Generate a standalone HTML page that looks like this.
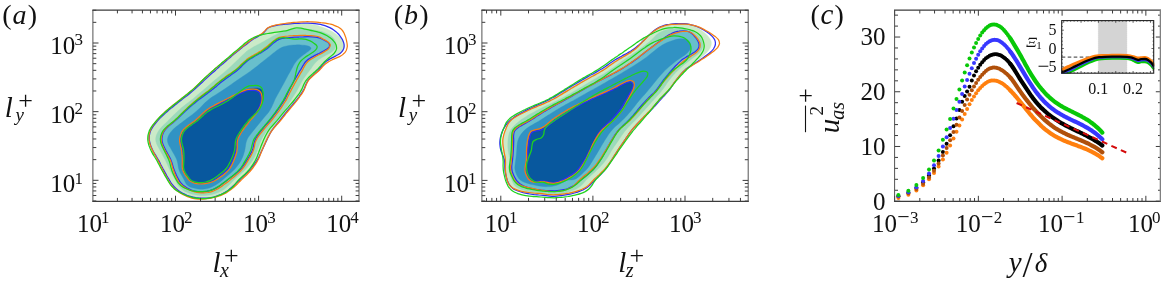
<!DOCTYPE html>
<html><head><meta charset="utf-8"><title>figure</title>
<style>html,body{margin:0;padding:0;background:#fff}svg{display:block}text{font-family:'Liberation Serif', 'DejaVu Serif', serif;fill:#111}.it{font-style:italic}</style></head><body>
<svg width="1161" height="285" viewBox="0 0 1161 285">
<rect width="1161" height="285" fill="#fff"/>
<g id="panel-a">
<path d="M169.2 180.0C168.6 178.9 167.7 177.4 167.0 176.1C166.3 174.7 165.6 173.4 164.9 172.1C164.2 170.7 163.5 169.4 162.8 168.1C162.2 166.7 161.5 165.4 160.8 164.0C160.2 162.7 159.5 161.3 158.8 160.0C158.0 158.7 157.2 157.4 156.4 156.1C155.7 154.9 154.8 153.6 154.1 152.3C153.4 151.0 152.7 149.7 152.0 148.3C151.4 146.9 150.8 145.5 150.4 144.1C149.9 142.7 149.6 141.2 149.4 139.7C149.3 138.3 149.3 136.7 149.5 135.3C149.7 133.8 150.0 132.3 150.6 130.9C151.1 129.5 151.8 128.2 152.6 126.9C153.4 125.7 154.3 124.5 155.3 123.3C156.2 122.1 157.2 121.0 158.2 119.9C159.2 118.8 160.3 117.7 161.4 116.7C162.5 115.6 163.6 114.6 164.7 113.6C165.8 112.6 167.0 111.7 168.1 110.7C169.3 109.7 170.4 108.8 171.6 107.8C172.8 106.9 174.0 105.9 175.1 105.0C176.3 104.1 177.5 103.2 178.7 102.3C179.9 101.3 181.1 100.4 182.3 99.5C183.4 98.5 184.6 97.6 185.8 96.7C187.0 95.7 188.1 94.8 189.3 93.8C190.5 92.9 191.6 91.9 192.8 91.0C193.9 90.0 195.0 89.0 196.1 87.9C197.2 86.9 198.3 85.8 199.3 84.8C200.4 83.7 201.5 82.7 202.6 81.6C203.6 80.6 204.7 79.5 205.8 78.5C206.9 77.4 208.0 76.4 209.1 75.4C210.2 74.4 211.3 73.3 212.4 72.3C213.5 71.3 214.6 70.3 215.8 69.3C216.9 68.3 218.0 67.4 219.2 66.4C220.3 65.4 221.5 64.4 222.6 63.5C223.8 62.5 224.9 61.5 226.1 60.6C227.3 59.6 228.4 58.7 229.6 57.7C230.7 56.8 231.9 55.8 233.1 54.8C234.2 53.9 235.4 53.0 236.6 52.0C237.8 51.1 238.9 50.1 240.1 49.2C241.3 48.3 242.5 47.4 243.7 46.4C244.9 45.5 246.0 44.6 247.2 43.7C248.4 42.8 249.6 41.8 250.8 41.0C252.1 40.1 253.3 39.2 254.5 38.4C255.8 37.6 257.2 37.0 258.5 36.3C259.9 35.6 261.3 35.1 262.5 34.2C263.7 33.4 264.5 32.2 265.6 31.2C266.6 30.2 267.6 29.1 268.8 28.3C270.0 27.5 271.5 27.0 272.9 26.6C274.3 26.1 275.8 25.8 277.3 25.5C278.8 25.1 280.2 24.9 281.7 24.7C283.2 24.4 284.7 24.3 286.2 24.1C287.7 24.0 289.2 23.9 290.7 23.9C292.2 23.8 293.7 23.9 295.2 23.9C296.7 23.9 298.2 24.0 299.7 24.0C301.2 24.0 302.7 24.0 304.2 24.0C305.7 24.0 307.3 24.0 308.7 24.1C310.2 24.2 311.7 24.4 313.2 24.6C314.7 24.9 316.2 25.2 317.6 25.6C319.1 26.0 320.5 26.5 321.9 27.0C323.3 27.5 324.7 28.0 326.1 28.6C327.5 29.2 328.9 29.8 330.2 30.5C331.5 31.2 332.9 31.9 334.1 32.8C335.3 33.6 336.5 34.6 337.7 35.5C338.9 36.4 340.2 37.2 341.2 38.2C342.1 39.3 343.0 40.5 343.5 41.8C344.0 43.1 344.4 44.7 344.3 46.1C344.3 47.5 343.8 49.0 343.0 50.2C342.3 51.3 341.0 52.3 339.8 53.2C338.6 54.1 337.3 54.8 336.0 55.6C334.7 56.4 333.4 57.1 332.1 57.9C330.9 58.7 329.6 59.6 328.5 60.5C327.3 61.4 326.2 62.5 325.1 63.5C324.0 64.5 322.9 65.6 321.9 66.6C320.8 67.7 319.7 68.8 318.6 69.8C317.6 70.8 316.4 71.8 315.3 72.9C314.2 73.9 313.0 74.8 312.0 75.9C310.9 76.9 309.8 78.0 308.9 79.1C307.9 80.3 307.2 81.6 306.5 82.9C305.8 84.2 305.4 85.7 304.8 87.1C304.1 88.4 303.5 89.8 302.8 91.1C302.0 92.4 301.2 93.6 300.3 94.9C299.5 96.1 298.6 97.3 297.6 98.5C296.7 99.7 295.8 100.9 294.8 102.0C293.9 103.2 292.9 104.3 291.9 105.5C290.9 106.6 289.9 107.7 289.0 108.9C288.0 110.0 287.0 111.2 286.1 112.4C285.2 113.5 284.2 114.7 283.3 115.9C282.4 117.1 281.4 118.3 280.5 119.4C279.5 120.6 278.5 121.7 277.5 122.8C276.5 124.0 275.5 125.1 274.6 126.2C273.6 127.4 272.6 128.5 271.8 129.8C270.9 131.0 270.1 132.3 269.3 133.6C268.6 134.9 267.9 136.2 267.2 137.5C266.5 138.9 265.9 140.2 265.3 141.6C264.6 143.0 264.0 144.3 263.4 145.7C262.8 147.1 262.2 148.5 261.6 149.8C261.0 151.2 260.4 152.6 259.8 154.0C259.2 155.4 258.6 156.8 257.9 158.1C257.3 159.4 256.5 160.7 255.7 162.0C255.0 163.3 254.1 164.6 253.2 165.8C252.4 167.0 251.5 168.2 250.5 169.3C249.5 170.5 248.5 171.6 247.5 172.7C246.4 173.8 245.4 174.8 244.3 175.9C243.2 176.9 242.1 178.0 241.0 179.0C240.0 180.1 238.9 181.1 237.8 182.2C236.8 183.2 235.7 184.3 234.6 185.3C233.5 186.3 232.3 187.3 231.2 188.3C230.0 189.2 228.8 190.1 227.6 191.0C226.3 191.8 225.0 192.6 223.7 193.3C222.4 194.0 221.0 194.6 219.6 195.1C218.2 195.6 216.7 196.1 215.3 196.5C213.9 196.9 212.4 197.2 210.9 197.4C209.4 197.7 207.9 197.8 206.4 197.9C204.9 198.0 203.4 198.0 201.9 198.0C200.4 197.9 198.9 197.8 197.4 197.6C195.9 197.4 194.4 197.2 193.0 196.8C191.5 196.5 190.1 196.0 188.7 195.5C187.3 195.0 185.9 194.4 184.5 193.8C183.2 193.1 181.8 192.4 180.5 191.7C179.3 190.9 178.0 190.0 176.8 189.1C175.7 188.2 174.5 187.2 173.5 186.1C172.5 185.0 171.5 183.6 170.8 182.6C170.0 181.5 169.8 181.1 169.2 180.0Z" fill="#cbeac8" stroke="#cbeac8" stroke-width="0.4"/>
<path d="M175.3 180.0C174.6 178.7 173.8 177.4 173.1 176.1C172.4 174.8 171.6 173.5 170.9 172.1C170.2 170.8 169.6 169.4 168.9 168.1C168.3 166.7 167.7 165.3 167.1 164.0C166.5 162.6 165.9 161.2 165.2 159.9C164.5 158.5 163.8 157.2 163.1 155.9C162.4 154.6 161.7 153.3 160.9 152.0C160.2 150.6 159.5 149.3 158.8 148.0C158.1 146.7 157.2 145.4 156.7 144.0C156.2 142.6 155.7 141.2 155.7 139.8C155.6 138.3 155.9 136.8 156.3 135.4C156.8 134.0 157.5 132.6 158.2 131.4C159.0 130.1 159.9 128.9 160.9 127.8C161.9 126.6 163.0 125.6 164.1 124.6C165.1 123.5 166.3 122.5 167.3 121.5C168.4 120.4 169.5 119.4 170.5 118.3C171.6 117.2 172.6 116.1 173.7 115.1C174.7 114.0 175.8 112.9 176.9 111.9C178.0 110.9 179.1 109.9 180.2 108.9C181.4 107.9 182.5 107.0 183.7 106.1C184.9 105.1 186.1 104.2 187.3 103.3C188.5 102.4 189.7 101.5 190.8 100.5C192.0 99.6 193.2 98.6 194.3 97.7C195.5 96.7 196.6 95.7 197.7 94.8C198.9 93.8 200.0 92.8 201.2 91.8C202.3 90.9 203.4 89.9 204.6 88.9C205.7 87.9 206.9 86.9 208.0 86.0C209.2 85.0 210.3 84.0 211.4 83.0C212.6 82.1 213.7 81.1 214.9 80.1C216.0 79.2 217.2 78.2 218.3 77.2C219.5 76.3 220.6 75.3 221.8 74.3C222.9 73.4 224.0 72.4 225.2 71.4C226.3 70.4 227.4 69.4 228.6 68.4C229.7 67.4 230.8 66.4 231.9 65.4C233.0 64.3 234.1 63.3 235.2 62.3C236.2 61.3 237.3 60.2 238.4 59.2C239.5 58.1 240.5 57.1 241.6 56.0C242.7 55.0 243.7 53.9 244.9 52.9C246.0 51.9 247.2 51.0 248.4 50.1C249.6 49.3 250.9 48.5 252.2 47.7C253.5 47.0 254.8 46.3 256.1 45.5C257.5 44.8 258.8 44.1 260.1 43.4C261.5 42.7 262.8 42.1 264.1 41.3C265.4 40.6 266.7 39.8 268.0 39.1C269.3 38.3 270.5 37.4 271.8 36.7C273.1 35.9 274.4 35.3 275.8 34.7C277.2 34.0 278.5 33.4 279.9 32.8C281.3 32.3 282.7 31.8 284.2 31.3C285.6 30.9 287.1 30.6 288.5 30.2C290.0 29.9 291.5 29.7 293.0 29.5C294.5 29.3 296.0 29.2 297.5 29.2C299.0 29.1 300.5 29.1 302.0 29.1C303.5 29.1 305.0 29.2 306.5 29.3C308.0 29.3 309.5 29.4 310.9 29.6C312.4 29.8 313.9 30.0 315.4 30.2C316.9 30.4 318.4 30.7 319.8 31.1C321.3 31.4 322.7 31.9 324.1 32.4C325.5 33.0 326.9 33.6 328.2 34.3C329.5 35.0 330.9 35.7 332.0 36.7C333.1 37.6 334.1 38.8 334.7 40.0C335.4 41.3 335.7 42.9 335.8 44.3C335.8 45.7 335.6 47.3 335.0 48.5C334.4 49.8 333.2 50.8 332.1 51.7C331.0 52.7 329.6 53.4 328.3 54.1C327.0 54.9 325.6 55.5 324.3 56.2C323.0 56.9 321.7 57.6 320.4 58.5C319.2 59.3 317.9 60.2 316.9 61.2C315.8 62.2 314.8 63.3 313.9 64.5C312.9 65.7 312.1 67.0 311.3 68.2C310.4 69.4 309.5 70.6 308.6 71.8C307.7 73.0 306.8 74.2 305.9 75.4C305.0 76.6 304.1 77.9 303.3 79.1C302.5 80.4 301.8 81.7 301.0 83.0C300.3 84.3 299.6 85.6 298.9 87.0C298.2 88.3 297.5 89.6 296.7 90.9C296.0 92.2 295.2 93.5 294.4 94.7C293.6 96.0 292.7 97.3 291.9 98.5C291.1 99.8 290.4 101.1 289.6 102.3C288.8 103.6 288.0 104.9 287.2 106.2C286.4 107.4 285.6 108.7 284.7 109.9C283.8 111.1 282.9 112.3 282.0 113.5C281.0 114.7 280.1 115.8 279.1 117.0C278.1 118.1 277.1 119.2 276.1 120.4C275.1 121.5 274.1 122.6 273.1 123.7C272.1 124.8 271.0 125.9 270.1 127.0C269.1 128.1 268.1 129.3 267.2 130.5C266.3 131.7 265.4 132.9 264.6 134.2C263.8 135.4 263.0 136.7 262.3 138.0C261.6 139.3 260.9 140.7 260.4 142.1C259.8 143.5 259.3 144.9 258.8 146.3C258.3 147.7 257.8 149.1 257.3 150.5C256.7 151.9 256.2 153.3 255.6 154.7C255.0 156.1 254.4 157.5 253.6 158.8C252.9 160.1 252.1 161.3 251.2 162.5C250.3 163.8 249.4 164.9 248.4 166.1C247.4 167.2 246.4 168.3 245.4 169.4C244.4 170.5 243.3 171.6 242.2 172.6C241.1 173.6 240.0 174.6 238.9 175.6C237.8 176.6 236.6 177.6 235.5 178.6C234.4 179.6 233.3 180.7 232.3 181.7C231.2 182.8 230.2 183.9 229.1 184.9C228.0 185.9 226.9 187.0 225.7 187.9C224.6 188.9 223.4 189.8 222.1 190.5C220.8 191.3 219.5 192.0 218.1 192.6C216.7 193.1 215.3 193.6 213.8 194.0C212.4 194.4 210.9 194.7 209.4 195.0C208.0 195.2 206.5 195.4 205.0 195.5C203.5 195.5 202.0 195.6 200.5 195.5C199.0 195.4 197.5 195.3 196.0 195.0C194.5 194.8 193.1 194.4 191.6 194.0C190.2 193.6 188.8 193.1 187.4 192.5C186.0 191.9 184.7 191.2 183.4 190.4C182.2 189.6 181.0 188.7 180.0 187.6C178.9 186.5 178.1 185.3 177.3 184.0C176.5 182.7 176.0 181.3 175.3 180.0Z" fill="#9dd9bb" stroke="#9dd9bb" stroke-width="0.4"/>
<path d="M178.6 180.0C177.9 178.9 177.2 177.3 176.5 175.9C175.9 174.6 175.3 173.2 174.8 171.8C174.2 170.4 173.7 169.0 173.3 167.6C172.8 166.1 172.5 164.7 172.0 163.2C171.6 161.8 171.1 160.4 170.5 159.0C169.8 157.7 169.1 156.4 168.3 155.1C167.6 153.8 166.8 152.5 166.1 151.2C165.4 149.8 164.7 148.5 164.1 147.1C163.5 145.8 162.8 144.4 162.4 143.0C162.1 141.6 161.8 140.0 161.9 138.6C162.0 137.1 162.3 135.6 162.8 134.2C163.3 132.9 164.1 131.5 164.9 130.3C165.8 129.1 166.9 128.1 168.0 127.0C169.0 126.0 170.3 125.1 171.4 124.2C172.6 123.2 173.8 122.3 174.9 121.3C176.1 120.3 177.2 119.3 178.2 118.3C179.3 117.2 180.4 116.2 181.4 115.1C182.5 114.0 183.5 112.9 184.6 111.9C185.7 110.8 186.7 109.8 187.8 108.8C188.9 107.8 190.1 106.8 191.2 105.8C192.3 104.8 193.5 103.8 194.6 102.8C195.8 101.9 196.9 100.9 198.1 100.0C199.2 99.0 200.4 98.1 201.6 97.2C202.8 96.3 204.0 95.4 205.2 94.4C206.4 93.5 207.6 92.6 208.8 91.7C210.0 90.8 211.1 89.9 212.3 88.9C213.5 88.0 214.6 87.0 215.8 86.0C216.9 85.0 218.0 84.1 219.2 83.1C220.3 82.1 221.5 81.2 222.7 80.3C223.9 79.4 225.1 78.5 226.3 77.6C227.5 76.7 228.8 75.9 230.0 75.0C231.2 74.2 232.5 73.3 233.7 72.4C234.9 71.6 236.1 70.7 237.3 69.7C238.4 68.7 239.5 67.7 240.6 66.7C241.7 65.7 242.7 64.6 243.8 63.6C245.0 62.5 246.1 61.5 247.3 60.6C248.5 59.7 249.7 58.9 251.0 58.1C252.2 57.3 253.6 56.6 254.9 55.8C256.2 55.1 257.5 54.4 258.8 53.6C260.1 52.9 261.4 52.1 262.7 51.3C263.9 50.5 265.2 49.7 266.4 48.8C267.6 47.9 268.7 46.9 269.9 45.9C271.0 45.0 272.1 43.9 273.3 43.0C274.4 42.0 275.6 41.0 276.8 40.3C278.1 39.5 279.5 38.9 280.9 38.5C282.3 38.0 283.8 37.8 285.3 37.6C286.8 37.4 288.3 37.2 289.8 37.1C291.3 36.9 292.8 36.8 294.2 36.7C295.7 36.6 297.2 36.5 298.7 36.5C300.2 36.4 301.7 36.4 303.2 36.4C304.7 36.3 306.3 36.3 307.8 36.4C309.3 36.4 310.8 36.5 312.2 36.6C313.7 36.8 315.2 36.9 316.7 37.3C318.1 37.7 319.5 38.2 320.8 38.9C322.2 39.5 323.5 40.3 324.7 41.0C326.0 41.8 327.7 42.4 328.4 43.4C329.1 44.4 329.3 45.8 328.9 46.8C328.5 47.9 327.0 48.9 325.9 49.8C324.7 50.7 323.3 51.4 322.0 52.1C320.7 52.8 319.4 53.5 318.0 54.2C316.7 54.9 315.4 55.5 314.1 56.3C312.7 57.0 311.4 57.7 310.2 58.6C309.0 59.4 307.7 60.3 306.7 61.4C305.6 62.4 304.8 63.6 303.9 64.9C303.1 66.1 302.4 67.5 301.7 68.8C300.9 70.1 300.1 71.3 299.4 72.6C298.6 73.9 297.8 75.2 297.0 76.5C296.3 77.8 295.5 79.1 294.8 80.4C294.0 81.7 293.3 83.0 292.6 84.3C291.8 85.6 291.1 86.9 290.4 88.3C289.7 89.6 289.0 90.9 288.4 92.3C287.7 93.6 287.1 95.0 286.4 96.3C285.7 97.7 285.0 99.0 284.3 100.3C283.5 101.6 282.7 102.9 281.9 104.1C281.1 105.4 280.3 106.7 279.4 107.9C278.6 109.1 277.7 110.4 276.9 111.6C276.0 112.8 275.1 114.0 274.2 115.2C273.3 116.4 272.4 117.6 271.4 118.8C270.5 120.0 269.6 121.1 268.6 122.3C267.6 123.4 266.6 124.5 265.6 125.7C264.7 126.8 263.7 128.0 262.7 129.1C261.8 130.3 260.9 131.5 259.9 132.6C259.0 133.8 258.1 135.0 257.3 136.3C256.5 137.5 255.7 138.8 255.1 140.2C254.5 141.5 254.2 143.0 253.8 144.5C253.4 145.9 253.2 147.4 252.8 148.8C252.3 150.2 251.7 151.6 251.1 153.0C250.4 154.3 249.6 155.6 248.9 156.9C248.1 158.2 247.3 159.5 246.5 160.8C245.7 162.0 245.0 163.3 244.1 164.6C243.3 165.8 242.4 167.0 241.5 168.2C240.5 169.3 239.5 170.4 238.4 171.5C237.3 172.5 236.2 173.5 235.0 174.4C233.9 175.4 232.7 176.3 231.5 177.2C230.3 178.2 229.1 179.1 228.0 180.0C226.8 181.0 225.6 181.9 224.4 182.8C223.2 183.7 222.1 184.7 220.8 185.5C219.6 186.4 218.4 187.3 217.1 188.1C215.8 188.8 214.5 189.5 213.1 190.0C211.7 190.5 210.2 191.0 208.8 191.3C207.3 191.6 205.8 191.8 204.3 191.9C202.8 192.0 201.3 192.0 199.8 191.9C198.3 191.8 196.8 191.6 195.4 191.3C193.9 191.0 192.5 190.6 191.1 190.0C189.7 189.5 188.3 188.9 187.0 188.2C185.7 187.4 184.4 186.6 183.2 185.7C182.1 184.8 180.9 183.4 180.2 182.5C179.4 181.5 179.2 181.1 178.6 180.0Z" fill="#68bfcc" stroke="#68bfcc" stroke-width="0.4"/>
<path d="M184.2 180.0C183.5 178.7 182.8 177.4 182.1 176.1C181.3 174.8 180.5 173.5 179.9 172.1C179.3 170.8 178.9 169.3 178.5 167.9C178.1 166.5 178.1 164.9 177.8 163.5C177.5 162.0 177.1 160.5 176.6 159.2C176.1 157.8 175.3 156.5 174.6 155.2C173.9 153.8 173.1 152.6 172.3 151.3C171.6 150.0 170.8 148.7 170.1 147.3C169.4 146.0 168.5 144.7 168.1 143.4C167.6 142.0 167.3 140.5 167.5 139.1C167.6 137.7 168.3 136.2 168.9 134.9C169.6 133.6 170.6 132.4 171.5 131.2C172.5 130.1 173.5 129.0 174.6 128.0C175.8 127.0 177.0 126.1 178.2 125.2C179.3 124.3 180.6 123.4 181.8 122.5C183.0 121.6 184.2 120.7 185.4 119.8C186.6 118.9 187.8 118.0 189.0 117.1C190.2 116.2 191.4 115.3 192.5 114.4C193.7 113.4 194.9 112.5 196.1 111.5C197.2 110.6 198.3 109.6 199.4 108.5C200.5 107.5 201.5 106.4 202.5 105.3C203.6 104.2 204.6 103.1 205.7 102.1C206.8 101.1 208.0 100.1 209.1 99.2C210.3 98.3 211.6 97.5 212.8 96.6C214.1 95.8 215.4 95.0 216.6 94.2C217.9 93.4 219.2 92.6 220.4 91.8C221.7 91.0 223.0 90.1 224.2 89.3C225.5 88.5 226.7 87.6 227.9 86.8C229.2 85.9 230.4 85.0 231.6 84.2C232.9 83.3 234.1 82.5 235.3 81.6C236.5 80.7 237.8 79.9 239.0 79.0C240.3 78.2 241.5 77.3 242.7 76.5C244.0 75.6 245.2 74.8 246.5 74.0C247.7 73.1 248.9 72.3 250.2 71.4C251.4 70.5 252.6 69.6 253.8 68.7C255.0 67.8 256.2 66.9 257.4 66.0C258.5 65.0 259.7 64.1 260.9 63.1C262.1 62.2 263.2 61.3 264.4 60.3C265.6 59.4 266.7 58.4 267.9 57.5C269.1 56.6 270.2 55.6 271.4 54.7C272.6 53.7 273.7 52.8 274.9 51.9C276.1 51.0 277.3 50.0 278.6 49.2C279.9 48.4 281.2 47.7 282.6 47.1C283.9 46.6 285.4 46.2 286.9 45.9C288.3 45.5 289.8 45.4 291.3 45.2C292.8 45.0 294.3 44.9 295.8 44.9C297.3 44.8 298.8 44.8 300.3 44.9C301.8 45.0 303.3 45.1 304.8 45.3C306.2 45.5 308.0 45.8 309.1 46.3C310.1 46.9 311.2 47.7 311.0 48.5C310.9 49.3 309.4 50.3 308.4 51.2C307.3 52.1 305.9 53.0 304.7 53.9C303.5 54.8 302.3 55.7 301.2 56.6C300.0 57.6 298.9 58.5 297.8 59.6C296.8 60.7 295.8 61.9 295.0 63.1C294.1 64.3 293.4 65.6 292.7 66.9C291.9 68.2 291.2 69.6 290.5 70.9C289.8 72.2 289.1 73.5 288.3 74.8C287.6 76.2 286.9 77.5 286.2 78.8C285.5 80.1 284.8 81.5 284.1 82.8C283.4 84.1 282.6 85.4 281.9 86.7C281.2 88.0 280.4 89.4 279.7 90.7C279.0 92.0 278.3 93.3 277.6 94.6C276.8 95.9 276.1 97.3 275.4 98.6C274.8 100.0 274.2 101.3 273.6 102.7C272.9 104.1 272.4 105.5 271.8 106.8C271.1 108.2 270.4 109.5 269.6 110.7C268.8 112.0 267.8 113.2 266.9 114.3C265.9 115.5 264.9 116.6 263.9 117.7C263.0 118.9 262.0 120.0 261.0 121.2C260.1 122.3 259.1 123.5 258.2 124.7C257.2 125.8 256.3 127.0 255.3 128.2C254.4 129.4 253.5 130.5 252.5 131.7C251.6 132.9 250.6 134.0 249.8 135.3C248.9 136.5 248.0 137.7 247.3 139.0C246.7 140.4 246.3 141.8 245.9 143.3C245.6 144.7 245.5 146.2 245.2 147.7C245.0 149.2 244.7 150.6 244.3 152.1C243.9 153.5 243.4 155.0 242.9 156.4C242.3 157.8 241.7 159.1 241.0 160.4C240.3 161.7 239.5 163.0 238.6 164.3C237.8 165.5 236.8 166.7 235.9 167.8C234.9 169.0 233.9 170.1 232.8 171.1C231.7 172.2 230.6 173.2 229.5 174.1C228.3 175.1 227.2 176.1 226.0 177.0C224.8 178.0 223.7 178.9 222.5 179.9C221.3 180.8 220.2 181.8 219.0 182.7C217.8 183.6 216.6 184.4 215.3 185.2C214.0 186.0 212.6 186.7 211.3 187.2C209.9 187.8 208.4 188.2 207.0 188.6C205.5 188.9 204.0 189.1 202.5 189.2C201.0 189.2 199.5 189.1 198.1 188.9C196.6 188.7 195.1 188.3 193.7 188.0C192.2 187.6 190.7 187.3 189.4 186.7C188.2 186.0 187.1 185.1 186.2 184.0C185.4 182.9 184.9 181.4 184.2 180.0Z" fill="#3193c4" stroke="#3193c4" stroke-width="0.4"/>
<path d="M189.6 179.8C188.5 178.9 187.6 177.6 186.8 176.4C185.9 175.2 185.0 174.0 184.3 172.6C183.7 171.3 183.1 169.9 182.9 168.5C182.6 167.0 182.7 165.5 182.8 164.0C182.8 162.5 182.9 161.0 182.9 159.5C183.0 158.0 182.9 156.5 182.8 155.0C182.8 153.5 182.7 152.0 182.5 150.5C182.3 149.1 181.9 147.6 181.6 146.1C181.3 144.7 180.8 143.2 180.7 141.7C180.6 140.3 180.7 138.7 180.9 137.3C181.2 135.8 181.6 134.4 182.3 133.0C182.9 131.7 183.8 130.5 184.8 129.4C185.8 128.3 187.0 127.4 188.1 126.4C189.3 125.5 190.6 124.7 191.8 123.8C193.0 122.9 194.3 122.1 195.4 121.2C196.6 120.2 197.8 119.3 198.9 118.2C200.0 117.2 201.0 116.1 202.1 115.1C203.2 114.1 204.2 113.0 205.4 112.0C206.5 111.1 207.8 110.2 209.0 109.4C210.3 108.6 211.6 107.9 212.9 107.2C214.2 106.4 215.6 105.8 216.9 105.1C218.3 104.4 219.6 103.8 221.0 103.1C222.3 102.4 223.6 101.7 225.0 101.0C226.3 100.3 227.6 99.6 228.9 98.9C230.3 98.2 231.6 97.4 232.9 96.7C234.2 95.9 235.5 95.2 236.8 94.4C238.1 93.7 239.4 92.9 240.7 92.2C242.0 91.5 243.3 90.7 244.7 90.2C246.1 89.6 247.5 89.2 249.0 88.9C250.4 88.6 251.9 88.5 253.4 88.4C254.9 88.3 256.5 88.0 257.8 88.2C259.2 88.4 260.6 88.8 261.4 89.5C262.3 90.2 262.7 91.1 263.0 92.3C263.3 93.5 263.3 95.2 263.3 96.6C263.2 98.1 263.0 99.6 262.6 101.0C262.2 102.4 261.5 103.8 260.8 105.2C260.2 106.5 259.4 107.8 258.6 109.0C257.8 110.3 256.9 111.5 256.0 112.7C255.1 113.9 254.1 115.0 253.1 116.2C252.2 117.4 251.2 118.5 250.3 119.7C249.3 120.9 248.4 122.0 247.5 123.2C246.6 124.4 245.6 125.6 244.8 126.8C243.9 128.0 243.0 129.3 242.2 130.5C241.4 131.8 240.5 133.0 239.8 134.3C239.0 135.6 238.3 136.9 237.8 138.3C237.2 139.7 236.9 141.2 236.7 142.6C236.5 144.1 236.6 145.6 236.5 147.1C236.3 148.6 236.2 150.1 235.8 151.5C235.5 153.0 235.0 154.4 234.4 155.8C233.9 157.2 233.3 158.6 232.7 160.0C232.1 161.4 231.5 162.7 230.8 164.1C230.1 165.4 229.4 166.7 228.5 167.9C227.7 169.1 226.6 170.2 225.6 171.3C224.5 172.3 223.3 173.3 222.1 174.2C221.0 175.1 219.8 176.0 218.5 176.9C217.3 177.7 216.1 178.6 214.8 179.4C213.5 180.2 212.2 180.9 210.8 181.4C209.5 182.0 208.0 182.4 206.5 182.8C205.1 183.1 203.6 183.4 202.1 183.5C200.7 183.6 199.1 183.5 197.7 183.2C196.2 183.0 194.7 182.6 193.4 182.1C192.0 181.5 190.7 180.8 189.6 179.8Z" fill="#08589e" stroke="#08589e" stroke-width="0.4"/>
<path d="M169.3 179.9C168.8 179.1 167.8 177.3 167.0 176.0C166.3 174.8 165.5 173.4 164.8 172.1C164.1 170.8 163.4 169.5 162.7 168.2C162.0 166.8 161.3 165.5 160.6 164.2C159.9 162.8 159.3 161.5 158.5 160.2C157.8 158.9 157.0 157.6 156.2 156.3C155.5 155.0 154.6 153.8 153.9 152.5C153.2 151.2 152.5 149.8 151.9 148.4C151.3 147.1 150.7 145.7 150.3 144.3C149.8 142.8 149.5 141.4 149.3 139.9C149.2 138.4 149.2 136.9 149.4 135.4C149.6 134.0 150.0 132.5 150.5 131.1C151.1 129.7 151.8 128.4 152.6 127.1C153.4 125.8 154.3 124.7 155.3 123.5C156.2 122.3 157.2 121.2 158.2 120.1C159.2 119.0 160.3 117.9 161.4 116.9C162.4 115.8 163.5 114.8 164.6 113.8C165.7 112.8 166.9 111.8 168.0 110.8C169.1 109.8 170.3 108.9 171.4 107.9C172.6 107.0 173.8 106.0 174.9 105.1C176.1 104.2 177.3 103.2 178.5 102.3C179.6 101.4 180.8 100.4 182.0 99.5C183.2 98.6 184.3 97.6 185.5 96.7C186.7 95.8 187.9 94.9 189.1 93.9C190.2 93.0 191.4 92.0 192.5 91.1C193.7 90.1 194.8 89.1 195.9 88.1C197.0 87.1 198.1 86.1 199.2 85.1C200.3 84.0 201.4 83.0 202.5 82.0C203.6 80.9 204.7 79.9 205.8 78.9C206.9 77.9 208.0 76.9 209.1 75.9C210.2 74.9 211.3 73.8 212.5 72.8C213.6 71.8 214.7 70.8 215.8 69.9C216.9 68.9 218.1 67.9 219.2 66.9C220.3 65.9 221.5 64.9 222.6 63.9C223.7 63.0 224.9 62.0 226.0 61.0C227.2 60.0 228.3 59.0 229.4 58.1C230.6 57.1 231.7 56.1 232.9 55.1C234.0 54.2 235.1 53.2 236.3 52.3C237.5 51.3 238.6 50.3 239.8 49.4C241.0 48.5 242.1 47.5 243.3 46.6C244.5 45.7 245.7 44.8 246.9 43.9C248.1 43.0 249.3 42.0 250.5 41.1C251.7 40.3 252.9 39.3 254.1 38.5C255.4 37.7 256.7 37.1 258.1 36.4C259.4 35.6 260.8 35.1 262.0 34.2C263.2 33.4 264.0 32.2 265.0 31.1C266.0 30.1 266.8 28.9 268.0 28.1C269.2 27.3 270.7 26.8 272.1 26.3C273.6 25.9 275.0 25.6 276.5 25.3C278.0 25.1 279.5 24.9 281.0 24.7C282.5 24.5 283.9 24.3 285.4 24.2C286.9 24.0 288.4 23.9 289.9 23.8C291.4 23.7 292.9 23.6 294.4 23.5C295.9 23.4 297.4 23.4 298.9 23.3C300.4 23.3 301.9 23.2 303.4 23.2C304.9 23.2 306.4 23.2 307.9 23.2C309.4 23.2 310.9 23.3 312.4 23.4C313.9 23.5 315.4 23.6 316.9 23.8C318.4 24.0 319.8 24.3 321.3 24.6C322.7 25.0 324.2 25.4 325.6 25.9C327.0 26.4 328.4 27.0 329.8 27.6C331.1 28.3 332.4 29.0 333.7 29.9C334.9 30.7 336.1 31.6 337.1 32.7C338.2 33.7 339.2 34.8 340.1 36.0C341.0 37.2 341.9 38.5 342.5 39.8C343.1 41.2 343.8 42.6 344.0 44.0C344.2 45.4 344.2 47.0 343.8 48.4C343.4 49.7 342.5 51.1 341.5 52.1C340.6 53.2 339.3 54.1 338.0 54.8C336.8 55.6 335.3 56.2 334.0 56.9C332.7 57.5 331.3 58.2 330.0 58.9C328.7 59.6 327.4 60.4 326.2 61.3C325.0 62.2 323.9 63.2 322.9 64.4C322.0 65.5 321.2 66.8 320.3 68.0C319.4 69.2 318.4 70.3 317.4 71.4C316.3 72.4 315.1 73.4 314.0 74.4C312.9 75.4 311.7 76.3 310.7 77.4C309.6 78.5 308.6 79.6 307.8 80.8C307.0 82.0 306.4 83.4 305.8 84.8C305.2 86.2 304.8 87.6 304.1 89.0C303.4 90.3 302.7 91.6 301.8 92.8C301.0 94.1 300.1 95.3 299.3 96.5C298.4 97.7 297.5 98.9 296.5 100.1C295.6 101.3 294.6 102.4 293.6 103.5C292.7 104.7 291.6 105.8 290.7 106.9C289.7 108.0 288.7 109.2 287.7 110.3C286.8 111.5 285.9 112.7 284.9 113.9C284.0 115.0 283.1 116.2 282.2 117.4C281.3 118.6 280.3 119.8 279.4 120.9C278.4 122.1 277.5 123.2 276.5 124.4C275.6 125.6 274.6 126.7 273.7 127.9C272.8 129.1 271.9 130.3 271.1 131.6C270.3 132.9 269.6 134.2 269.0 135.5C268.3 136.9 267.6 138.2 267.0 139.6C266.3 140.9 265.7 142.3 265.1 143.6C264.4 145.0 263.8 146.4 263.2 147.7C262.6 149.1 261.9 150.5 261.3 151.8C260.7 153.2 260.1 154.6 259.4 155.9C258.8 157.3 258.1 158.6 257.3 159.9C256.5 161.2 255.7 162.4 254.8 163.6C254.0 164.9 253.1 166.1 252.1 167.2C251.2 168.4 250.2 169.5 249.2 170.6C248.2 171.7 247.1 172.8 246.0 173.8C244.9 174.9 243.8 175.9 242.7 176.9C241.7 177.9 240.6 179.0 239.5 180.0C238.4 181.0 237.3 182.1 236.2 183.1C235.2 184.2 234.1 185.2 232.9 186.2C231.8 187.2 230.7 188.2 229.5 189.1C228.4 190.1 227.2 191.0 225.9 191.8C224.6 192.6 223.3 193.3 222.0 194.0C220.7 194.7 219.3 195.2 217.9 195.7C216.4 196.3 215.0 196.7 213.6 197.1C212.1 197.4 210.6 197.7 209.1 197.9C207.7 198.1 206.2 198.2 204.7 198.2C203.2 198.2 201.7 198.2 200.2 198.1C198.7 198.0 197.2 197.9 195.7 197.7C194.2 197.4 192.7 197.1 191.3 196.7C189.9 196.3 188.4 195.8 187.0 195.3C185.7 194.7 184.3 194.1 182.9 193.4C181.6 192.7 180.4 191.9 179.1 191.1C177.9 190.2 176.8 189.2 175.7 188.2C174.6 187.2 173.5 186.1 172.6 184.9C171.7 183.8 170.6 182.1 170.1 181.2C169.5 180.4 169.8 180.8 169.3 179.9Z" fill="none" stroke="#2f2ff2" stroke-width="1.25" stroke-linejoin="round"/>
<path d="M168.4 180.5C167.8 179.4 166.9 177.9 166.2 176.5C165.4 175.2 164.7 173.9 164.0 172.6C163.3 171.3 162.6 169.9 162.0 168.6C161.3 167.2 160.7 165.8 160.0 164.5C159.4 163.1 158.7 161.8 158.0 160.5C157.3 159.1 156.6 157.8 155.8 156.5C155.1 155.2 154.3 153.9 153.6 152.6C152.9 151.3 152.2 149.9 151.6 148.6C151.0 147.2 150.4 145.8 150.0 144.4C149.6 142.9 149.2 141.5 149.0 140.0C148.9 138.5 148.9 137.0 149.0 135.5C149.2 134.0 149.5 132.5 150.0 131.1C150.4 129.7 151.1 128.3 151.8 127.0C152.6 125.7 153.5 124.5 154.4 123.3C155.3 122.1 156.2 121.0 157.2 119.8C158.2 118.7 159.2 117.6 160.3 116.5C161.3 115.4 162.4 114.4 163.5 113.4C164.6 112.3 165.7 111.3 166.9 110.3C168.0 109.4 169.1 108.4 170.3 107.4C171.4 106.5 172.6 105.5 173.8 104.6C175.0 103.7 176.2 102.7 177.4 101.8C178.5 100.9 179.7 100.0 180.9 99.0C182.1 98.1 183.3 97.2 184.4 96.2C185.6 95.3 186.8 94.4 188.0 93.4C189.1 92.5 190.3 91.5 191.5 90.6C192.6 89.6 193.7 88.6 194.8 87.6C196.0 86.6 197.0 85.5 198.1 84.5C199.2 83.4 200.2 82.4 201.3 81.3C202.4 80.3 203.5 79.2 204.6 78.2C205.7 77.2 206.8 76.2 207.9 75.2C209.0 74.1 210.1 73.1 211.2 72.1C212.4 71.1 213.5 70.1 214.6 69.2C215.8 68.2 216.9 67.2 218.1 66.2C219.2 65.3 220.4 64.3 221.6 63.4C222.7 62.4 223.9 61.5 225.1 60.5C226.2 59.6 227.4 58.6 228.6 57.7C229.7 56.7 230.9 55.8 232.1 54.9C233.2 53.9 234.4 53.0 235.6 52.0C236.8 51.1 237.9 50.2 239.1 49.2C240.3 48.3 241.5 47.4 242.6 46.4C243.8 45.5 245.0 44.6 246.2 43.6C247.4 42.7 248.6 41.8 249.8 40.9C251.0 40.0 252.1 39.0 253.4 38.2C254.6 37.4 255.9 36.7 257.3 36.0C258.6 35.3 260.1 34.8 261.3 34.0C262.5 33.2 263.5 32.1 264.6 31.1C265.6 30.1 266.4 28.9 267.6 28.0C268.8 27.2 270.3 26.6 271.7 26.1C273.1 25.6 274.6 25.3 276.0 24.9C277.5 24.6 279.0 24.4 280.5 24.1C281.9 23.9 283.4 23.7 284.9 23.5C286.4 23.3 287.9 23.1 289.4 22.9C290.9 22.7 292.4 22.6 293.9 22.4C295.4 22.3 296.9 22.2 298.4 22.1C299.9 22.0 301.4 21.9 302.9 21.8C304.4 21.8 305.9 21.7 307.4 21.7C308.9 21.7 310.4 21.8 311.9 21.8C313.4 21.9 314.9 22.0 316.4 22.1C317.9 22.3 319.4 22.4 320.9 22.6C322.4 22.7 323.9 22.9 325.3 23.1C326.8 23.4 328.3 23.7 329.8 24.0C331.2 24.4 332.7 24.8 334.1 25.3C335.5 25.8 336.9 26.3 338.2 27.0C339.5 27.8 340.8 28.6 341.8 29.7C342.8 30.7 343.5 32.1 344.2 33.4C344.8 34.8 345.3 36.2 345.8 37.6C346.2 39.1 346.6 40.6 346.8 42.0C347.1 43.5 347.4 45.0 347.3 46.5C347.1 47.9 346.7 49.4 346.1 50.7C345.4 52.0 344.4 53.2 343.3 54.1C342.2 55.1 340.8 55.9 339.5 56.6C338.2 57.3 336.8 57.8 335.4 58.4C334.0 59.0 332.6 59.6 331.3 60.3C330.0 60.9 328.6 61.7 327.4 62.5C326.2 63.4 325.0 64.3 323.9 65.3C322.8 66.3 321.9 67.6 320.9 68.6C319.8 69.7 318.8 70.8 317.7 71.8C316.6 72.8 315.4 73.8 314.2 74.8C313.1 75.7 311.9 76.7 310.9 77.8C309.8 78.8 308.8 79.9 308.0 81.2C307.2 82.4 306.6 83.8 306.0 85.2C305.4 86.6 305.0 88.0 304.3 89.4C303.7 90.7 302.9 92.0 302.1 93.3C301.3 94.5 300.4 95.7 299.5 97.0C298.6 98.2 297.7 99.4 296.8 100.6C295.9 101.8 294.9 102.9 294.0 104.1C293.0 105.2 292.0 106.4 291.0 107.5C290.1 108.7 289.1 109.8 288.2 111.0C287.2 112.1 286.3 113.3 285.3 114.5C284.4 115.7 283.5 116.9 282.5 118.0C281.6 119.2 280.6 120.4 279.7 121.5C278.7 122.6 277.7 123.7 276.7 124.9C275.7 126.0 274.6 127.1 273.7 128.3C272.8 129.5 271.9 130.7 271.0 131.9C270.2 133.2 269.5 134.5 268.8 135.8C268.0 137.1 267.4 138.5 266.7 139.8C266.0 141.2 265.4 142.5 264.8 143.9C264.2 145.3 263.6 146.6 263.0 148.0C262.4 149.4 261.9 150.8 261.3 152.2C260.7 153.6 260.2 155.0 259.6 156.4C259.0 157.8 258.4 159.1 257.7 160.5C257.0 161.8 256.2 163.1 255.4 164.3C254.5 165.6 253.7 166.8 252.8 168.0C251.8 169.2 250.9 170.3 249.9 171.5C248.9 172.6 247.8 173.7 246.8 174.7C245.7 175.8 244.6 176.8 243.5 177.8C242.4 178.9 241.3 179.9 240.3 181.0C239.2 182.0 238.2 183.1 237.1 184.2C236.0 185.2 234.9 186.2 233.8 187.2C232.6 188.2 231.5 189.2 230.3 190.1C229.1 191.0 227.8 191.8 226.5 192.6C225.3 193.3 223.9 194.0 222.5 194.6C221.2 195.2 219.7 195.8 218.3 196.2C216.9 196.7 215.5 197.1 214.0 197.5C212.5 197.9 211.1 198.2 209.6 198.4C208.1 198.6 206.6 198.8 205.1 198.9C203.6 199.0 202.1 199.1 200.6 199.1C199.1 199.1 197.6 199.0 196.1 198.8C194.6 198.7 193.1 198.4 191.7 198.1C190.2 197.7 188.8 197.2 187.4 196.7C186.0 196.1 184.6 195.5 183.3 194.8C182.0 194.1 180.7 193.4 179.4 192.5C178.2 191.7 177.0 190.7 175.9 189.8C174.7 188.8 173.6 187.8 172.6 186.7C171.6 185.5 170.6 184.1 169.9 183.0C169.2 182.0 169.0 181.5 168.4 180.5Z" fill="none" stroke="#f57c12" stroke-width="1.25" stroke-linejoin="round"/>
<path d="M167.6 180.1C167.1 179.2 166.1 177.5 165.3 176.2C164.6 174.9 163.8 173.6 163.1 172.3C162.3 170.9 161.6 169.6 160.9 168.3C160.2 167.0 159.5 165.6 158.8 164.3C158.1 163.0 157.4 161.6 156.7 160.3C156.0 159.0 155.2 157.7 154.4 156.5C153.6 155.2 152.8 153.9 152.1 152.6C151.4 151.3 150.7 149.9 150.1 148.5C149.6 147.1 149.0 145.7 148.6 144.3C148.2 142.8 147.9 141.4 147.8 139.9C147.7 138.4 147.8 136.9 148.0 135.4C148.3 133.9 148.7 132.5 149.2 131.1C149.8 129.7 150.5 128.4 151.3 127.1C152.1 125.8 153.1 124.7 154.0 123.5C154.9 122.3 155.9 121.2 156.9 120.1C158.0 119.0 159.0 117.9 160.1 116.8C161.1 115.8 162.2 114.7 163.3 113.7C164.4 112.7 165.6 111.7 166.7 110.7C167.8 109.7 169.0 108.8 170.1 107.8C171.3 106.8 172.5 105.9 173.6 105.0C174.8 104.0 176.0 103.1 177.2 102.2C178.4 101.3 179.5 100.3 180.7 99.4C181.9 98.4 183.1 97.5 184.3 96.6C185.4 95.6 186.6 94.7 187.8 93.8C188.9 92.8 190.1 91.9 191.2 90.9C192.4 89.9 193.5 88.9 194.6 87.9C195.7 86.9 196.8 85.8 197.9 84.8C198.9 83.7 200.0 82.6 201.1 81.6C202.2 80.6 203.3 79.5 204.3 78.5C205.4 77.5 206.5 76.4 207.7 75.4C208.8 74.4 209.9 73.4 211.0 72.4C212.1 71.4 213.2 70.4 214.3 69.4C215.5 68.4 216.6 67.4 217.8 66.4C218.9 65.4 220.0 64.5 221.2 63.5C222.3 62.5 223.5 61.6 224.6 60.6C225.8 59.6 226.9 58.6 228.1 57.7C229.2 56.7 230.4 55.7 231.5 54.7C232.6 53.8 233.8 52.8 234.9 51.8C236.1 50.9 237.3 49.9 238.4 48.9C239.5 48.0 240.7 47.0 241.8 46.0C242.9 45.0 244.1 44.0 245.2 43.0C246.4 42.1 247.6 41.2 248.8 40.3C250.1 39.5 251.3 38.7 252.7 38.0C254.0 37.3 255.4 36.8 256.8 36.3C258.2 35.8 259.7 35.3 261.1 34.9C262.6 34.5 264.0 34.2 265.5 33.9C267.0 33.6 268.5 33.4 270.0 33.1C271.4 32.9 272.9 32.6 274.4 32.4C275.9 32.2 277.4 32.0 278.9 31.8C280.4 31.6 281.9 31.5 283.3 31.2C284.8 31.0 286.3 30.8 287.8 30.4C289.2 30.0 290.6 29.4 292.0 28.9C293.5 28.5 294.9 28.0 296.4 27.9C297.8 27.8 299.4 28.0 300.8 28.2C302.3 28.4 303.8 28.8 305.2 29.1C306.7 29.4 308.2 29.8 309.6 30.1C311.1 30.5 312.6 30.8 314.0 31.1C315.5 31.4 317.0 31.7 318.4 32.2C319.9 32.6 321.3 33.0 322.7 33.6C324.1 34.2 325.4 34.8 326.7 35.5C328.0 36.3 329.3 37.1 330.5 38.0C331.7 38.9 332.8 39.9 333.7 41.1C334.7 42.2 335.6 43.5 336.1 44.9C336.5 46.2 336.7 47.8 336.5 49.2C336.2 50.5 335.3 51.9 334.4 53.0C333.5 54.2 332.3 55.1 331.1 56.1C330.0 57.1 328.7 57.9 327.6 58.9C326.5 59.9 325.4 60.9 324.3 62.0C323.3 63.0 322.3 64.2 321.2 65.3C320.2 66.4 319.2 67.5 318.2 68.6C317.1 69.7 316.1 70.7 315.0 71.8C313.9 72.8 312.7 73.8 311.6 74.8C310.5 75.8 309.3 76.7 308.3 77.8C307.3 78.9 306.3 80.0 305.5 81.3C304.6 82.5 304.1 83.9 303.5 85.3C302.9 86.7 302.4 88.1 301.7 89.4C301.0 90.8 300.2 92.0 299.4 93.3C298.5 94.5 297.6 95.7 296.7 96.9C295.8 98.1 294.9 99.3 293.9 100.5C293.0 101.6 292.0 102.8 291.0 103.9C290.0 105.0 289.0 106.1 288.0 107.3C287.0 108.4 286.0 109.5 285.1 110.7C284.1 111.8 283.2 113.0 282.2 114.2C281.3 115.4 280.3 116.5 279.4 117.7C278.4 118.9 277.5 120.0 276.5 121.2C275.5 122.3 274.5 123.4 273.5 124.5C272.5 125.6 271.5 126.7 270.5 127.9C269.6 129.1 268.7 130.3 267.9 131.6C267.1 132.9 266.4 134.2 265.7 135.5C265.1 136.9 264.4 138.2 263.8 139.6C263.2 141.0 262.6 142.3 262.0 143.7C261.5 145.1 260.9 146.5 260.4 147.9C259.9 149.3 259.3 150.8 258.8 152.2C258.2 153.6 257.8 155.0 257.2 156.4C256.6 157.8 256.0 159.1 255.3 160.5C254.6 161.8 253.8 163.1 253.0 164.3C252.2 165.6 251.3 166.8 250.4 168.0C249.5 169.2 248.5 170.4 247.5 171.5C246.5 172.6 245.4 173.6 244.3 174.7C243.2 175.7 242.1 176.7 241.0 177.7C239.9 178.8 238.8 179.8 237.8 180.9C236.8 182.0 236.0 183.3 235.0 184.4C234.0 185.5 233.0 186.7 231.9 187.7C230.8 188.7 229.6 189.6 228.3 190.4C227.1 191.3 225.9 192.1 224.6 192.9C223.3 193.6 221.9 194.3 220.5 194.9C219.2 195.5 217.7 196.0 216.3 196.5C214.9 196.9 213.4 197.4 212.0 197.7C210.5 198.0 209.0 198.3 207.5 198.4C206.0 198.6 204.5 198.6 203.0 198.6C201.5 198.6 200.0 198.6 198.5 198.4C197.0 198.3 195.5 198.1 194.1 197.8C192.6 197.5 191.1 197.1 189.7 196.7C188.3 196.3 186.9 195.7 185.5 195.2C184.1 194.6 182.7 194.0 181.4 193.3C180.0 192.7 178.7 191.9 177.5 191.1C176.2 190.3 175.0 189.4 173.8 188.4C172.7 187.4 171.7 186.3 170.8 185.2C169.8 184.0 168.9 182.2 168.4 181.4C167.8 180.5 168.1 180.9 167.6 180.1Z" fill="none" stroke="#1fd21f" stroke-width="1.25" stroke-linejoin="round"/>
<path d="M178.8 179.8C178.2 178.7 177.4 177.2 176.7 175.8C176.1 174.5 175.4 173.1 174.9 171.7C174.3 170.4 173.8 168.9 173.3 167.5C172.8 166.1 172.5 164.6 172.1 163.2C171.6 161.8 171.1 160.4 170.5 159.0C169.9 157.6 169.1 156.3 168.4 155.0C167.7 153.7 166.9 152.4 166.2 151.1C165.5 149.7 164.8 148.4 164.2 147.0C163.6 145.7 162.9 144.3 162.5 142.9C162.1 141.5 161.9 140.0 161.9 138.5C162.0 137.0 162.3 135.5 162.8 134.1C163.3 132.7 164.0 131.4 164.9 130.2C165.7 129.0 166.8 127.9 167.9 126.9C169.0 125.8 170.2 124.9 171.3 124.0C172.5 123.0 173.7 122.1 174.8 121.1C176.0 120.2 177.1 119.1 178.2 118.1C179.2 117.1 180.3 116.0 181.4 114.9C182.4 113.9 183.5 112.8 184.6 111.8C185.6 110.7 186.8 109.7 187.9 108.7C189.0 107.7 190.1 106.7 191.3 105.8C192.4 104.8 193.6 103.8 194.8 102.9C195.9 102.0 197.1 101.0 198.3 100.1C199.5 99.2 200.7 98.3 201.9 97.4C203.1 96.5 204.3 95.6 205.5 94.7C206.7 93.8 207.9 93.0 209.1 92.1C210.3 91.2 211.5 90.2 212.7 89.3C213.9 88.4 215.0 87.4 216.2 86.4C217.3 85.5 218.4 84.5 219.6 83.5C220.8 82.6 221.9 81.6 223.1 80.7C224.3 79.8 225.5 78.9 226.7 78.0C227.9 77.1 229.2 76.3 230.4 75.4C231.6 74.5 232.9 73.7 234.1 72.8C235.3 71.9 236.5 71.0 237.6 70.0C238.7 69.1 239.8 68.0 240.9 67.0C242.0 65.9 243.0 64.8 244.1 63.8C245.2 62.8 246.3 61.8 247.5 60.8C248.7 59.9 249.9 59.1 251.2 58.3C252.5 57.5 253.8 56.8 255.1 56.0C256.4 55.3 257.7 54.6 259.0 53.8C260.3 53.1 261.6 52.3 262.9 51.5C264.1 50.7 265.4 49.9 266.6 49.0C267.8 48.1 268.9 47.1 270.1 46.1C271.2 45.1 272.3 44.1 273.4 43.1C274.6 42.2 275.7 41.1 277.0 40.4C278.3 39.7 279.7 39.1 281.1 38.7C282.5 38.3 284.0 38.2 285.5 38.0C287.0 37.8 288.5 37.6 290.0 37.5C291.5 37.4 293.0 37.3 294.5 37.2C296.0 37.1 297.5 37.0 299.0 37.0C300.5 36.9 302.0 36.8 303.5 36.8C305.0 36.7 306.5 36.7 308.0 36.7C309.5 36.7 311.0 36.7 312.5 36.8C314.0 36.9 315.5 37.0 317.0 37.3C318.4 37.6 319.8 38.1 321.2 38.7C322.5 39.3 323.8 40.1 325.1 40.8C326.4 41.6 328.1 42.2 328.8 43.2C329.5 44.2 329.7 45.7 329.3 46.7C328.8 47.8 327.2 48.8 326.0 49.6C324.9 50.5 323.5 51.2 322.1 51.9C320.8 52.6 319.5 53.2 318.1 53.9C316.8 54.6 315.4 55.2 314.1 55.9C312.8 56.6 311.4 57.3 310.2 58.1C308.9 58.9 307.7 59.8 306.6 60.8C305.5 61.8 304.6 63.0 303.8 64.3C302.9 65.5 302.3 66.9 301.5 68.2C300.8 69.5 300.0 70.7 299.2 72.0C298.4 73.3 297.7 74.6 296.9 75.9C296.2 77.2 295.4 78.5 294.7 79.8C294.0 81.1 293.2 82.5 292.5 83.8C291.8 85.1 291.1 86.4 290.4 87.8C289.8 89.1 289.1 90.4 288.4 91.8C287.8 93.1 287.2 94.5 286.5 95.9C285.9 97.2 285.2 98.6 284.5 99.9C283.7 101.2 282.9 102.5 282.1 103.7C281.3 105.0 280.5 106.2 279.6 107.4C278.8 108.7 277.9 109.9 277.0 111.1C276.1 112.3 275.2 113.5 274.3 114.7C273.4 115.9 272.5 117.1 271.5 118.3C270.6 119.5 269.7 120.6 268.7 121.8C267.7 122.9 266.7 124.0 265.8 125.2C264.8 126.3 263.8 127.5 262.9 128.6C261.9 129.8 261.0 131.0 260.1 132.2C259.2 133.4 258.3 134.6 257.4 135.8C256.6 137.1 255.8 138.3 255.2 139.7C254.6 141.1 254.2 142.5 253.9 144.0C253.5 145.4 253.4 146.9 253.0 148.4C252.5 149.8 252.0 151.2 251.3 152.6C250.7 153.9 249.9 155.2 249.2 156.5C248.4 157.8 247.6 159.1 246.8 160.3C246.0 161.6 245.3 162.9 244.4 164.1C243.6 165.4 242.7 166.6 241.8 167.8C240.8 168.9 239.8 170.0 238.7 171.1C237.6 172.1 236.5 173.0 235.3 174.0C234.1 175.0 233.0 175.9 231.8 176.8C230.6 177.7 229.4 178.6 228.2 179.6C227.0 180.5 225.8 181.4 224.6 182.3C223.4 183.2 222.2 184.1 221.0 184.9C219.8 185.8 218.5 186.7 217.3 187.4C216.0 188.2 214.6 188.9 213.2 189.4C211.9 190.0 210.4 190.5 209.0 190.8C207.5 191.2 206.0 191.5 204.5 191.6C203.1 191.8 201.5 191.8 200.0 191.8C198.6 191.7 197.0 191.6 195.6 191.3C194.1 191.0 192.7 190.6 191.3 190.0C189.9 189.5 188.5 188.8 187.2 188.1C185.9 187.4 184.6 186.5 183.5 185.6C182.4 184.6 181.2 183.3 180.4 182.4C179.6 181.4 179.4 180.9 178.8 179.8Z" fill="none" stroke="#2f2ff2" stroke-width="1.25" stroke-linejoin="round"/>
<path d="M177.7 180.4C177.1 179.3 176.4 177.7 175.8 176.4C175.2 175.0 174.6 173.6 174.1 172.2C173.6 170.8 173.1 169.3 172.6 167.9C172.2 166.5 171.9 165.0 171.5 163.6C171.0 162.1 170.5 160.7 169.9 159.3C169.3 158.0 168.4 156.7 167.7 155.4C166.9 154.1 166.1 152.8 165.4 151.5C164.7 150.2 164.0 148.8 163.4 147.5C162.8 146.1 162.1 144.7 161.7 143.3C161.3 141.9 161.1 140.4 161.1 138.9C161.2 137.4 161.5 135.9 162.0 134.5C162.5 133.1 163.2 131.8 164.0 130.5C164.8 129.3 165.9 128.2 166.9 127.1C168.0 126.0 169.2 125.1 170.3 124.2C171.5 123.2 172.7 122.3 173.8 121.3C175.0 120.3 176.1 119.3 177.1 118.3C178.2 117.2 179.2 116.1 180.3 115.0C181.3 113.9 182.3 112.8 183.4 111.7C184.4 110.7 185.5 109.6 186.6 108.6C187.7 107.6 188.8 106.5 189.9 105.5C191.1 104.5 192.2 103.5 193.3 102.6C194.5 101.6 195.6 100.6 196.8 99.7C197.9 98.7 199.1 97.8 200.3 96.8C201.5 95.9 202.7 95.0 203.9 94.1C205.1 93.2 206.3 92.3 207.5 91.4C208.7 90.5 209.9 89.5 211.0 88.6C212.2 87.6 213.3 86.7 214.5 85.7C215.6 84.7 216.8 83.7 217.9 82.8C219.1 81.8 220.2 80.8 221.4 79.9C222.6 79.0 223.8 78.1 225.0 77.2C226.3 76.3 227.5 75.5 228.7 74.6C230.0 73.8 231.2 72.9 232.4 72.1C233.7 71.2 234.9 70.3 236.1 69.4C237.2 68.4 238.3 67.4 239.4 66.4C240.5 65.3 241.5 64.2 242.6 63.2C243.7 62.2 244.8 61.1 246.0 60.2C247.1 59.2 248.4 58.4 249.6 57.5C250.9 56.7 252.2 56.0 253.5 55.2C254.8 54.4 256.1 53.7 257.4 53.0C258.7 52.2 260.0 51.5 261.3 50.7C262.5 49.8 263.8 49.0 265.0 48.1C266.2 47.2 267.4 46.3 268.5 45.3C269.7 44.3 270.7 43.3 271.9 42.3C273.0 41.3 274.1 40.3 275.4 39.5C276.6 38.6 277.9 37.9 279.3 37.4C280.7 36.9 282.3 36.7 283.7 36.5C285.2 36.2 286.7 36.1 288.2 36.0C289.7 35.8 291.2 35.7 292.7 35.7C294.2 35.6 295.7 35.5 297.2 35.5C298.7 35.4 300.2 35.4 301.7 35.4C303.2 35.4 304.7 35.3 306.2 35.4C307.7 35.4 309.2 35.4 310.7 35.6C312.2 35.7 313.8 35.8 315.2 36.0C316.7 36.3 318.2 36.6 319.6 37.1C321.0 37.6 322.2 38.6 323.5 39.3C324.8 40.0 326.3 40.6 327.4 41.5C328.5 42.4 329.9 43.4 330.2 44.6C330.4 45.7 329.7 47.2 328.9 48.3C328.1 49.4 326.6 50.3 325.4 51.1C324.2 52.0 322.8 52.7 321.5 53.4C320.2 54.1 318.8 54.8 317.5 55.5C316.2 56.2 314.9 56.9 313.6 57.7C312.3 58.4 310.9 59.2 309.8 60.1C308.6 61.0 307.4 62.0 306.5 63.1C305.5 64.3 304.8 65.6 304.1 66.9C303.3 68.2 302.7 69.6 302.0 70.9C301.2 72.2 300.4 73.5 299.7 74.8C298.9 76.1 298.1 77.4 297.4 78.7C296.7 80.0 295.9 81.3 295.2 82.6C294.5 83.9 293.7 85.3 293.0 86.6C292.3 87.9 291.6 89.2 290.9 90.6C290.2 91.9 289.6 93.3 288.9 94.6C288.2 95.9 287.6 97.3 286.9 98.6C286.2 100.0 285.4 101.3 284.6 102.5C283.8 103.8 283.0 105.1 282.1 106.3C281.3 107.6 280.4 108.8 279.6 110.0C278.7 111.2 277.8 112.5 276.9 113.7C276.0 114.9 275.1 116.1 274.2 117.2C273.2 118.4 272.3 119.6 271.3 120.8C270.4 121.9 269.4 123.0 268.4 124.2C267.4 125.3 266.4 126.4 265.4 127.6C264.4 128.7 263.5 129.8 262.5 131.0C261.6 132.2 260.6 133.4 259.7 134.6C258.8 135.8 257.9 137.0 257.2 138.3C256.4 139.6 255.8 140.9 255.3 142.3C254.8 143.8 254.7 145.3 254.4 146.7C254.0 148.2 253.7 149.7 253.1 151.1C252.6 152.5 251.9 153.8 251.2 155.1C250.5 156.4 249.7 157.7 248.9 159.0C248.2 160.3 247.4 161.6 246.6 162.9C245.8 164.2 245.0 165.5 244.2 166.7C243.3 167.9 242.4 169.1 241.4 170.2C240.4 171.4 239.3 172.4 238.2 173.4C237.1 174.4 235.9 175.4 234.8 176.3C233.6 177.3 232.4 178.2 231.2 179.1C230.1 180.1 228.9 181.0 227.7 181.9C226.5 182.8 225.3 183.7 224.1 184.6C222.8 185.5 221.6 186.3 220.4 187.2C219.1 188.0 217.8 188.8 216.5 189.5C215.2 190.2 213.8 190.8 212.4 191.3C211.0 191.8 209.5 192.2 208.0 192.5C206.6 192.7 205.1 192.9 203.6 192.9C202.1 192.9 200.6 192.8 199.1 192.6C197.6 192.5 196.1 192.2 194.6 191.8C193.2 191.4 191.8 190.9 190.4 190.4C189.0 189.8 187.6 189.2 186.3 188.5C185.0 187.8 183.6 187.0 182.5 186.1C181.3 185.2 180.1 183.9 179.3 183.0C178.5 182.0 178.3 181.5 177.7 180.4Z" fill="none" stroke="#f57c12" stroke-width="1.25" stroke-linejoin="round"/>
<path d="M176.5 180.3C175.9 179.2 175.1 177.7 174.4 176.3C173.7 175.0 173.1 173.6 172.5 172.2C172.0 170.8 171.5 169.4 171.1 168.0C170.7 166.6 170.4 165.1 170.0 163.6C169.6 162.2 169.2 160.7 168.6 159.4C168.0 158.0 167.3 156.7 166.6 155.3C166.0 154.0 165.2 152.7 164.6 151.3C163.9 150.0 163.2 148.6 162.6 147.3C162.0 145.9 161.3 144.5 160.9 143.1C160.6 141.7 160.3 140.2 160.4 138.7C160.4 137.2 160.8 135.7 161.3 134.3C161.8 132.9 162.5 131.6 163.3 130.4C164.2 129.2 165.3 128.1 166.4 127.1C167.5 126.1 168.7 125.2 169.9 124.2C171.0 123.3 172.2 122.4 173.4 121.5C174.5 120.5 175.7 119.5 176.8 118.5C177.9 117.5 178.9 116.4 180.0 115.3C181.1 114.3 182.1 113.2 183.2 112.2C184.3 111.1 185.4 110.1 186.5 109.1C187.6 108.1 188.7 107.1 189.9 106.1C191.0 105.1 192.1 104.1 193.3 103.2C194.4 102.2 195.6 101.2 196.7 100.3C197.9 99.4 199.1 98.4 200.3 97.5C201.4 96.6 202.6 95.7 203.8 94.8C205.0 93.8 206.2 92.9 207.4 92.0C208.6 91.1 209.8 90.1 210.9 89.2C212.1 88.2 213.2 87.2 214.4 86.3C215.5 85.3 216.6 84.3 217.8 83.3C218.9 82.4 220.1 81.4 221.3 80.5C222.5 79.6 223.7 78.7 224.9 77.9C226.1 77.0 227.4 76.2 228.6 75.3C229.9 74.5 231.1 73.6 232.3 72.8C233.6 71.9 234.8 71.0 235.9 70.1C237.1 69.1 238.2 68.1 239.3 67.1C240.4 66.1 241.5 65.0 242.6 64.0C243.7 63.0 244.8 62.0 246.0 61.1C247.2 60.2 248.4 59.3 249.7 58.5C251.0 57.7 252.3 57.0 253.6 56.2C254.9 55.5 256.2 54.7 257.5 54.0C258.8 53.2 260.1 52.5 261.4 51.7C262.6 50.9 263.8 50.0 265.0 49.1C266.2 48.2 267.3 47.2 268.5 46.2C269.6 45.2 270.7 44.1 271.8 43.1C272.9 42.2 274.0 41.1 275.3 40.3C276.5 39.5 277.8 38.6 279.2 38.2C280.6 37.8 282.1 37.7 283.6 37.7C285.1 37.7 286.6 38.1 288.1 38.3C289.5 38.5 291.0 38.8 292.5 38.9C294.0 39.1 295.5 39.0 297.0 39.0C298.5 39.0 300.0 38.9 301.5 38.9C303.0 39.0 304.5 39.1 305.9 39.4C307.4 39.8 308.8 40.3 310.1 40.9C311.5 41.6 312.8 42.4 313.9 43.3C315.1 44.1 316.7 45.0 317.0 46.1C317.3 47.1 316.7 48.7 315.9 49.7C315.2 50.8 313.7 51.7 312.5 52.6C311.3 53.4 310.0 54.2 308.7 55.0C307.4 55.8 306.1 56.5 304.9 57.4C303.7 58.3 302.5 59.2 301.5 60.3C300.5 61.3 299.6 62.6 298.9 63.9C298.1 65.2 297.6 66.6 297.1 68.0C296.7 69.4 296.4 70.9 296.0 72.4C295.7 73.8 295.5 75.3 295.1 76.8C294.7 78.2 294.3 79.7 293.8 81.1C293.2 82.4 292.4 83.7 291.7 85.0C290.9 86.3 290.1 87.6 289.3 88.9C288.6 90.2 287.9 91.5 287.2 92.8C286.5 94.2 285.9 95.5 285.2 96.9C284.5 98.2 283.7 99.5 283.0 100.8C282.2 102.1 281.4 103.4 280.6 104.6C279.8 105.9 278.9 107.1 278.1 108.4C277.2 109.6 276.4 110.8 275.5 112.0C274.6 113.3 273.7 114.5 272.8 115.7C271.9 116.9 271.0 118.1 270.1 119.2C269.1 120.4 268.2 121.6 267.2 122.7C266.2 123.8 265.2 124.9 264.2 126.1C263.2 127.2 262.2 128.3 261.3 129.5C260.3 130.6 259.4 131.8 258.4 133.0C257.5 134.2 256.5 135.3 255.7 136.6C254.9 137.8 254.0 139.1 253.4 140.4C252.9 141.8 252.6 143.3 252.2 144.7C251.8 146.2 251.6 147.7 251.1 149.1C250.7 150.5 250.0 151.9 249.4 153.2C248.8 154.6 248.0 155.9 247.3 157.2C246.6 158.5 245.8 159.8 245.0 161.1C244.3 162.4 243.5 163.7 242.7 165.0C241.9 166.2 241.1 167.5 240.1 168.7C239.2 169.8 238.1 170.9 237.1 171.9C236.0 173.0 234.8 173.9 233.7 174.9C232.5 175.8 231.3 176.8 230.2 177.7C229.0 178.6 227.8 179.6 226.6 180.5C225.4 181.4 224.2 182.3 223.0 183.2C221.8 184.1 220.6 185.0 219.4 185.9C218.1 186.7 216.9 187.6 215.6 188.3C214.3 189.0 212.9 189.6 211.5 190.1C210.1 190.5 208.6 190.9 207.1 191.2C205.7 191.4 204.2 191.6 202.7 191.7C201.2 191.7 199.7 191.7 198.2 191.7C196.7 191.6 195.2 191.5 193.7 191.2C192.2 190.9 190.8 190.5 189.4 190.0C188.0 189.5 186.6 188.9 185.2 188.3C183.9 187.6 182.6 186.8 181.4 185.9C180.3 185.0 179.0 183.7 178.2 182.8C177.4 181.9 177.1 181.4 176.5 180.3Z" fill="none" stroke="#1fd21f" stroke-width="1.25" stroke-linejoin="round"/>
<path d="M190.1 179.5C189.3 178.6 188.2 177.2 187.3 176.0C186.4 174.8 185.5 173.5 184.8 172.2C184.2 170.9 183.6 169.5 183.3 168.0C183.1 166.6 183.2 165.0 183.2 163.5C183.2 162.0 183.3 160.5 183.3 159.0C183.3 157.5 183.2 156.0 183.1 154.5C183.0 153.0 182.9 151.5 182.7 150.0C182.5 148.5 182.1 147.1 181.8 145.6C181.5 144.1 181.1 142.7 181.1 141.2C181.0 139.7 181.2 138.2 181.5 136.7C181.9 135.3 182.4 133.8 183.1 132.5C183.8 131.3 184.8 130.1 185.9 129.0C186.9 128.0 188.2 127.1 189.4 126.2C190.5 125.2 191.8 124.4 193.0 123.5C194.2 122.6 195.5 121.8 196.6 120.8C197.8 119.8 198.9 118.8 199.9 117.7C201.0 116.7 202.0 115.6 203.1 114.5C204.2 113.5 205.3 112.4 206.4 111.5C207.6 110.6 208.9 109.7 210.1 108.9C211.4 108.1 212.7 107.4 214.1 106.7C215.4 106.0 216.7 105.3 218.1 104.6C219.4 103.9 220.8 103.3 222.1 102.6C223.4 101.9 224.8 101.2 226.1 100.6C227.5 99.9 228.8 99.2 230.2 98.5C231.5 97.9 232.9 97.2 234.2 96.5C235.6 95.9 236.9 95.2 238.3 94.5C239.6 93.9 241.0 93.2 242.4 92.7C243.8 92.1 245.1 91.4 246.6 91.0C248.0 90.6 249.5 90.5 251.0 90.4C252.5 90.3 254.1 90.3 255.5 90.6C256.9 91.0 258.3 91.6 259.2 92.6C260.1 93.6 260.6 95.2 260.9 96.6C261.2 98.0 261.2 99.6 261.0 101.1C260.9 102.5 260.4 104.0 259.9 105.4C259.4 106.8 258.8 108.2 258.0 109.5C257.3 110.8 256.4 112.0 255.5 113.2C254.7 114.4 253.6 115.6 252.7 116.7C251.7 117.9 250.8 119.1 249.8 120.2C248.9 121.4 248.0 122.6 247.0 123.8C246.1 125.0 245.2 126.2 244.3 127.4C243.4 128.6 242.6 129.8 241.7 131.1C240.9 132.3 240.0 133.6 239.2 134.8C238.5 136.1 237.7 137.5 237.2 138.8C236.7 140.2 236.4 141.7 236.3 143.2C236.1 144.7 236.3 146.2 236.1 147.7C236.0 149.2 235.7 150.7 235.4 152.1C235.0 153.6 234.5 155.0 234.0 156.4C233.5 157.9 232.9 159.2 232.3 160.6C231.7 162.0 231.1 163.4 230.4 164.7C229.7 166.0 228.9 167.3 228.0 168.5C227.0 169.7 225.9 170.7 224.8 171.7C223.7 172.7 222.5 173.6 221.3 174.5C220.1 175.4 218.8 176.3 217.6 177.1C216.4 178.0 215.1 178.9 213.8 179.6C212.5 180.3 211.1 180.9 209.7 181.5C208.3 182.0 206.9 182.5 205.4 182.8C204.0 183.2 202.5 183.4 201.0 183.5C199.5 183.5 198.0 183.3 196.6 182.9C195.1 182.6 193.5 181.9 192.4 181.3C191.3 180.7 191.0 180.4 190.1 179.5Z" fill="none" stroke="#2f2ff2" stroke-width="1.25" stroke-linejoin="round"/>
<path d="M189.2 180.3C188.5 179.5 187.2 177.9 186.4 176.7C185.5 175.5 184.6 174.2 184.0 172.9C183.3 171.6 182.7 170.2 182.4 168.7C182.1 167.3 182.2 165.7 182.2 164.2C182.2 162.7 182.3 161.2 182.3 159.7C182.3 158.2 182.2 156.7 182.0 155.2C181.9 153.7 181.8 152.2 181.6 150.7C181.3 149.2 180.9 147.8 180.6 146.3C180.3 144.9 179.8 143.4 179.7 141.9C179.6 140.4 179.6 138.9 179.9 137.4C180.1 136.0 180.6 134.5 181.2 133.2C181.8 131.8 182.7 130.5 183.6 129.4C184.6 128.3 185.8 127.3 186.9 126.4C188.1 125.4 189.4 124.6 190.6 123.7C191.8 122.9 193.1 122.1 194.3 121.2C195.5 120.3 196.7 119.3 197.8 118.3C198.9 117.3 200.0 116.2 201.0 115.1C202.1 114.1 203.1 113.0 204.3 112.0C205.4 111.0 206.6 110.1 207.8 109.2C209.1 108.3 210.4 107.6 211.7 106.8C213.0 106.1 214.3 105.3 215.6 104.6C216.9 103.9 218.3 103.2 219.6 102.6C221.0 101.9 222.3 101.2 223.7 100.5C225.0 99.8 226.4 99.1 227.7 98.5C229.0 97.8 230.4 97.1 231.7 96.4C233.1 95.7 234.4 95.1 235.8 94.4C237.1 93.7 238.5 93.1 239.9 92.4C241.2 91.8 242.6 91.1 244.0 90.6C245.4 90.1 246.8 89.5 248.3 89.3C249.7 89.0 251.3 89.0 252.8 89.0C254.2 89.1 255.9 89.1 257.2 89.6C258.5 90.1 259.8 91.0 260.6 92.1C261.4 93.3 261.8 94.9 262.0 96.3C262.2 97.8 262.2 99.3 262.0 100.8C261.9 102.3 261.4 103.7 260.9 105.1C260.4 106.6 259.7 107.9 259.0 109.2C258.2 110.5 257.4 111.8 256.5 113.0C255.6 114.2 254.6 115.3 253.6 116.5C252.7 117.6 251.7 118.8 250.7 119.9C249.8 121.1 248.8 122.3 247.9 123.5C247.0 124.7 246.0 125.8 245.1 127.0C244.2 128.3 243.4 129.5 242.5 130.7C241.7 132.0 240.8 133.2 240.1 134.6C239.4 135.9 238.6 137.2 238.1 138.6C237.6 140.0 237.3 141.5 237.2 143.0C237.0 144.4 237.3 146.0 237.3 147.5C237.2 149.0 237.0 150.5 236.8 151.9C236.5 153.4 236.0 154.8 235.5 156.3C235.0 157.7 234.5 159.1 233.9 160.5C233.3 161.9 232.7 163.3 232.1 164.6C231.4 166.0 230.7 167.3 229.8 168.5C229.0 169.8 228.0 170.9 226.9 171.9C225.8 173.0 224.6 173.9 223.5 174.9C222.3 175.8 221.0 176.7 219.8 177.5C218.6 178.4 217.3 179.3 216.0 180.0C214.7 180.8 213.4 181.5 212.0 182.0C210.6 182.5 209.1 182.8 207.7 183.1C206.2 183.4 204.7 183.7 203.2 183.8C201.7 183.9 200.2 183.9 198.7 183.8C197.2 183.7 195.7 183.5 194.3 183.1C192.9 182.6 191.1 181.7 190.2 181.2C189.4 180.8 189.8 181.0 189.2 180.3Z" fill="none" stroke="#f57c12" stroke-width="1.25" stroke-linejoin="round"/>
<path d="M190.2 179.4C189.3 178.6 188.2 177.1 187.4 175.9C186.5 174.7 185.6 173.4 185.0 172.1C184.3 170.8 183.8 169.3 183.6 167.9C183.4 166.4 183.6 164.9 183.7 163.4C183.7 161.9 183.9 160.4 183.9 158.9C184.0 157.4 183.9 155.9 183.9 154.4C183.8 152.9 183.7 151.4 183.5 149.9C183.2 148.4 182.8 147.0 182.4 145.5C182.1 144.0 181.6 142.6 181.5 141.1C181.4 139.6 181.5 138.1 181.8 136.6C182.1 135.2 182.6 133.7 183.3 132.4C184.0 131.2 185.0 130.0 186.1 129.0C187.1 127.9 188.4 127.1 189.6 126.2C190.8 125.3 192.1 124.5 193.3 123.6C194.6 122.7 195.8 121.9 197.0 121.0C198.2 120.0 199.3 119.0 200.4 118.0C201.5 117.0 202.5 115.9 203.7 114.9C204.8 113.9 205.9 112.9 207.1 112.0C208.3 111.1 209.6 110.3 210.9 109.6C212.2 108.8 213.6 108.2 214.9 107.5C216.3 106.8 217.6 106.2 219.0 105.5C220.4 104.9 221.7 104.2 223.0 103.5C224.4 102.8 225.7 102.1 227.0 101.3C228.3 100.5 229.5 99.7 230.7 98.8C231.9 97.9 233.1 97.0 234.3 96.1C235.5 95.1 236.7 94.2 237.9 93.3C239.1 92.3 240.2 91.4 241.4 90.5C242.6 89.6 243.8 88.6 245.1 87.8C246.3 87.1 247.7 86.3 249.1 85.9C250.5 85.5 252.0 85.6 253.5 85.5C255.0 85.5 256.6 85.2 258.0 85.6C259.3 86.0 260.7 86.7 261.5 87.7C262.4 88.8 262.7 90.5 263.0 91.9C263.3 93.3 263.4 94.9 263.4 96.4C263.4 97.9 263.2 99.4 262.9 100.8C262.6 102.3 262.2 103.8 261.6 105.1C261.0 106.5 260.3 107.9 259.5 109.1C258.7 110.4 257.6 111.5 256.6 112.6C255.6 113.6 254.4 114.6 253.3 115.7C252.2 116.7 251.1 117.7 250.1 118.8C249.0 119.9 248.1 121.0 247.1 122.2C246.1 123.3 245.2 124.5 244.3 125.7C243.4 126.9 242.6 128.2 241.7 129.4C240.8 130.7 240.0 131.9 239.2 133.2C238.4 134.4 237.5 135.7 236.9 137.1C236.3 138.4 235.8 139.8 235.5 141.3C235.2 142.7 235.3 144.3 235.1 145.8C235.0 147.3 234.9 148.8 234.6 150.2C234.3 151.7 233.8 153.1 233.3 154.5C232.8 156.0 232.2 157.3 231.6 158.7C231.0 160.1 230.4 161.5 229.7 162.8C229.1 164.2 228.4 165.5 227.5 166.8C226.7 168.0 225.7 169.1 224.6 170.2C223.6 171.2 222.4 172.2 221.2 173.1C220.0 174.1 218.8 175.0 217.6 175.9C216.4 176.8 215.2 177.7 213.9 178.5C212.7 179.3 211.4 180.0 210.0 180.6C208.6 181.2 207.2 181.7 205.7 182.0C204.3 182.4 202.8 182.7 201.3 182.7C199.8 182.8 198.3 182.7 196.8 182.4C195.4 182.1 193.7 181.6 192.5 181.1C191.4 180.6 191.0 180.3 190.2 179.4Z" fill="none" stroke="#1fd21f" stroke-width="1.25" stroke-linejoin="round"/>
<path d="M175.50 201.30v-5.60M175.50 10.00v5.60M258.60 201.30v-5.60M258.60 10.00v5.60M341.70 201.30v-5.60M341.70 10.00v5.60" stroke="#3c3c3c" stroke-width="1.00" fill="none"/>
<path d="M117.42 201.30v-3.40M117.42 10.00v3.40M132.05 201.30v-3.40M132.05 10.00v3.40M142.43 201.30v-3.40M142.43 10.00v3.40M150.48 201.30v-3.40M150.48 10.00v3.40M157.06 201.30v-3.40M157.06 10.00v3.40M162.63 201.30v-3.40M162.63 10.00v3.40M167.45 201.30v-3.40M167.45 10.00v3.40M171.70 201.30v-3.40M171.70 10.00v3.40M200.52 201.30v-3.40M200.52 10.00v3.40M215.15 201.30v-3.40M215.15 10.00v3.40M225.53 201.30v-3.40M225.53 10.00v3.40M233.58 201.30v-3.40M233.58 10.00v3.40M240.16 201.30v-3.40M240.16 10.00v3.40M245.73 201.30v-3.40M245.73 10.00v3.40M250.55 201.30v-3.40M250.55 10.00v3.40M254.80 201.30v-3.40M254.80 10.00v3.40M283.62 201.30v-3.40M283.62 10.00v3.40M298.25 201.30v-3.40M298.25 10.00v3.40M308.63 201.30v-3.40M308.63 10.00v3.40M316.68 201.30v-3.40M316.68 10.00v3.40M323.26 201.30v-3.40M323.26 10.00v3.40M328.83 201.30v-3.40M328.83 10.00v3.40M333.65 201.30v-3.40M333.65 10.00v3.40M337.90 201.30v-3.40M337.90 10.00v3.40" stroke="#3c3c3c" stroke-width="1.00" fill="none"/>
<path d="M92.90 180.30h5.60M359.00 180.30h-5.60M92.90 111.65h5.60M359.00 111.65h-5.60M92.90 43.00h5.60M359.00 43.00h-5.60" stroke="#3c3c3c" stroke-width="1.00" fill="none"/>
<path d="M92.90 200.97h3.40M359.00 200.97h-3.40M92.90 195.53h3.40M359.00 195.53h-3.40M92.90 190.93h3.40M359.00 190.93h-3.40M92.90 186.95h3.40M359.00 186.95h-3.40M92.90 183.44h3.40M359.00 183.44h-3.40M92.90 159.63h3.40M359.00 159.63h-3.40M92.90 147.55h3.40M359.00 147.55h-3.40M92.90 138.97h3.40M359.00 138.97h-3.40M92.90 132.32h3.40M359.00 132.32h-3.40M92.90 126.88h3.40M359.00 126.88h-3.40M92.90 122.28h3.40M359.00 122.28h-3.40M92.90 118.30h3.40M359.00 118.30h-3.40M92.90 114.79h3.40M359.00 114.79h-3.40M92.90 90.98h3.40M359.00 90.98h-3.40M92.90 78.90h3.40M359.00 78.90h-3.40M92.90 70.32h3.40M359.00 70.32h-3.40M92.90 63.67h3.40M359.00 63.67h-3.40M92.90 58.23h3.40M359.00 58.23h-3.40M92.90 53.63h3.40M359.00 53.63h-3.40M92.90 49.65h3.40M359.00 49.65h-3.40M92.90 46.14h3.40M359.00 46.14h-3.40M92.90 22.33h3.40M359.00 22.33h-3.40M92.90 10.25h3.40M359.00 10.25h-3.40" stroke="#3c3c3c" stroke-width="1.00" fill="none"/>
<path d="M92.90 10.00H359.00M92.90 201.30H359.00" stroke="#3c3c3c" stroke-width="1.25" fill="none" stroke-linecap="square"/>
<path d="M92.90 10.00V201.30M359.00 10.00V201.30" stroke="#4a4a4a" stroke-width="0.95" fill="none"/>
<text x="76.9" y="231.8" font-size="25">10</text><text x="101.0" y="223.4" font-size="17">1</text>
<text x="160.0" y="231.8" font-size="25">10</text><text x="184.1" y="223.4" font-size="17">2</text>
<text x="243.1" y="231.8" font-size="25">10</text><text x="267.2" y="223.4" font-size="17">3</text>
<text x="326.2" y="231.8" font-size="25">10</text><text x="350.3" y="223.4" font-size="17">4</text>
<text x="50.3" y="192.1" font-size="25">10</text><text x="74.4" y="183.7" font-size="17">1</text>
<text x="50.3" y="122.8" font-size="25">10</text><text x="74.4" y="114.3" font-size="17">2</text>
<text x="50.3" y="53.6" font-size="25">10</text><text x="74.4" y="45.2" font-size="17">3</text>
<text x="2.3" y="24.4" font-size="28">(</text><text x="12.6" y="24.4" font-size="28" class="it">a</text><text x="27.8" y="24.4" font-size="28">)</text>
<text x="4.7" y="117.4" font-size="29" class="it">l</text><text x="15.4" y="120.9" font-size="19" class="it">y</text>
<text x="18.2" y="109.0" font-size="26">+</text>
<text x="212.5" y="272.2" font-size="29" class="it">l</text><text x="220.0" y="276.7" font-size="20" class="it">x</text>
<text x="223.9" y="263.9" font-size="26">+</text>
</g>
<g id="panel-b">
<path d="M506.6 180.0C506.2 178.8 505.7 177.1 505.4 175.6C505.1 174.2 504.9 172.7 504.7 171.2C504.5 169.7 504.5 168.2 504.5 166.7C504.4 165.2 504.5 163.7 504.5 162.2C504.5 160.7 504.4 159.2 504.2 157.7C504.0 156.2 503.7 154.8 503.5 153.3C503.3 151.8 503.1 150.3 502.9 148.8C502.7 147.3 502.5 145.8 502.5 144.3C502.4 142.8 502.5 141.3 502.6 139.9C502.8 138.4 503.2 136.9 503.6 135.5C504.0 134.0 504.5 132.6 505.0 131.2C505.5 129.8 506.0 128.4 506.7 127.0C507.3 125.7 507.8 124.3 508.7 123.0C509.5 121.8 510.5 120.7 511.6 119.7C512.7 118.7 513.9 117.8 515.1 117.0C516.4 116.1 517.7 115.4 519.0 114.6C520.3 113.8 521.6 113.1 522.9 112.4C524.2 111.7 525.6 111.0 526.9 110.3C528.2 109.6 529.6 109.0 530.9 108.3C532.3 107.7 533.7 107.1 535.0 106.5C536.4 105.9 537.8 105.3 539.2 104.7C540.6 104.1 541.9 103.5 543.3 102.9C544.7 102.3 546.0 101.7 547.4 101.0C548.7 100.4 550.1 99.7 551.4 99.0C552.7 98.3 554.0 97.5 555.3 96.8C556.6 96.0 557.9 95.2 559.2 94.4C560.5 93.7 561.8 92.9 563.0 92.1C564.3 91.3 565.6 90.5 566.9 89.8C568.2 89.0 569.5 88.2 570.8 87.5C572.1 86.7 573.3 85.9 574.6 85.2C575.9 84.4 577.2 83.6 578.5 82.9C579.8 82.1 581.1 81.4 582.4 80.6C583.7 79.9 585.0 79.2 586.3 78.4C587.7 77.7 589.0 77.0 590.3 76.3C591.6 75.6 592.9 74.8 594.3 74.1C595.6 73.4 596.9 72.7 598.2 71.9C599.5 71.2 600.8 70.4 602.1 69.6C603.3 68.8 604.6 68.0 605.8 67.1C607.0 66.3 608.3 65.4 609.5 64.5C610.7 63.7 611.9 62.8 613.2 61.9C614.4 61.1 615.6 60.3 616.9 59.5C618.2 58.7 619.5 57.9 620.8 57.2C622.1 56.4 623.4 55.7 624.7 54.9C626.0 54.2 627.3 53.4 628.6 52.6C629.9 51.9 631.1 51.1 632.3 50.2C633.6 49.3 634.7 48.4 635.9 47.4C637.0 46.4 638.1 45.4 639.2 44.4C640.3 43.3 641.3 42.3 642.4 41.2C643.5 40.1 644.5 39.1 645.6 38.0C646.6 36.9 647.7 35.8 648.7 34.8C649.8 33.8 651.0 32.8 652.1 31.8C653.3 30.9 654.5 30.0 655.8 29.3C657.1 28.5 658.4 27.8 659.8 27.2C661.1 26.6 662.6 26.1 664.0 25.6C665.4 25.2 666.9 24.9 668.4 24.6C669.8 24.3 671.3 24.1 672.8 24.0C674.3 23.8 675.8 23.7 677.3 23.7C678.8 23.6 680.3 23.5 681.8 23.6C683.3 23.6 684.8 23.6 686.3 23.8C687.8 24.1 689.2 24.4 690.7 24.8C692.1 25.3 693.5 25.9 694.8 26.5C696.2 27.1 697.5 27.8 698.8 28.6C700.1 29.4 701.3 30.2 702.5 31.2C703.7 32.1 704.9 33.0 705.9 34.1C707.0 35.1 708.1 36.2 709.0 37.4C709.8 38.5 710.7 39.9 711.1 41.2C711.4 42.6 711.4 44.1 711.1 45.5C710.8 46.9 710.0 48.3 709.2 49.5C708.4 50.7 707.3 51.8 706.3 52.9C705.2 53.9 704.1 54.9 702.9 55.9C701.8 56.9 700.7 57.9 699.5 58.8C698.3 59.7 697.1 60.6 695.9 61.5C694.7 62.5 693.5 63.3 692.3 64.2C691.1 65.1 689.9 66.0 688.7 67.0C687.6 67.9 686.4 68.8 685.3 69.8C684.2 70.8 683.1 71.9 682.0 73.0C681.0 74.1 680.0 75.2 679.1 76.3C678.1 77.5 677.1 78.6 676.2 79.8C675.3 81.0 674.4 82.2 673.5 83.4C672.6 84.6 671.7 85.8 670.8 87.0C669.9 88.2 669.0 89.4 668.0 90.5C667.0 91.7 666.0 92.7 664.9 93.8C663.9 94.9 662.8 96.0 661.8 97.1C660.8 98.2 659.7 99.2 658.7 100.4C657.7 101.5 656.8 102.6 655.8 103.8C654.8 104.9 653.9 106.1 652.9 107.2C651.9 108.4 650.9 109.5 649.9 110.6C648.9 111.7 647.9 112.8 646.8 113.9C645.8 115.0 644.8 116.0 643.7 117.1C642.7 118.2 641.7 119.3 640.6 120.4C639.6 121.5 638.6 122.6 637.6 123.7C636.5 124.8 635.5 125.9 634.5 127.0C633.6 128.2 632.6 129.3 631.7 130.5C630.7 131.7 629.8 132.9 628.9 134.1C628.1 135.3 627.2 136.5 626.4 137.8C625.5 139.0 624.6 140.2 623.8 141.5C622.9 142.7 622.0 143.9 621.2 145.1C620.3 146.4 619.4 147.6 618.6 148.8C617.8 150.1 616.9 151.3 616.1 152.6C615.3 153.9 614.5 155.1 613.7 156.4C612.9 157.7 612.1 158.9 611.3 160.2C610.4 161.4 609.6 162.7 608.7 163.9C607.8 165.1 606.9 166.3 606.0 167.5C605.1 168.7 604.1 169.8 603.1 170.9C602.1 172.0 601.0 173.1 600.0 174.1C598.9 175.2 597.8 176.2 596.7 177.3C595.7 178.4 594.6 179.4 593.6 180.5C592.6 181.7 591.8 182.9 590.8 184.0C589.8 185.1 588.7 186.2 587.6 187.2C586.4 188.1 585.2 188.9 583.9 189.6C582.5 190.3 581.1 190.9 579.7 191.4C578.3 191.9 576.9 192.4 575.4 192.8C574.0 193.2 572.5 193.5 571.1 193.8C569.6 194.1 568.1 194.4 566.6 194.6C565.2 194.9 563.7 195.1 562.2 195.3C560.7 195.5 559.2 195.6 557.7 195.8C556.2 195.9 554.7 196.0 553.2 196.0C551.7 195.9 550.2 195.8 548.7 195.7C547.2 195.6 545.7 195.4 544.3 195.2C542.8 195.1 541.3 194.9 539.8 194.8C538.3 194.6 536.8 194.5 535.3 194.4C533.8 194.3 532.3 194.1 530.8 194.0C529.3 193.8 527.8 193.6 526.4 193.3C524.9 193.0 523.4 192.7 522.0 192.3C520.5 191.9 519.1 191.5 517.7 191.0C516.3 190.5 514.8 190.0 513.6 189.2C512.3 188.5 511.1 187.5 510.1 186.5C509.1 185.4 508.2 183.8 507.7 182.8C507.1 181.7 506.9 181.2 506.6 180.0Z" fill="#cbeac8" stroke="#cbeac8" stroke-width="0.4"/>
<path d="M511.8 180.0C511.5 179.1 510.8 177.2 510.3 175.7C509.9 174.3 509.4 172.9 509.2 171.4C509.0 169.9 509.1 168.4 509.1 166.9C509.2 165.4 509.6 164.0 509.7 162.5C509.7 161.0 509.7 159.5 509.6 158.0C509.4 156.5 509.0 155.1 508.7 153.6C508.4 152.1 508.1 150.6 508.0 149.1C507.8 147.7 507.8 146.2 507.8 144.7C507.8 143.2 507.9 141.7 508.0 140.2C508.1 138.7 508.3 137.1 508.6 135.7C508.9 134.2 509.3 132.8 509.9 131.4C510.5 130.1 511.4 128.9 512.3 127.7C513.3 126.5 514.3 125.5 515.4 124.4C516.5 123.4 517.7 122.5 518.9 121.5C520.0 120.6 521.3 119.7 522.5 118.8C523.7 118.0 525.0 117.2 526.3 116.4C527.5 115.6 528.8 114.8 530.1 114.1C531.4 113.3 532.8 112.6 534.1 111.9C535.4 111.2 536.7 110.5 538.1 109.8C539.4 109.1 540.7 108.4 542.1 107.8C543.4 107.1 544.8 106.5 546.2 105.8C547.5 105.2 548.9 104.6 550.2 103.9C551.6 103.3 553.0 102.7 554.3 102.0C555.7 101.3 557.0 100.7 558.4 100.0C559.7 99.3 561.0 98.6 562.3 97.9C563.7 97.2 565.0 96.4 566.3 95.7C567.6 95.0 568.9 94.2 570.2 93.5C571.5 92.7 572.8 92.0 574.1 91.2C575.4 90.5 576.7 89.7 578.0 88.9C579.3 88.2 580.6 87.4 581.9 86.7C583.2 85.9 584.5 85.1 585.8 84.3C587.0 83.6 588.3 82.8 589.6 82.0C590.9 81.3 592.2 80.5 593.5 79.7C594.8 79.0 596.1 78.2 597.4 77.4C598.7 76.7 600.0 75.9 601.3 75.2C602.6 74.4 603.9 73.7 605.2 72.9C606.5 72.1 607.7 71.4 609.0 70.5C610.3 69.7 611.5 68.9 612.8 68.0C614.0 67.2 615.2 66.3 616.4 65.4C617.6 64.5 618.8 63.6 620.0 62.7C621.3 61.8 622.5 61.0 623.7 60.1C624.9 59.2 626.2 58.4 627.4 57.5C628.7 56.7 629.9 55.9 631.2 55.1C632.4 54.2 633.7 53.4 634.9 52.5C636.2 51.7 637.4 50.8 638.6 50.0C639.8 49.1 641.1 48.2 642.3 47.3C643.5 46.4 644.7 45.5 645.8 44.6C647.0 43.6 648.2 42.7 649.4 41.8C650.5 40.8 651.6 39.8 652.7 38.7C653.7 37.7 654.6 36.4 655.7 35.4C656.8 34.4 658.0 33.5 659.2 32.7C660.5 31.9 661.9 31.4 663.3 30.8C664.7 30.3 666.2 29.8 667.6 29.5C669.1 29.1 670.5 28.9 672.0 28.6C673.5 28.4 675.0 28.3 676.5 28.2C678.0 28.2 679.5 28.2 681.0 28.3C682.5 28.4 684.0 28.6 685.5 28.9C686.9 29.2 688.4 29.5 689.8 30.0C691.2 30.5 692.6 31.2 693.9 31.9C695.1 32.7 696.4 33.6 697.5 34.6C698.6 35.6 699.7 36.7 700.5 37.9C701.3 39.1 702.1 40.4 702.4 41.8C702.8 43.2 703.0 44.8 702.8 46.2C702.6 47.6 702.1 49.1 701.3 50.3C700.6 51.6 699.5 52.7 698.4 53.7C697.3 54.7 696.1 55.6 694.9 56.5C693.7 57.4 692.5 58.3 691.3 59.2C690.1 60.1 688.9 61.0 687.7 61.9C686.5 62.9 685.4 63.8 684.2 64.8C683.0 65.7 681.9 66.7 680.8 67.7C679.6 68.7 678.5 69.7 677.5 70.8C676.4 71.8 675.4 72.9 674.4 74.0C673.3 75.1 672.4 76.3 671.4 77.4C670.5 78.6 669.5 79.8 668.6 81.0C667.7 82.2 666.9 83.4 666.1 84.7C665.2 85.9 664.4 87.2 663.5 88.4C662.6 89.6 661.7 90.8 660.8 91.9C659.8 93.1 658.8 94.2 657.8 95.3C656.8 96.4 655.7 97.5 654.7 98.7C653.7 99.8 652.7 100.9 651.7 102.0C650.7 103.1 649.7 104.3 648.7 105.4C647.7 106.5 646.7 107.6 645.7 108.7C644.7 109.9 643.7 111.0 642.7 112.1C641.7 113.2 640.7 114.4 639.7 115.5C638.7 116.6 637.7 117.7 636.7 118.8C635.7 119.9 634.6 121.0 633.6 122.0C632.5 123.1 631.4 124.1 630.3 125.2C629.3 126.3 628.2 127.3 627.2 128.4C626.2 129.5 625.2 130.7 624.3 131.9C623.4 133.1 622.6 134.3 621.7 135.6C620.9 136.8 620.1 138.1 619.2 139.3C618.4 140.6 617.5 141.8 616.7 143.0C615.8 144.3 614.9 145.5 614.1 146.7C613.3 148.0 612.4 149.2 611.6 150.5C610.9 151.8 610.1 153.1 609.4 154.4C608.6 155.7 607.9 157.0 607.1 158.3C606.3 159.5 605.4 160.7 604.4 161.9C603.5 163.1 602.5 164.2 601.5 165.3C600.5 166.4 599.4 167.5 598.4 168.6C597.3 169.7 596.3 170.7 595.2 171.7C594.1 172.8 592.9 173.8 591.8 174.8C590.7 175.8 589.6 176.8 588.5 177.8C587.4 178.8 586.3 179.9 585.3 181.0C584.3 182.1 583.4 183.3 582.4 184.4C581.3 185.4 580.2 186.5 579.0 187.3C577.8 188.2 576.4 188.8 575.1 189.5C573.7 190.1 572.3 190.6 570.9 191.1C569.5 191.6 568.0 192.0 566.6 192.4C565.1 192.7 563.6 193.0 562.2 193.3C560.7 193.6 559.2 193.8 557.7 193.9C556.2 194.0 554.7 194.1 553.2 194.1C551.7 194.2 550.2 194.1 548.7 194.0C547.2 193.9 545.7 193.7 544.2 193.6C542.7 193.4 541.2 193.2 539.7 193.1C538.2 192.9 536.7 192.7 535.3 192.5C533.8 192.3 532.3 192.1 530.8 191.9C529.3 191.6 527.8 191.3 526.4 191.0C524.9 190.6 523.5 190.2 522.1 189.7C520.7 189.2 519.2 188.7 517.9 188.0C516.7 187.3 515.4 186.4 514.5 185.3C513.6 184.2 512.8 182.3 512.3 181.4C511.9 180.5 512.1 180.9 511.8 180.0Z" fill="#9dd9bb" stroke="#9dd9bb" stroke-width="0.4"/>
<path d="M514.9 180.0C514.2 178.9 513.4 177.3 512.9 175.9C512.3 174.6 511.7 173.1 511.3 171.7C511.0 170.3 510.8 168.8 510.9 167.3C510.9 165.8 511.2 164.3 511.4 162.8C511.5 161.3 511.8 159.8 512.0 158.4C512.1 156.9 512.3 155.4 512.4 153.9C512.6 152.4 512.7 150.9 512.8 149.4C512.9 147.9 513.0 146.4 513.0 144.9C513.1 143.4 513.2 141.9 513.2 140.4C513.3 138.9 513.1 137.3 513.2 135.9C513.4 134.4 513.5 132.9 514.1 131.6C514.7 130.4 515.8 129.3 516.9 128.3C518.0 127.3 519.4 126.6 520.7 125.8C521.9 125.0 523.3 124.3 524.6 123.6C525.9 122.9 527.2 122.2 528.5 121.4C529.8 120.7 531.1 119.9 532.4 119.1C533.7 118.3 535.0 117.5 536.2 116.7C537.5 115.9 538.8 115.1 540.0 114.3C541.3 113.5 542.6 112.7 543.9 111.9C545.2 111.1 546.4 110.3 547.7 109.6C549.1 108.8 550.4 108.1 551.7 107.4C553.0 106.7 554.3 105.9 555.6 105.2C557.0 104.5 558.3 103.8 559.6 103.1C560.9 102.4 562.3 101.7 563.6 100.9C564.9 100.2 566.2 99.5 567.5 98.7C568.8 98.0 570.1 97.2 571.4 96.5C572.7 95.7 574.0 95.0 575.3 94.2C576.6 93.5 577.9 92.7 579.2 91.9C580.5 91.2 581.8 90.4 583.1 89.7C584.4 89.0 585.8 88.2 587.1 87.5C588.4 86.7 589.7 86.0 591.0 85.3C592.3 84.5 593.6 83.8 594.9 83.1C596.2 82.3 597.6 81.6 598.9 80.9C600.2 80.2 601.5 79.5 602.9 78.7C604.2 78.0 605.5 77.4 606.9 76.7C608.2 76.0 609.5 75.3 610.9 74.6C612.2 73.9 613.5 73.2 614.8 72.5C616.2 71.8 617.5 71.0 618.8 70.3C620.1 69.5 621.4 68.7 622.7 68.0C623.9 67.2 625.2 66.4 626.5 65.5C627.7 64.7 629.0 63.9 630.2 63.0C631.5 62.2 632.7 61.3 633.9 60.5C635.1 59.6 636.4 58.7 637.6 57.8C638.8 56.9 639.9 55.9 641.1 55.0C642.3 54.1 643.5 53.1 644.6 52.2C645.8 51.3 647.0 50.4 648.2 49.5C649.4 48.6 650.6 47.7 651.9 46.8C653.1 45.9 654.3 45.0 655.5 44.2C656.7 43.3 658.0 42.4 659.2 41.6C660.4 40.7 661.6 39.8 662.9 38.9C664.1 38.1 665.3 37.2 666.6 36.4C667.9 35.6 669.2 34.9 670.5 34.2C671.9 33.6 673.3 33.0 674.7 32.5C676.1 32.0 677.6 31.6 679.0 31.3C680.5 31.0 682.0 30.8 683.5 30.7C685.0 30.7 686.5 30.7 687.9 31.0C689.4 31.4 690.8 32.0 692.0 32.8C693.2 33.6 694.3 34.7 695.3 35.8C696.3 36.9 697.2 38.1 698.0 39.4C698.7 40.7 699.4 42.0 699.6 43.4C699.8 44.8 699.6 46.4 699.1 47.7C698.6 49.0 697.5 50.1 696.5 51.2C695.4 52.2 694.1 53.0 692.9 53.8C691.6 54.6 690.3 55.4 689.0 56.1C687.7 56.9 686.4 57.6 685.1 58.4C683.9 59.2 682.7 60.1 681.5 61.1C680.3 62.0 679.3 63.1 678.2 64.1C677.1 65.1 676.0 66.2 675.0 67.3C673.9 68.4 672.9 69.4 671.8 70.5C670.8 71.6 669.8 72.7 668.7 73.8C667.7 74.9 666.7 76.1 665.8 77.2C664.8 78.4 663.8 79.5 662.9 80.7C662.0 81.9 661.1 83.1 660.2 84.3C659.3 85.5 658.5 86.8 657.6 88.0C656.6 89.1 655.7 90.3 654.7 91.4C653.7 92.6 652.6 93.6 651.6 94.7C650.5 95.8 649.5 96.9 648.4 97.9C647.4 99.0 646.4 100.1 645.4 101.3C644.4 102.4 643.4 103.6 642.5 104.7C641.5 105.9 640.6 107.0 639.6 108.2C638.6 109.3 637.7 110.5 636.7 111.7C635.8 112.8 634.9 114.0 633.9 115.2C632.9 116.3 632.0 117.5 631.0 118.6C629.9 119.7 628.9 120.8 627.8 121.8C626.7 122.8 625.5 123.8 624.4 124.8C623.3 125.8 622.1 126.7 621.1 127.8C620.0 128.8 618.9 129.9 618.0 131.1C617.0 132.2 616.1 133.5 615.3 134.7C614.4 135.9 613.7 137.2 612.9 138.5C612.1 139.8 611.3 141.0 610.5 142.3C609.7 143.6 609.0 144.9 608.2 146.2C607.4 147.5 606.7 148.8 605.9 150.1C605.2 151.4 604.4 152.7 603.7 154.0C602.9 155.3 602.2 156.6 601.4 157.9C600.5 159.2 599.7 160.4 598.8 161.6C598.0 162.9 597.1 164.1 596.2 165.2C595.2 166.4 594.2 167.6 593.2 168.7C592.2 169.8 591.1 170.8 590.0 171.8C588.9 172.8 587.7 173.7 586.5 174.7C585.3 175.6 584.1 176.5 582.9 177.4C581.8 178.4 580.6 179.3 579.4 180.3C578.3 181.3 577.2 182.3 576.1 183.3C574.9 184.2 573.7 185.1 572.4 185.9C571.2 186.7 569.8 187.4 568.4 188.0C567.1 188.6 565.6 189.1 564.2 189.5C562.8 189.9 561.3 190.2 559.8 190.5C558.3 190.7 556.8 190.9 555.3 191.0C553.8 191.1 552.3 191.1 550.8 191.1C549.3 191.1 547.8 191.0 546.3 190.9C544.8 190.8 543.3 190.6 541.8 190.5C540.3 190.3 538.8 190.1 537.4 189.9C535.9 189.7 534.4 189.4 532.9 189.2C531.4 188.9 530.0 188.5 528.5 188.1C527.1 187.8 525.6 187.4 524.2 186.9C522.8 186.3 521.4 185.8 520.1 185.1C518.8 184.3 517.5 183.2 516.6 182.4C515.7 181.5 515.5 181.0 514.9 180.0Z" fill="#68bfcc" stroke="#68bfcc" stroke-width="0.4"/>
<path d="M520.0 179.8C518.9 178.8 518.1 177.5 517.4 176.2C516.6 174.9 516.0 173.5 515.6 172.1C515.1 170.7 514.9 169.2 514.8 167.7C514.8 166.3 515.1 164.8 515.3 163.3C515.4 161.8 515.7 160.3 515.9 158.8C516.1 157.3 516.2 155.8 516.4 154.3C516.5 152.8 516.7 151.3 516.8 149.8C516.9 148.3 516.9 146.8 517.1 145.3C517.3 143.9 517.4 142.4 517.8 140.9C518.2 139.5 518.8 138.1 519.5 136.8C520.2 135.5 521.0 134.2 522.0 133.0C522.9 131.9 524.0 130.8 525.1 129.8C526.2 128.8 527.5 128.0 528.7 127.1C529.9 126.3 531.2 125.5 532.5 124.8C533.8 124.0 535.1 123.2 536.4 122.5C537.7 121.7 539.0 121.0 540.3 120.2C541.6 119.4 542.8 118.6 544.1 117.8C545.4 116.9 546.6 116.1 547.9 115.3C549.2 114.5 550.4 113.7 551.7 112.9C553.0 112.1 554.3 111.3 555.6 110.5C556.8 109.7 558.1 109.0 559.4 108.2C560.7 107.5 562.1 106.7 563.4 106.0C564.7 105.3 566.0 104.5 567.3 103.8C568.6 103.1 569.9 102.4 571.3 101.6C572.6 100.9 573.9 100.2 575.2 99.4C576.5 98.7 577.8 98.0 579.1 97.2C580.4 96.5 581.8 95.8 583.1 95.0C584.4 94.3 585.7 93.6 587.0 92.8C588.3 92.1 589.6 91.4 590.9 90.6C592.3 89.9 593.6 89.2 594.9 88.4C596.2 87.7 597.5 87.0 598.8 86.2C600.1 85.5 601.5 84.8 602.8 84.0C604.1 83.3 605.4 82.6 606.7 81.8C608.0 81.1 609.3 80.3 610.6 79.6C611.9 78.8 613.2 78.1 614.5 77.3C615.8 76.6 617.1 75.8 618.4 75.0C619.7 74.2 621.0 73.5 622.3 72.7C623.5 71.9 624.8 71.1 626.1 70.4C627.4 69.6 628.7 68.8 630.0 68.0C631.2 67.2 632.5 66.5 633.8 65.7C635.1 64.9 636.4 64.1 637.6 63.3C638.9 62.5 640.2 61.6 641.4 60.8C642.6 59.9 643.9 59.1 645.1 58.2C646.3 57.3 647.5 56.4 648.7 55.4C649.8 54.5 651.0 53.5 652.2 52.6C653.4 51.7 654.5 50.8 655.7 49.8C656.9 48.9 658.1 48.0 659.3 47.1C660.5 46.2 661.8 45.4 663.1 44.6C664.4 43.9 665.7 43.2 667.1 42.6C668.5 42.0 669.9 41.5 671.3 41.0C672.7 40.5 674.2 40.0 675.6 39.6C677.1 39.3 678.5 38.9 680.0 38.8C681.5 38.7 683.1 38.7 684.5 39.0C685.9 39.3 687.4 39.8 688.4 40.7C689.4 41.6 690.2 43.1 690.6 44.4C690.9 45.7 690.8 47.3 690.4 48.6C690.0 50.0 689.0 51.2 688.0 52.3C687.0 53.4 685.8 54.3 684.6 55.2C683.4 56.1 682.1 56.8 680.8 57.7C679.6 58.5 678.3 59.3 677.1 60.2C675.9 61.1 674.7 62.0 673.5 63.0C672.4 63.9 671.2 64.9 670.1 65.8C668.9 66.8 667.8 67.8 666.7 68.8C665.6 69.9 664.5 70.9 663.5 72.0C662.4 73.1 661.4 74.2 660.5 75.3C659.5 76.5 658.5 77.6 657.5 78.8C656.6 79.9 655.6 81.1 654.7 82.3C653.7 83.4 652.8 84.6 651.9 85.8C650.9 87.0 650.0 88.2 649.0 89.3C648.1 90.5 647.1 91.6 646.1 92.7C645.1 93.8 644.1 94.9 643.1 96.1C642.1 97.2 641.1 98.3 640.1 99.5C639.1 100.6 638.2 101.8 637.2 102.9C636.3 104.1 635.4 105.3 634.5 106.5C633.5 107.7 632.6 108.9 631.7 110.0C630.7 111.2 629.7 112.3 628.7 113.5C627.8 114.6 626.8 115.7 625.8 116.8C624.7 118.0 623.7 119.1 622.6 120.1C621.6 121.2 620.4 122.2 619.3 123.2C618.2 124.2 617.0 125.1 615.9 126.1C614.8 127.2 613.7 128.2 612.7 129.3C611.7 130.4 610.7 131.5 609.8 132.7C608.9 133.9 608.1 135.2 607.3 136.4C606.4 137.7 605.6 139.0 604.8 140.2C604.1 141.5 603.3 142.8 602.5 144.1C601.7 145.4 601.0 146.7 600.2 148.0C599.4 149.3 598.7 150.6 597.9 151.9C597.1 153.2 596.4 154.5 595.6 155.7C594.8 157.0 594.0 158.3 593.3 159.6C592.5 160.9 591.7 162.2 590.9 163.4C590.1 164.7 589.3 166.0 588.4 167.2C587.5 168.4 586.5 169.5 585.5 170.6C584.4 171.7 583.3 172.7 582.2 173.7C581.1 174.8 580.0 175.8 578.8 176.7C577.6 177.6 576.4 178.7 575.1 179.2C573.8 179.8 572.4 179.8 571.0 180.0C569.6 180.2 568.2 179.9 566.8 180.3C565.5 180.7 564.2 181.7 562.9 182.3C561.6 183.0 560.3 183.8 558.9 184.4C557.5 185.0 556.1 185.4 554.6 185.8C553.2 186.2 551.7 186.4 550.2 186.6C548.7 186.7 547.2 186.7 545.7 186.7C544.2 186.6 542.7 186.5 541.2 186.3C539.7 186.1 538.2 185.9 536.7 185.6C535.3 185.3 533.8 185.0 532.3 184.6C530.9 184.3 529.4 183.8 528.0 183.4C526.6 182.9 525.1 182.6 523.7 182.0C522.4 181.4 521.1 180.8 520.0 179.8Z" fill="#3193c4" stroke="#3193c4" stroke-width="0.4"/>
<path d="M569.8 110.0C570.9 109.4 572.4 108.6 573.8 107.9C575.1 107.2 576.4 106.5 577.8 105.8C579.1 105.1 580.4 104.4 581.8 103.8C583.1 103.1 584.5 102.4 585.8 101.8C587.2 101.1 588.5 100.5 589.9 99.9C591.3 99.2 592.6 98.6 594.0 98.0C595.4 97.4 596.7 96.8 598.1 96.2C599.5 95.6 600.9 95.0 602.2 94.4C603.6 93.8 605.0 93.2 606.4 92.5C607.7 91.9 609.1 91.3 610.5 90.7C611.8 90.1 613.2 89.4 614.5 88.7C615.8 88.0 617.1 87.2 618.4 86.5C619.8 85.8 621.1 85.0 622.4 84.3C623.7 83.7 625.1 82.9 626.5 82.5C627.9 82.0 629.5 81.5 630.7 81.7C631.8 82.0 632.8 83.0 633.2 84.1C633.5 85.2 633.1 87.0 632.8 88.4C632.4 89.7 631.6 91.1 630.9 92.4C630.2 93.8 629.5 95.1 628.7 96.4C628.0 97.7 627.3 99.0 626.5 100.3C625.8 101.6 625.1 102.9 624.4 104.2C623.6 105.5 622.9 106.9 622.0 108.1C621.2 109.3 620.3 110.6 619.4 111.7C618.5 112.9 617.5 114.0 616.5 115.2C615.5 116.3 614.4 117.4 613.4 118.4C612.3 119.5 611.3 120.6 610.2 121.6C609.1 122.6 607.9 123.6 606.8 124.6C605.7 125.6 604.5 126.5 603.4 127.6C602.4 128.6 601.3 129.7 600.4 130.9C599.4 132.0 598.6 133.3 597.7 134.5C596.9 135.8 596.2 137.1 595.4 138.4C594.7 139.7 594.0 141.0 593.3 142.3C592.6 143.7 592.0 145.0 591.3 146.4C590.7 147.7 590.0 149.1 589.4 150.4C588.7 151.8 588.1 153.2 587.4 154.5C586.8 155.8 586.1 157.2 585.4 158.5C584.7 159.8 583.9 161.1 583.2 162.4C582.4 163.7 581.7 165.0 580.8 166.3C580.0 167.5 579.1 168.8 578.2 169.9C577.2 171.0 576.1 172.0 574.9 173.0C573.8 173.9 572.5 174.8 571.3 175.6C570.0 176.5 568.8 177.3 567.5 178.0C566.2 178.8 564.8 179.5 563.5 180.1C562.1 180.7 560.7 181.2 559.3 181.7C557.9 182.1 556.4 182.6 554.9 182.8C553.5 183.0 552.0 183.1 550.5 182.9C549.1 182.7 547.7 182.1 546.2 181.7C544.8 181.4 543.3 181.0 541.9 180.9C540.4 180.8 538.9 181.2 537.4 181.2C536.0 181.2 534.4 181.2 533.1 180.7C531.8 180.2 530.6 179.3 529.6 178.2C528.6 177.2 527.8 175.8 527.2 174.5C526.6 173.1 526.1 171.7 526.0 170.2C525.8 168.8 526.1 167.3 526.2 165.8C526.4 164.3 526.8 162.9 527.0 161.4C527.1 159.9 527.2 158.4 527.3 156.9C527.4 155.4 527.4 153.9 527.4 152.4C527.5 150.9 527.6 149.4 527.7 147.9C527.8 146.4 528.0 144.9 528.2 143.4C528.4 141.9 528.6 140.4 528.9 139.0C529.3 137.5 529.5 135.9 530.1 134.7C530.7 133.4 531.5 132.1 532.6 131.3C533.7 130.6 535.3 130.5 536.7 130.1C538.1 129.7 539.6 129.4 541.0 128.9C542.4 128.3 543.7 127.6 545.0 126.9C546.3 126.1 547.4 125.1 548.6 124.2C549.8 123.3 551.0 122.3 552.2 121.4C553.3 120.5 554.6 119.6 555.8 118.8C557.1 117.9 558.3 117.1 559.6 116.3C560.8 115.5 562.1 114.6 563.4 113.9C564.6 113.1 566.1 112.2 567.2 111.5C568.3 110.9 568.7 110.6 569.8 110.0Z" fill="#08589e" stroke="#08589e" stroke-width="0.4"/>
<path d="M507.1 179.8C506.8 178.9 506.2 176.9 505.9 175.5C505.6 174.0 505.3 172.5 505.1 171.0C504.9 169.5 504.9 168.0 504.8 166.5C504.8 165.0 504.9 163.5 504.7 162.0C504.6 160.6 504.2 159.1 503.7 157.7C503.3 156.3 502.5 154.9 502.0 153.5C501.4 152.1 500.9 150.7 500.6 149.3C500.2 147.8 500.0 146.3 499.9 144.8C499.8 143.3 499.8 141.8 500.0 140.3C500.1 138.8 500.4 137.4 500.8 135.9C501.1 134.5 501.7 133.0 502.2 131.7C502.8 130.3 503.5 128.9 504.3 127.7C505.1 126.4 505.9 125.1 506.8 123.9C507.7 122.7 508.7 121.6 509.8 120.6C510.9 119.6 512.1 118.7 513.4 117.8C514.6 116.9 515.9 116.1 517.1 115.4C518.4 114.6 519.7 113.8 521.0 113.1C522.4 112.4 523.7 111.6 525.0 110.9C526.3 110.2 527.7 109.5 529.0 108.9C530.4 108.2 531.7 107.6 533.1 107.0C534.5 106.3 535.9 105.7 537.2 105.1C538.6 104.5 540.0 103.9 541.4 103.3C542.7 102.7 544.1 102.1 545.5 101.4C546.8 100.8 548.2 100.1 549.5 99.4C550.8 98.7 552.1 98.0 553.5 97.3C554.8 96.5 556.0 95.7 557.3 94.9C558.6 94.1 559.9 93.3 561.1 92.5C562.4 91.7 563.7 90.9 565.0 90.2C566.3 89.4 567.6 88.6 568.8 87.8C570.1 87.0 571.4 86.3 572.7 85.5C574.0 84.7 575.3 83.9 576.6 83.2C577.9 82.4 579.2 81.6 580.5 80.9C581.8 80.1 583.1 79.4 584.4 78.6C585.7 77.9 587.0 77.2 588.3 76.4C589.6 75.7 590.9 75.0 592.3 74.3C593.6 73.6 594.9 72.8 596.2 72.1C597.5 71.4 598.8 70.6 600.1 69.8C601.4 69.1 602.7 68.3 603.9 67.4C605.2 66.6 606.4 65.7 607.7 64.9C608.9 64.0 610.1 63.1 611.4 62.3C612.6 61.5 613.9 60.6 615.1 59.8C616.4 59.0 617.7 58.3 619.0 57.6C620.3 56.8 621.7 56.1 623.0 55.4C624.3 54.7 625.7 54.0 627.0 53.3C628.3 52.5 629.6 51.8 630.9 51.0C632.1 50.2 633.4 49.4 634.6 48.5C635.8 47.6 636.9 46.6 638.1 45.6C639.2 44.6 640.3 43.6 641.4 42.6C642.5 41.5 643.6 40.5 644.7 39.5C645.7 38.4 646.8 37.3 647.8 36.2C648.9 35.2 649.9 34.1 651.0 33.1C652.1 32.1 653.3 31.1 654.5 30.2C655.7 29.3 657.0 28.5 658.3 27.8C659.6 27.1 661.0 26.5 662.4 26.0C663.8 25.5 665.3 25.1 666.8 24.7C668.2 24.4 669.7 24.2 671.2 24.0C672.7 23.8 674.2 23.7 675.7 23.6C677.2 23.5 678.7 23.5 680.2 23.5C681.7 23.5 683.2 23.6 684.7 23.7C686.2 23.8 687.7 24.0 689.2 24.3C690.6 24.6 692.1 25.0 693.5 25.4C695.0 25.9 696.4 26.4 697.8 27.0C699.1 27.6 700.5 28.2 701.8 28.9C703.1 29.7 704.4 30.4 705.7 31.2C707.0 32.0 708.2 32.9 709.4 33.8C710.5 34.8 711.7 35.8 712.7 36.9C713.6 38.0 714.6 39.3 715.0 40.6C715.5 42.0 715.5 43.6 715.3 45.0C715.0 46.3 714.2 47.7 713.4 49.0C712.6 50.2 711.5 51.3 710.4 52.3C709.3 53.3 708.1 54.2 706.9 55.1C705.7 56.0 704.5 56.9 703.2 57.8C702.0 58.6 700.7 59.4 699.5 60.3C698.2 61.1 696.9 61.9 695.7 62.7C694.4 63.5 693.1 64.3 691.9 65.1C690.6 65.9 689.3 66.7 688.1 67.6C686.9 68.5 685.7 69.4 684.6 70.4C683.4 71.4 682.4 72.5 681.4 73.6C680.4 74.7 679.4 75.9 678.5 77.1C677.6 78.2 676.7 79.4 675.8 80.6C674.9 81.9 674.0 83.1 673.2 84.3C672.3 85.6 671.6 86.9 670.7 88.1C669.8 89.3 668.9 90.5 667.9 91.6C667.0 92.8 665.9 93.9 664.9 95.0C663.9 96.1 662.8 97.2 661.8 98.3C660.8 99.4 659.8 100.5 658.8 101.6C657.8 102.7 656.8 103.9 655.8 105.0C654.8 106.1 653.8 107.3 652.8 108.4C651.8 109.5 650.7 110.6 649.7 111.6C648.6 112.7 647.5 113.7 646.4 114.8C645.3 115.8 644.2 116.8 643.2 117.9C642.1 118.9 641.0 120.0 640.0 121.1C638.9 122.1 637.9 123.2 636.8 124.3C635.8 125.4 634.8 126.5 633.8 127.7C632.8 128.8 631.9 130.0 631.0 131.2C630.1 132.4 629.2 133.6 628.4 134.9C627.5 136.1 626.7 137.4 625.9 138.6C625.1 139.9 624.2 141.1 623.3 142.3C622.5 143.6 621.6 144.8 620.8 146.0C619.9 147.3 619.1 148.5 618.2 149.8C617.4 151.0 616.6 152.3 615.8 153.6C615.0 154.8 614.2 156.1 613.4 157.4C612.6 158.7 611.8 159.9 611.0 161.2C610.2 162.5 609.3 163.7 608.5 165.0C607.6 166.2 606.8 167.4 605.9 168.6C604.9 169.8 604.0 170.9 602.9 172.1C601.9 173.2 600.8 174.2 599.8 175.3C598.7 176.3 597.6 177.3 596.5 178.4C595.4 179.4 594.4 180.5 593.4 181.6C592.3 182.7 591.4 183.9 590.3 184.9C589.2 185.9 588.1 186.9 586.8 187.8C585.6 188.6 584.3 189.3 582.9 190.0C581.6 190.6 580.1 191.1 578.7 191.6C577.3 192.2 575.9 192.6 574.4 193.0C573.0 193.4 571.5 193.8 570.0 194.1C568.6 194.4 567.1 194.7 565.6 194.9C564.1 195.2 562.6 195.4 561.2 195.6C559.7 195.8 558.2 196.0 556.7 196.1C555.2 196.2 553.7 196.3 552.2 196.3C550.7 196.2 549.2 196.1 547.7 195.9C546.2 195.8 544.7 195.6 543.2 195.4C541.7 195.2 540.2 195.1 538.7 195.0C537.2 194.8 535.7 194.7 534.2 194.6C532.7 194.4 531.2 194.2 529.7 194.0C528.3 193.8 526.8 193.5 525.3 193.2C523.8 192.9 522.4 192.5 521.0 192.0C519.5 191.6 518.1 191.1 516.7 190.5C515.3 189.9 513.9 189.3 512.8 188.4C511.6 187.5 510.5 186.4 509.7 185.2C508.8 184.0 508.0 182.1 507.6 181.2C507.1 180.3 507.3 180.8 507.1 179.8Z" fill="none" stroke="#2f2ff2" stroke-width="1.25" stroke-linejoin="round"/>
<path d="M507.1 179.8C506.6 178.4 506.4 176.9 506.1 175.4C505.9 174.0 505.7 172.5 505.5 171.0C505.4 169.5 505.4 168.0 505.4 166.5C505.4 165.0 505.6 163.5 505.5 162.0C505.5 160.5 505.4 159.0 505.2 157.5C504.9 156.0 504.6 154.6 504.3 153.1C504.0 151.6 503.7 150.1 503.5 148.6C503.3 147.2 503.0 145.7 502.9 144.2C502.8 142.7 502.7 141.2 502.8 139.7C503.0 138.2 503.3 136.7 503.6 135.3C504.0 133.8 504.5 132.4 505.0 131.0C505.6 129.6 506.1 128.2 506.7 126.8C507.3 125.5 507.9 124.1 508.8 122.9C509.6 121.7 510.7 120.6 511.8 119.6C513.0 118.6 514.2 117.8 515.5 117.0C516.8 116.2 518.1 115.5 519.4 114.8C520.7 114.1 522.1 113.4 523.4 112.7C524.8 112.1 526.1 111.4 527.5 110.7C528.8 110.1 530.2 109.5 531.5 108.8C532.9 108.2 534.3 107.7 535.7 107.1C537.1 106.5 538.5 105.9 539.8 105.3C541.2 104.8 542.6 104.2 544.0 103.6C545.4 103.0 546.8 102.4 548.1 101.8C549.5 101.1 550.8 100.5 552.1 99.8C553.5 99.1 554.8 98.3 556.1 97.6C557.4 96.8 558.7 96.1 560.0 95.3C561.2 94.5 562.5 93.7 563.8 92.9C565.1 92.2 566.4 91.4 567.7 90.6C569.0 89.9 570.2 89.1 571.5 88.3C572.8 87.6 574.1 86.8 575.4 86.0C576.7 85.2 578.0 84.5 579.3 83.7C580.6 82.9 581.9 82.2 583.2 81.4C584.5 80.7 585.8 79.9 587.1 79.2C588.4 78.5 589.7 77.8 591.0 77.0C592.3 76.3 593.7 75.6 595.0 74.9C596.3 74.2 597.6 73.4 598.9 72.7C600.2 71.9 601.5 71.2 602.8 70.4C604.0 69.6 605.3 68.7 606.5 67.9C607.8 67.0 609.0 66.1 610.2 65.3C611.4 64.4 612.7 63.5 613.9 62.7C615.1 61.9 616.4 61.0 617.7 60.2C618.9 59.4 620.2 58.7 621.5 57.9C622.8 57.1 624.1 56.4 625.4 55.6C626.7 54.9 628.0 54.1 629.3 53.3C630.5 52.5 631.8 51.7 633.0 50.8C634.2 49.9 635.4 49.0 636.5 48.0C637.6 47.0 638.7 45.9 639.7 44.8C640.8 43.8 641.8 42.7 642.8 41.6C643.9 40.5 644.9 39.4 646.0 38.3C647.0 37.3 648.0 36.1 649.1 35.1C650.2 34.1 651.3 33.1 652.5 32.2C653.7 31.2 654.9 30.3 656.2 29.6C657.4 28.8 658.8 28.0 660.1 27.4C661.5 26.8 662.9 26.3 664.3 25.9C665.8 25.5 667.3 25.1 668.7 24.9C670.2 24.6 671.7 24.5 673.2 24.3C674.7 24.2 676.2 24.1 677.7 24.1C679.2 24.0 680.7 24.0 682.2 24.0C683.7 24.0 685.2 24.0 686.7 24.2C688.2 24.3 689.7 24.5 691.1 24.8C692.6 25.1 694.1 25.5 695.5 25.9C696.9 26.3 698.4 26.8 699.8 27.4C701.1 28.0 702.5 28.7 703.8 29.4C705.1 30.1 706.4 30.8 707.7 31.5C709.0 32.3 710.3 33.0 711.6 33.9C712.8 34.7 714.1 35.6 715.2 36.5C716.4 37.5 717.7 38.5 718.4 39.6C719.1 40.8 719.6 42.4 719.5 43.7C719.3 45.0 718.4 46.4 717.6 47.6C716.7 48.7 715.5 49.7 714.3 50.7C713.2 51.6 711.9 52.5 710.7 53.4C709.5 54.3 708.3 55.1 707.0 56.0C705.8 56.8 704.6 57.7 703.3 58.5C702.1 59.3 700.8 60.2 699.5 60.9C698.3 61.7 697.0 62.5 695.7 63.3C694.4 64.0 693.1 64.8 691.8 65.6C690.5 66.3 689.2 67.1 688.0 68.0C686.8 68.8 685.5 69.7 684.4 70.7C683.3 71.7 682.2 72.7 681.2 73.8C680.2 74.9 679.3 76.1 678.3 77.3C677.4 78.5 676.5 79.7 675.5 80.8C674.6 82.0 673.8 83.3 672.9 84.5C672.0 85.7 671.1 86.9 670.2 88.1C669.2 89.3 668.3 90.4 667.3 91.5C666.3 92.6 665.2 93.7 664.2 94.8C663.1 95.9 662.1 96.9 661.0 98.0C660.0 99.1 659.0 100.2 658.0 101.3C657.0 102.4 656.0 103.6 655.1 104.8C654.1 105.9 653.1 107.1 652.1 108.2C651.2 109.3 650.1 110.4 649.1 111.5C648.1 112.6 647.0 113.7 646.0 114.7C644.9 115.8 643.9 116.9 642.8 117.9C641.8 119.0 640.7 120.1 639.7 121.2C638.7 122.3 637.6 123.4 636.6 124.5C635.6 125.6 634.6 126.7 633.6 127.9C632.7 129.0 631.7 130.2 630.8 131.4C629.9 132.6 629.1 133.8 628.2 135.0C627.4 136.3 626.5 137.5 625.7 138.8C624.8 140.0 624.0 141.3 623.1 142.5C622.3 143.7 621.4 145.0 620.6 146.2C619.7 147.4 618.9 148.7 618.1 149.9C617.2 151.2 616.4 152.5 615.6 153.7C614.8 155.0 614.0 156.3 613.2 157.5C612.4 158.8 611.6 160.0 610.7 161.3C609.8 162.5 609.0 163.7 608.1 164.9C607.2 166.1 606.3 167.3 605.3 168.5C604.3 169.6 603.3 170.7 602.2 171.8C601.2 172.8 600.1 173.8 599.0 174.9C597.9 175.9 596.7 176.9 595.6 177.9C594.5 178.9 593.5 180.0 592.4 181.1C591.4 182.2 590.5 183.4 589.4 184.4C588.3 185.4 587.2 186.4 585.9 187.2C584.7 188.0 583.3 188.7 582.0 189.3C580.6 189.9 579.2 190.4 577.8 190.9C576.3 191.4 574.9 191.8 573.4 192.1C572.0 192.5 570.5 192.8 569.0 193.1C567.5 193.3 566.1 193.6 564.6 193.8C563.1 194.0 561.6 194.2 560.1 194.3C558.6 194.5 557.1 194.6 555.6 194.7C554.1 194.8 552.6 194.8 551.1 194.7C549.6 194.6 548.1 194.4 546.6 194.3C545.2 194.1 543.7 193.9 542.2 193.7C540.7 193.6 539.2 193.5 537.7 193.4C536.2 193.3 534.7 193.2 533.2 193.0C531.7 192.9 530.2 192.7 528.7 192.5C527.2 192.3 525.7 192.1 524.3 191.8C522.8 191.5 521.3 191.2 519.9 190.8C518.4 190.4 517.0 190.0 515.6 189.4C514.2 188.8 512.8 188.2 511.7 187.3C510.5 186.4 509.5 185.2 508.8 184.0C508.0 182.7 507.5 181.2 507.1 179.8Z" fill="none" stroke="#f57c12" stroke-width="1.25" stroke-linejoin="round"/>
<path d="M505.3 179.4C505.0 178.2 504.5 176.5 504.2 175.0C503.9 173.6 503.6 172.1 503.4 170.6C503.2 169.1 503.2 167.6 503.1 166.1C503.1 164.6 503.2 163.1 503.2 161.6C503.1 160.1 503.0 158.6 502.8 157.1C502.6 155.7 502.2 154.2 502.0 152.7C501.7 151.2 501.5 149.8 501.2 148.3C501.0 146.8 500.8 145.3 500.6 143.8C500.5 142.3 500.5 140.8 500.6 139.3C500.7 137.8 501.0 136.4 501.4 134.9C501.7 133.5 502.3 132.0 502.8 130.6C503.3 129.2 503.9 127.8 504.5 126.5C505.1 125.1 505.6 123.7 506.4 122.4C507.2 121.2 508.2 120.0 509.3 119.0C510.3 117.9 511.6 117.1 512.8 116.2C514.0 115.4 515.4 114.6 516.7 113.9C518.0 113.2 519.3 112.5 520.6 111.8C522.0 111.1 523.3 110.4 524.7 109.8C526.0 109.1 527.4 108.4 528.7 107.8C530.1 107.2 531.5 106.6 532.8 106.0C534.2 105.4 535.6 104.8 537.0 104.2C538.4 103.6 539.8 103.1 541.1 102.5C542.5 101.9 543.9 101.3 545.3 100.7C546.6 100.0 548.0 99.4 549.3 98.7C550.6 98.0 552.0 97.3 553.3 96.5C554.6 95.8 555.8 95.0 557.1 94.2C558.4 93.4 559.7 92.6 560.9 91.8C562.2 91.0 563.5 90.2 564.7 89.4C566.0 88.6 567.3 87.8 568.6 87.0C569.9 86.3 571.1 85.5 572.4 84.7C573.7 83.9 574.9 83.1 576.2 82.3C577.5 81.5 578.8 80.7 580.1 79.9C581.3 79.1 582.6 78.4 583.9 77.6C585.2 76.9 586.5 76.1 587.8 75.4C589.1 74.6 590.5 73.9 591.8 73.2C593.1 72.4 594.4 71.7 595.7 70.9C597.0 70.2 598.3 69.4 599.5 68.6C600.8 67.8 602.0 67.0 603.3 66.1C604.5 65.3 605.7 64.4 606.9 63.5C608.2 62.6 609.4 61.7 610.6 60.8C611.8 60.0 613.0 59.1 614.3 58.2C615.5 57.4 616.7 56.5 618.0 55.7C619.2 54.8 620.5 54.0 621.7 53.2C622.9 52.3 624.2 51.5 625.4 50.6C626.7 49.8 627.9 48.9 629.1 48.0C630.3 47.2 631.6 46.3 632.8 45.4C634.0 44.6 635.2 43.7 636.5 42.8C637.7 42.0 638.9 41.1 640.2 40.3C641.5 39.5 642.7 38.7 644.0 37.9C645.3 37.2 646.6 36.4 647.9 35.7C649.3 35.0 650.6 34.4 652.0 33.7C653.3 33.1 654.7 32.4 656.1 31.8C657.4 31.2 658.8 30.6 660.2 30.0C661.6 29.5 663.0 29.0 664.5 28.6C665.9 28.3 667.4 28.0 668.9 27.8C670.4 27.6 671.9 27.5 673.4 27.5C674.9 27.4 676.4 27.5 677.9 27.6C679.4 27.7 680.9 27.9 682.3 28.1C683.8 28.4 685.3 28.7 686.8 29.0C688.2 29.3 689.7 29.7 691.1 30.2C692.5 30.6 694.0 31.1 695.3 31.8C696.6 32.5 697.9 33.3 699.0 34.3C700.1 35.2 701.1 36.4 701.9 37.7C702.6 38.9 703.1 40.4 703.5 41.8C703.9 43.2 704.3 44.8 704.2 46.2C704.2 47.7 703.8 49.2 703.3 50.5C702.7 51.9 701.8 53.1 701.0 54.4C700.1 55.6 699.1 56.7 698.1 57.8C697.1 58.9 696.1 60.1 695.1 61.1C694.0 62.2 693.0 63.3 691.9 64.4C690.9 65.4 689.8 66.5 688.7 67.6C687.7 68.6 686.6 69.7 685.6 70.8C684.5 71.9 683.5 72.9 682.5 74.0C681.4 75.1 680.4 76.2 679.4 77.3C678.4 78.4 677.4 79.5 676.4 80.7C675.4 81.8 674.5 83.0 673.6 84.2C672.6 85.4 671.8 86.6 670.8 87.7C669.8 88.9 668.9 90.0 667.8 91.1C666.8 92.2 665.7 93.3 664.7 94.3C663.6 95.4 662.5 96.4 661.4 97.5C660.4 98.5 659.4 99.6 658.4 100.8C657.4 101.9 656.4 103.1 655.5 104.2C654.6 105.4 653.7 106.6 652.7 107.8C651.8 109.0 650.8 110.1 649.9 111.3C648.9 112.4 648.0 113.6 647.0 114.7C646.0 115.9 645.0 117.0 644.0 118.1C643.1 119.3 642.1 120.4 641.1 121.5C640.1 122.7 639.1 123.8 638.1 124.9C637.1 126.0 636.1 127.2 635.2 128.3C634.2 129.5 633.2 130.6 632.3 131.8C631.4 133.0 630.5 134.2 629.6 135.4C628.7 136.6 627.8 137.8 627.0 139.0C626.1 140.3 625.2 141.5 624.3 142.7C623.4 143.9 622.6 145.1 621.7 146.4C620.8 147.6 619.9 148.8 619.1 150.0C618.2 151.3 617.4 152.5 616.6 153.8C615.7 155.0 614.9 156.3 614.1 157.5C613.3 158.8 612.4 160.0 611.5 161.2C610.7 162.5 609.8 163.7 608.9 164.9C608.0 166.1 607.1 167.3 606.2 168.5C605.2 169.6 604.3 170.8 603.2 171.9C602.2 173.0 601.2 174.0 600.1 175.1C599.1 176.2 598.0 177.2 597.0 178.3C595.9 179.4 594.9 180.6 594.1 181.8C593.2 183.0 592.7 184.4 591.8 185.6C590.9 186.8 590.0 188.0 588.9 189.0C587.8 190.0 586.5 190.8 585.2 191.6C583.9 192.3 582.5 192.9 581.1 193.4C579.7 193.9 578.3 194.3 576.8 194.7C575.4 195.1 573.9 195.4 572.4 195.7C570.9 196.0 569.5 196.2 568.0 196.5C566.5 196.7 565.0 196.9 563.5 197.1C562.0 197.2 560.5 197.4 559.0 197.5C557.5 197.6 556.0 197.7 554.5 197.8C553.0 197.8 551.5 197.8 550.0 197.7C548.5 197.6 547.0 197.5 545.5 197.3C544.1 197.2 542.6 197.1 541.1 197.0C539.6 196.9 538.1 196.8 536.6 196.7C535.1 196.6 533.6 196.6 532.1 196.4C530.6 196.3 529.1 196.2 527.6 195.9C526.1 195.7 524.6 195.4 523.2 195.1C521.7 194.8 520.3 194.4 518.8 193.9C517.4 193.4 516.0 193.0 514.7 192.3C513.3 191.6 512.0 190.8 511.0 189.8C509.9 188.8 509.0 187.5 508.2 186.3C507.4 185.0 506.8 183.4 506.3 182.2C505.8 181.1 505.7 180.6 505.3 179.4Z" fill="none" stroke="#1fd21f" stroke-width="1.25" stroke-linejoin="round"/>
<path d="M515.9 179.4C515.4 178.6 514.4 176.8 513.8 175.5C513.2 174.1 512.6 172.7 512.2 171.3C511.8 169.9 511.7 168.3 511.7 166.9C511.7 165.4 512.0 163.9 512.2 162.4C512.4 160.9 512.6 159.4 512.7 157.9C512.9 156.4 513.0 154.9 513.1 153.4C513.2 152.0 513.3 150.5 513.4 149.0C513.5 147.5 513.5 146.0 513.6 144.5C513.6 143.0 513.7 141.5 513.7 140.0C513.7 138.5 513.4 136.9 513.6 135.5C513.7 134.0 513.9 132.5 514.5 131.3C515.2 130.0 516.4 129.0 517.6 128.1C518.7 127.1 520.0 126.4 521.3 125.6C522.6 124.8 523.9 124.1 525.2 123.4C526.5 122.6 527.8 121.9 529.1 121.2C530.4 120.4 531.7 119.6 533.0 118.8C534.2 118.0 535.5 117.2 536.7 116.3C538.0 115.5 539.3 114.7 540.5 113.9C541.8 113.1 543.1 112.3 544.3 111.5C545.6 110.7 546.9 110.0 548.2 109.2C549.5 108.5 550.8 107.7 552.1 107.0C553.4 106.3 554.8 105.6 556.1 104.8C557.4 104.1 558.7 103.4 560.0 102.7C561.3 102.0 562.7 101.3 564.0 100.5C565.3 99.8 566.6 99.1 567.9 98.3C569.2 97.6 570.5 96.8 571.8 96.1C573.1 95.3 574.4 94.6 575.7 93.8C577.0 93.1 578.3 92.3 579.6 91.6C580.9 90.8 582.2 90.1 583.5 89.4C584.8 88.6 586.1 87.9 587.4 87.2C588.8 86.4 590.1 85.7 591.4 85.0C592.7 84.3 594.0 83.6 595.3 82.9C596.7 82.2 598.0 81.4 599.3 80.7C600.6 80.0 602.0 79.3 603.3 78.6C604.6 78.0 606.0 77.3 607.3 76.6C608.6 75.9 610.0 75.2 611.3 74.6C612.6 73.9 614.0 73.2 615.3 72.5C616.6 71.8 617.9 71.0 619.2 70.3C620.5 69.6 621.8 68.8 623.1 68.0C624.4 67.2 625.7 66.4 626.9 65.6C628.2 64.8 629.4 64.0 630.7 63.1C631.9 62.3 633.1 61.4 634.4 60.5C635.6 59.7 636.8 58.8 638.0 57.9C639.2 56.9 640.3 56.0 641.5 55.1C642.7 54.1 643.8 53.2 645.0 52.2C646.2 51.3 647.4 50.4 648.6 49.5C649.8 48.6 651.0 47.7 652.2 46.8C653.4 45.9 654.6 45.0 655.8 44.1C657.0 43.2 658.2 42.4 659.4 41.5C660.6 40.6 661.8 39.7 663.1 38.8C664.3 37.9 665.4 37.0 666.7 36.2C668.0 35.4 669.3 34.6 670.6 34.0C672.0 33.3 673.3 32.7 674.8 32.2C676.2 31.8 677.6 31.4 679.1 31.2C680.6 30.9 682.1 30.8 683.6 30.8C685.1 30.9 686.6 31.0 688.0 31.5C689.4 31.9 690.7 32.7 691.8 33.6C693.0 34.5 694.0 35.7 694.9 36.9C695.9 38.0 696.9 39.2 697.6 40.5C698.3 41.8 699.0 43.2 699.1 44.6C699.2 45.9 698.8 47.5 698.1 48.7C697.5 49.9 696.1 50.9 695.0 51.8C693.8 52.7 692.5 53.4 691.2 54.2C689.9 55.0 688.6 55.7 687.3 56.4C686.0 57.2 684.7 57.9 683.4 58.8C682.2 59.6 681.1 60.6 680.0 61.6C678.9 62.6 677.8 63.7 676.8 64.8C675.7 65.8 674.7 66.9 673.7 68.0C672.6 69.1 671.6 70.2 670.6 71.4C669.6 72.5 668.7 73.6 667.7 74.8C666.7 75.9 665.8 77.1 664.9 78.3C664.0 79.5 663.0 80.6 662.2 81.9C661.3 83.1 660.5 84.3 659.6 85.6C658.7 86.8 657.9 88.0 657.0 89.2C656.0 90.4 655.0 91.5 654.0 92.6C652.9 93.7 651.8 94.7 650.8 95.7C649.7 96.8 648.6 97.8 647.6 98.9C646.5 99.9 645.5 101.0 644.5 102.2C643.5 103.3 642.5 104.4 641.5 105.5C640.5 106.6 639.5 107.8 638.5 108.9C637.6 110.1 636.6 111.2 635.6 112.4C634.7 113.5 633.8 114.7 632.8 115.9C631.8 117.0 630.9 118.1 629.8 119.2C628.8 120.3 627.7 121.4 626.6 122.4C625.5 123.4 624.4 124.4 623.3 125.4C622.2 126.4 621.0 127.4 620.0 128.5C619.0 129.6 618.0 130.7 617.1 131.9C616.2 133.1 615.4 134.3 614.5 135.6C613.7 136.8 612.9 138.1 612.2 139.4C611.4 140.7 610.6 142.0 609.9 143.3C609.1 144.6 608.4 145.9 607.7 147.2C606.9 148.5 606.2 149.8 605.5 151.1C604.8 152.5 604.1 153.8 603.3 155.1C602.6 156.4 601.9 157.7 601.1 159.0C600.3 160.3 599.5 161.5 598.6 162.7C597.7 164.0 596.9 165.2 595.9 166.4C595.0 167.5 594.0 168.7 593.0 169.8C592.0 170.8 590.8 171.9 589.7 172.8C588.6 173.8 587.4 174.7 586.2 175.7C585.0 176.6 583.8 177.5 582.7 178.4C581.5 179.3 580.3 180.3 579.2 181.2C578.0 182.2 576.9 183.3 575.7 184.2C574.6 185.1 573.3 185.9 572.0 186.6C570.7 187.3 569.3 187.9 567.9 188.5C566.5 189.0 565.0 189.4 563.6 189.7C562.1 190.0 560.6 190.3 559.1 190.4C557.7 190.6 556.2 190.7 554.7 190.8C553.2 190.8 551.7 190.8 550.2 190.7C548.7 190.7 547.2 190.6 545.7 190.5C544.2 190.3 542.7 190.2 541.2 190.1C539.7 189.9 538.2 189.7 536.7 189.5C535.2 189.3 533.8 189.0 532.3 188.7C530.8 188.4 529.4 188.0 528.0 187.6C526.5 187.1 525.1 186.7 523.7 186.0C522.4 185.4 521.0 184.7 519.8 183.8C518.7 183.0 517.3 181.4 516.7 180.7C516.0 180.0 516.4 180.3 515.9 179.4Z" fill="none" stroke="#2f2ff2" stroke-width="1.25" stroke-linejoin="round"/>
<path d="M514.4 180.2C513.6 179.0 513.0 177.5 512.4 176.2C511.8 174.8 511.3 173.4 510.9 171.9C510.6 170.5 510.5 169.0 510.5 167.5C510.5 166.0 510.8 164.5 511.0 163.0C511.2 161.5 511.4 160.0 511.5 158.5C511.7 157.1 511.8 155.6 511.9 154.1C512.0 152.6 512.1 151.1 512.1 149.6C512.2 148.1 512.2 146.6 512.3 145.1C512.3 143.6 512.4 142.1 512.4 140.6C512.5 139.1 512.3 137.5 512.4 136.1C512.6 134.6 512.6 133.0 513.1 131.7C513.7 130.4 514.7 129.2 515.8 128.2C516.8 127.2 518.2 126.5 519.5 125.7C520.7 124.9 522.1 124.2 523.4 123.5C524.7 122.8 526.1 122.1 527.4 121.4C528.7 120.6 530.0 119.9 531.3 119.1C532.6 118.3 533.8 117.5 535.1 116.7C536.4 115.9 537.6 115.1 538.9 114.3C540.2 113.5 541.4 112.7 542.7 111.9C544.0 111.1 545.3 110.4 546.6 109.6C547.9 108.8 549.2 108.1 550.5 107.4C551.8 106.7 553.1 105.9 554.5 105.2C555.8 104.5 557.1 103.8 558.4 103.1C559.8 102.4 561.1 101.7 562.4 101.0C563.7 100.2 565.0 99.5 566.4 98.8C567.7 98.1 569.0 97.3 570.3 96.6C571.6 95.9 572.9 95.1 574.2 94.4C575.5 93.7 576.8 92.9 578.1 92.2C579.5 91.5 580.8 90.7 582.1 90.0C583.4 89.3 584.7 88.6 586.0 87.8C587.4 87.1 588.7 86.4 590.0 85.7C591.3 85.0 592.7 84.3 594.0 83.6C595.3 82.9 596.6 82.2 598.0 81.5C599.3 80.8 600.6 80.1 601.9 79.4C603.3 78.7 604.6 78.0 605.9 77.3C607.3 76.6 608.6 75.9 609.9 75.2C611.3 74.5 612.6 73.8 613.9 73.1C615.2 72.4 616.6 71.7 617.9 70.9C619.2 70.2 620.5 69.4 621.8 68.6C623.0 67.8 624.3 67.0 625.6 66.2C626.8 65.4 628.1 64.6 629.3 63.7C630.6 62.9 631.8 62.0 633.0 61.2C634.3 60.3 635.5 59.5 636.7 58.6C637.9 57.7 639.1 56.8 640.3 55.9C641.5 55.0 642.7 54.0 643.9 53.1C645.1 52.2 646.3 51.3 647.5 50.4C648.7 49.5 649.9 48.7 651.1 47.8C652.4 46.9 653.6 46.1 654.8 45.2C656.1 44.3 657.3 43.5 658.5 42.6C659.8 41.8 661.0 40.9 662.3 40.1C663.5 39.3 664.7 38.4 666.0 37.6C667.3 36.8 668.6 36.1 669.9 35.4C671.3 34.7 672.6 34.1 674.0 33.6C675.4 33.1 676.9 32.6 678.3 32.3C679.8 31.9 681.3 31.6 682.8 31.5C684.3 31.4 685.8 31.2 687.3 31.5C688.7 31.7 690.2 32.1 691.4 32.8C692.7 33.5 693.8 34.6 694.9 35.7C695.9 36.7 696.9 37.9 697.8 39.1C698.6 40.3 699.5 41.6 699.9 43.0C700.2 44.4 700.3 46.0 699.9 47.4C699.5 48.7 698.7 50.0 697.7 51.1C696.8 52.2 695.5 53.1 694.3 54.0C693.1 54.9 691.8 55.7 690.5 56.5C689.3 57.3 687.9 58.0 686.7 58.9C685.4 59.7 684.2 60.6 683.1 61.5C681.9 62.5 680.8 63.5 679.7 64.5C678.6 65.6 677.6 66.6 676.5 67.7C675.5 68.8 674.4 69.8 673.4 70.9C672.3 72.0 671.3 73.1 670.3 74.2C669.2 75.3 668.2 76.4 667.2 77.5C666.2 78.6 665.2 79.8 664.3 80.9C663.3 82.1 662.4 83.3 661.5 84.5C660.6 85.7 659.7 86.9 658.8 88.1C657.9 89.2 656.9 90.4 655.9 91.5C654.9 92.6 653.8 93.7 652.8 94.8C651.8 95.9 650.7 96.9 649.6 98.0C648.6 99.1 647.6 100.2 646.6 101.3C645.6 102.4 644.6 103.6 643.6 104.7C642.7 105.9 641.7 107.0 640.7 108.2C639.8 109.3 638.8 110.4 637.8 111.6C636.8 112.7 635.9 113.9 634.9 115.0C633.9 116.1 632.9 117.3 631.8 118.3C630.8 119.4 629.7 120.5 628.6 121.5C627.5 122.5 626.3 123.4 625.2 124.4C624.0 125.4 622.8 126.3 621.7 127.3C620.6 128.3 619.5 129.3 618.5 130.4C617.5 131.6 616.6 132.8 615.8 134.0C614.9 135.2 614.1 136.5 613.3 137.8C612.5 139.0 611.7 140.3 611.0 141.6C610.2 142.9 609.4 144.2 608.6 145.5C607.9 146.8 607.1 148.1 606.4 149.4C605.6 150.6 604.8 151.9 604.0 153.2C603.2 154.5 602.4 155.8 601.6 157.0C600.8 158.3 599.9 159.5 599.0 160.7C598.1 161.9 597.2 163.1 596.3 164.3C595.3 165.5 594.4 166.6 593.4 167.7C592.3 168.8 591.3 169.9 590.2 170.9C589.1 171.9 587.9 172.9 586.8 173.9C585.6 174.8 584.5 175.8 583.3 176.7C582.2 177.7 581.0 178.6 579.9 179.6C578.8 180.7 577.8 181.8 576.7 182.9C575.7 183.9 574.6 185.0 573.4 185.9C572.3 186.8 571.0 187.6 569.6 188.3C568.3 188.9 566.9 189.5 565.5 190.0C564.1 190.4 562.6 190.8 561.1 191.0C559.6 191.3 558.1 191.4 556.6 191.5C555.1 191.6 553.6 191.6 552.1 191.5C550.6 191.4 549.1 191.3 547.6 191.1C546.2 190.9 544.7 190.7 543.2 190.5C541.7 190.3 540.2 190.0 538.7 189.8C537.3 189.5 535.8 189.2 534.3 188.9C532.8 188.6 531.4 188.3 529.9 187.9C528.5 187.6 527.0 187.2 525.5 186.8C524.1 186.4 522.6 186.0 521.3 185.5C519.9 184.9 518.4 184.4 517.2 183.5C516.1 182.6 515.2 181.4 514.4 180.2Z" fill="none" stroke="#f57c12" stroke-width="1.25" stroke-linejoin="round"/>
<path d="M513.7 180.0C513.3 179.2 512.3 177.4 511.7 176.0C511.1 174.7 510.4 173.3 510.0 171.9C509.7 170.4 509.4 168.9 509.4 167.4C509.4 166.0 509.7 164.5 509.9 163.0C510.1 161.5 510.3 160.0 510.5 158.5C510.7 157.0 510.8 155.5 510.9 154.0C511.1 152.5 511.2 151.0 511.3 149.5C511.4 148.0 511.4 146.5 511.5 145.0C511.5 143.5 511.6 142.0 511.6 140.5C511.7 139.0 511.6 137.5 511.7 136.0C511.8 134.6 511.8 133.0 512.3 131.7C512.8 130.3 513.7 129.1 514.7 128.0C515.7 127.0 517.1 126.2 518.3 125.4C519.6 124.6 520.9 123.9 522.2 123.1C523.6 122.4 524.9 121.7 526.2 121.0C527.5 120.2 528.8 119.5 530.1 118.7C531.4 117.9 532.6 117.1 533.9 116.3C535.2 115.5 536.4 114.7 537.7 113.9C539.0 113.1 540.2 112.3 541.5 111.5C542.8 110.7 544.1 109.9 545.4 109.2C546.7 108.4 548.0 107.7 549.3 107.0C550.6 106.3 552.0 105.6 553.3 104.9C554.6 104.2 556.0 103.5 557.3 102.8C558.6 102.1 560.0 101.5 561.3 100.8C562.6 100.1 564.0 99.4 565.3 98.7C566.6 98.0 568.0 97.3 569.3 96.6C570.6 95.9 571.9 95.1 573.2 94.4C574.6 93.7 575.9 93.0 577.2 92.3C578.5 91.6 579.8 90.8 581.2 90.1C582.5 89.4 583.8 88.7 585.1 87.9C586.4 87.2 587.7 86.5 589.0 85.8C590.4 85.0 591.7 84.3 593.0 83.6C594.3 82.8 595.6 82.1 596.9 81.3C598.2 80.5 599.5 79.8 600.7 79.0C602.0 78.1 603.2 77.3 604.5 76.4C605.7 75.6 606.9 74.7 608.1 73.8C609.3 72.9 610.5 72.0 611.7 71.1C613.0 70.3 614.2 69.4 615.4 68.5C616.7 67.7 617.9 66.9 619.2 66.0C620.4 65.2 621.7 64.4 622.9 63.5C624.1 62.7 625.4 61.8 626.6 61.0C627.9 60.1 629.1 59.3 630.3 58.4C631.5 57.5 632.7 56.6 633.9 55.7C635.1 54.8 636.3 53.9 637.5 53.0C638.7 52.1 639.9 51.2 641.1 50.3C642.3 49.4 643.6 48.5 644.8 47.7C646.0 46.8 647.2 45.9 648.5 45.1C649.8 44.3 651.1 43.6 652.4 42.9C653.7 42.2 655.1 41.6 656.5 41.0C657.9 40.4 659.3 39.9 660.7 39.4C662.1 38.9 663.5 38.3 664.9 37.9C666.4 37.4 667.8 36.9 669.3 36.6C670.7 36.3 672.2 36.0 673.7 35.9C675.2 35.8 676.7 35.9 678.2 36.1C679.6 36.3 681.1 36.6 682.5 37.2C683.9 37.7 685.2 38.5 686.4 39.4C687.5 40.3 688.5 41.5 689.3 42.7C690.1 44.0 690.7 45.4 690.9 46.8C691.2 48.2 691.0 49.8 690.7 51.2C690.4 52.7 689.9 54.1 689.3 55.5C688.7 56.8 687.9 58.1 687.0 59.3C686.1 60.5 684.9 61.5 683.8 62.5C682.7 63.4 681.4 64.2 680.2 65.1C678.9 66.0 677.7 66.8 676.5 67.7C675.3 68.6 674.0 69.5 672.9 70.5C671.8 71.4 670.8 72.5 669.7 73.6C668.7 74.7 667.8 75.9 666.8 77.1C665.9 78.2 664.9 79.4 664.0 80.6C663.1 81.8 662.3 83.0 661.4 84.3C660.6 85.5 659.8 86.8 658.9 88.0C658.0 89.2 657.0 90.4 656.1 91.5C655.1 92.6 654.0 93.7 653.0 94.8C651.9 95.9 650.9 96.9 649.8 98.0C648.8 99.1 647.7 100.1 646.7 101.2C645.7 102.3 644.6 103.4 643.6 104.5C642.6 105.6 641.6 106.7 640.6 107.8C639.6 109.0 638.6 110.1 637.6 111.2C636.6 112.3 635.6 113.5 634.6 114.6C633.6 115.7 632.6 116.8 631.6 117.9C630.6 119.0 629.5 120.1 628.4 121.2C627.4 122.2 626.2 123.2 625.1 124.2C624.0 125.2 622.8 126.2 621.8 127.2C620.7 128.3 619.6 129.3 618.7 130.5C617.7 131.6 616.9 132.9 616.1 134.1C615.2 135.4 614.5 136.7 613.7 138.0C613.0 139.3 612.2 140.6 611.4 141.9C610.7 143.1 609.9 144.5 609.2 145.8C608.4 147.1 607.7 148.4 606.9 149.7C606.2 151.0 605.4 152.3 604.6 153.5C603.9 154.8 603.1 156.1 602.3 157.4C601.5 158.7 600.7 159.9 599.8 161.1C599.0 162.4 598.1 163.6 597.2 164.8C596.3 166.0 595.4 167.2 594.4 168.3C593.4 169.4 592.3 170.5 591.2 171.6C590.2 172.6 589.0 173.6 587.9 174.5C586.7 175.5 585.6 176.4 584.4 177.4C583.2 178.4 582.1 179.3 580.9 180.3C579.8 181.2 578.7 182.3 577.6 183.3C576.4 184.2 575.3 185.2 574.0 186.0C572.8 186.9 571.5 187.6 570.1 188.2C568.8 188.9 567.4 189.4 565.9 189.9C564.5 190.3 563.0 190.7 561.6 190.9C560.1 191.2 558.6 191.4 557.1 191.5C555.6 191.6 554.1 191.7 552.6 191.7C551.1 191.7 549.6 191.5 548.1 191.5C546.6 191.4 545.1 191.2 543.6 191.1C542.1 190.9 540.6 190.8 539.1 190.6C537.6 190.4 536.2 190.2 534.7 190.0C533.2 189.7 531.7 189.4 530.2 189.1C528.8 188.8 527.3 188.5 525.9 188.1C524.4 187.6 523.0 187.2 521.6 186.6C520.3 186.0 518.9 185.3 517.7 184.4C516.5 183.5 515.2 182.0 514.6 181.3C513.9 180.6 514.2 180.9 513.7 180.0Z" fill="none" stroke="#1fd21f" stroke-width="1.25" stroke-linejoin="round"/>
<path d="M570.1 110.5C570.9 110.0 572.7 109.0 574.0 108.3C575.3 107.5 576.6 106.8 577.9 106.1C579.3 105.4 580.6 104.7 581.9 104.0C583.3 103.3 584.6 102.6 585.9 102.0C587.3 101.3 588.6 100.6 590.0 100.0C591.3 99.3 592.7 98.7 594.1 98.1C595.4 97.5 596.8 96.9 598.2 96.2C599.5 95.6 600.9 95.0 602.3 94.4C603.7 93.8 605.0 93.2 606.4 92.6C607.8 92.0 609.2 91.4 610.5 90.8C611.9 90.2 613.2 89.5 614.6 88.8C615.9 88.2 617.2 87.4 618.6 86.7C619.9 86.0 621.2 85.3 622.5 84.6C623.9 84.0 625.3 83.2 626.7 82.8C628.0 82.4 629.8 81.7 630.9 82.0C631.9 82.3 632.9 83.5 633.1 84.7C633.3 85.8 632.6 87.5 632.1 88.9C631.6 90.3 630.8 91.6 630.0 92.9C629.3 94.2 628.6 95.5 627.8 96.8C627.1 98.1 626.3 99.4 625.6 100.7C624.8 102.0 624.1 103.3 623.3 104.6C622.6 105.9 621.8 107.2 621.0 108.4C620.1 109.7 619.2 110.9 618.3 112.0C617.3 113.2 616.3 114.3 615.3 115.4C614.3 116.6 613.3 117.7 612.3 118.7C611.2 119.8 610.2 120.9 609.1 121.9C608.0 123.0 606.9 124.0 605.8 125.0C604.7 126.0 603.6 127.0 602.6 128.1C601.5 129.2 600.6 130.4 599.7 131.6C598.8 132.8 598.0 134.1 597.3 135.4C596.5 136.7 595.8 138.0 595.1 139.3C594.4 140.7 593.7 142.0 593.1 143.3C592.4 144.7 591.8 146.1 591.1 147.4C590.4 148.7 589.8 150.1 589.1 151.4C588.4 152.8 587.7 154.1 587.0 155.4C586.3 156.7 585.6 158.1 584.8 159.4C584.1 160.7 583.3 161.9 582.5 163.2C581.7 164.5 580.9 165.7 580.0 166.9C579.1 168.1 578.2 169.3 577.1 170.4C576.1 171.4 574.9 172.4 573.7 173.3C572.5 174.2 571.2 175.0 569.9 175.8C568.7 176.6 567.4 177.4 566.1 178.1C564.8 178.8 563.4 179.5 562.1 180.1C560.7 180.7 559.3 181.2 557.8 181.6C556.4 182.0 554.9 182.5 553.5 182.6C552.0 182.7 550.5 182.5 549.1 182.2C547.6 182.0 546.2 181.3 544.7 181.0C543.3 180.8 541.8 180.8 540.3 180.9C538.8 180.9 537.3 181.5 535.9 181.5C534.5 181.4 532.9 181.1 531.7 180.4C530.4 179.7 529.4 178.5 528.5 177.4C527.7 176.2 526.9 174.8 526.5 173.4C526.0 172.0 525.8 170.5 525.7 169.1C525.7 167.6 526.2 166.1 526.4 164.6C526.7 163.2 527.1 161.7 527.3 160.2C527.5 158.7 527.5 157.2 527.6 155.7C527.7 154.2 527.7 152.7 527.8 151.2C527.9 149.7 528.0 148.2 528.2 146.7C528.4 145.3 528.5 143.8 528.8 142.3C529.0 140.8 529.3 139.3 529.6 137.9C530.0 136.4 530.3 134.8 531.0 133.7C531.8 132.5 533.0 131.7 534.3 131.2C535.6 130.7 537.2 130.9 538.7 130.6C540.1 130.2 541.6 129.7 542.9 129.1C544.3 128.5 545.6 127.8 546.8 126.9C548.0 126.1 549.2 125.1 550.3 124.1C551.5 123.2 552.7 122.2 553.9 121.3C555.1 120.4 556.3 119.6 557.5 118.7C558.7 117.8 560.0 117.0 561.2 116.1C562.5 115.3 563.7 114.5 565.0 113.7C566.2 112.8 567.9 111.8 568.8 111.3C569.6 110.7 569.2 111.0 570.1 110.5Z" fill="none" stroke="#2f2ff2" stroke-width="1.25" stroke-linejoin="round"/>
<path d="M569.2 108.9C570.5 108.2 571.8 107.4 573.1 106.7C574.5 106.0 575.8 105.4 577.2 104.7C578.5 104.0 579.9 103.4 581.2 102.7C582.6 102.1 583.9 101.4 585.3 100.8C586.6 100.1 588.0 99.5 589.4 98.8C590.7 98.2 592.1 97.6 593.5 97.0C594.9 96.4 596.2 95.8 597.6 95.2C599.0 94.6 600.4 94.0 601.8 93.4C603.1 92.8 604.5 92.2 605.9 91.6C607.3 91.0 608.7 90.4 610.0 89.8C611.4 89.1 612.7 88.5 614.1 87.8C615.4 87.1 616.7 86.4 618.0 85.6C619.4 84.9 620.7 84.2 622.0 83.5C623.3 82.8 624.7 82.0 626.1 81.5C627.5 81.0 629.1 80.4 630.4 80.5C631.7 80.6 633.2 81.2 633.9 82.2C634.5 83.2 634.4 85.0 634.2 86.4C634.1 87.8 633.3 89.2 632.7 90.6C632.1 92.0 631.3 93.3 630.6 94.6C629.9 95.9 629.2 97.3 628.5 98.6C627.8 99.9 627.1 101.2 626.4 102.6C625.8 103.9 625.1 105.3 624.4 106.6C623.7 107.9 622.9 109.2 622.1 110.5C621.2 111.7 620.3 112.9 619.3 114.0C618.4 115.2 617.4 116.3 616.3 117.4C615.3 118.5 614.2 119.6 613.1 120.6C612.1 121.6 610.9 122.6 609.8 123.6C608.6 124.5 607.4 125.4 606.2 126.4C605.1 127.3 603.9 128.3 602.8 129.3C601.7 130.4 600.7 131.5 599.8 132.6C598.8 133.8 598.0 135.1 597.2 136.3C596.4 137.6 595.6 138.9 594.9 140.2C594.2 141.5 593.5 142.9 592.8 144.2C592.2 145.6 591.6 147.0 591.0 148.4C590.4 149.7 589.8 151.1 589.2 152.5C588.6 153.9 588.0 155.2 587.4 156.6C586.7 158.0 586.1 159.3 585.4 160.6C584.7 162.0 583.9 163.3 583.1 164.6C582.4 165.9 581.6 167.2 580.7 168.4C579.8 169.6 578.9 170.8 577.9 171.8C576.8 172.9 575.6 173.8 574.4 174.7C573.2 175.6 571.9 176.4 570.6 177.1C569.3 177.9 568.0 178.7 566.7 179.3C565.3 180.0 563.9 180.6 562.5 181.2C561.1 181.7 559.7 182.1 558.2 182.5C556.8 182.8 555.3 183.2 553.8 183.3C552.3 183.4 550.8 183.2 549.4 182.9C547.9 182.7 546.5 182.0 545.0 181.8C543.6 181.5 542.1 181.5 540.6 181.6C539.1 181.7 537.7 182.4 536.2 182.4C534.8 182.4 533.2 182.2 531.9 181.7C530.6 181.1 529.4 180.1 528.4 179.0C527.5 177.9 526.8 176.5 526.2 175.1C525.7 173.7 525.2 172.3 525.0 170.8C524.8 169.4 525.1 167.8 525.3 166.4C525.5 164.9 525.9 163.4 526.1 161.9C526.3 160.5 526.5 159.0 526.5 157.5C526.6 156.0 526.5 154.4 526.5 152.9C526.5 151.4 526.5 149.9 526.6 148.4C526.7 146.9 526.8 145.4 527.0 143.9C527.2 142.5 527.4 141.0 527.7 139.5C528.0 138.0 528.3 136.5 528.8 135.1C529.4 133.8 530.0 132.2 531.0 131.3C532.0 130.4 533.5 130.2 534.9 129.8C536.3 129.4 537.9 129.3 539.3 128.8C540.7 128.3 542.1 127.7 543.4 126.9C544.6 126.2 545.8 125.2 547.0 124.3C548.2 123.3 549.2 122.3 550.4 121.3C551.5 120.4 552.7 119.5 554.0 118.6C555.2 117.7 556.4 116.8 557.7 116.0C558.9 115.2 560.2 114.3 561.4 113.5C562.7 112.7 564.0 111.9 565.3 111.2C566.6 110.4 567.9 109.6 569.2 108.9Z" fill="none" stroke="#f57c12" stroke-width="1.25" stroke-linejoin="round"/>
<path d="M531.4 150.0C531.7 148.5 531.7 147.0 532.0 145.5C532.3 144.1 532.3 142.5 533.1 141.5C534.0 140.4 535.5 139.9 536.8 139.3C538.1 138.7 539.9 138.7 541.1 137.9C542.2 137.2 543.1 136.0 543.6 134.8C544.2 133.5 543.8 131.8 544.3 130.4C544.7 129.1 545.5 127.8 546.4 126.7C547.3 125.5 548.6 124.7 549.8 123.8C551.0 122.9 552.3 122.1 553.5 121.2C554.7 120.4 556.0 119.5 557.2 118.6C558.5 117.8 559.7 116.9 560.9 116.1C562.2 115.3 563.5 114.5 564.7 113.7C566.0 112.8 567.2 112.0 568.5 111.2C569.8 110.4 571.0 109.6 572.3 108.8C573.5 107.9 574.8 107.1 576.0 106.3C577.3 105.5 578.6 104.7 579.8 103.9C581.1 103.0 582.4 102.2 583.6 101.4C584.9 100.6 586.2 99.9 587.5 99.1C588.7 98.3 590.0 97.5 591.3 96.8C592.6 96.0 593.9 95.3 595.2 94.5C596.5 93.8 597.9 93.1 599.2 92.3C600.5 91.6 601.8 90.9 603.1 90.2C604.4 89.5 605.8 88.8 607.1 88.1C608.4 87.4 609.7 86.7 611.1 86.0C612.4 85.3 613.7 84.6 615.1 83.9C616.4 83.2 617.7 82.5 619.1 81.8C620.4 81.1 621.7 80.4 623.1 79.7C624.4 79.1 625.7 78.4 627.1 77.7C628.4 77.0 629.8 76.4 631.1 75.7C632.5 75.1 633.8 74.4 635.2 73.8C636.6 73.2 638.0 72.6 639.4 72.1C640.8 71.6 642.3 71.1 643.7 71.1C645.1 71.1 646.9 71.6 647.5 72.4C648.1 73.2 647.8 74.9 647.4 76.1C646.9 77.3 645.7 78.5 644.8 79.7C643.9 80.9 642.8 82.0 641.8 83.1C640.8 84.2 639.8 85.3 638.8 86.4C637.8 87.5 636.7 88.6 635.8 89.8C634.9 91.0 634.0 92.2 633.1 93.4C632.2 94.6 631.4 95.9 630.6 97.1C629.7 98.4 628.9 99.6 628.1 100.9C627.3 102.1 626.5 103.4 625.7 104.7C624.9 105.9 624.1 107.2 623.3 108.5C622.4 109.7 621.5 110.9 620.6 112.1C619.7 113.3 618.7 114.4 617.7 115.6C616.7 116.7 615.7 117.8 614.7 118.9C613.7 120.0 612.6 121.1 611.5 122.1C610.5 123.2 609.4 124.2 608.3 125.2C607.2 126.2 606.1 127.3 605.0 128.3C604.0 129.4 603.0 130.5 602.1 131.7C601.1 132.9 600.3 134.1 599.4 135.4C598.6 136.6 597.8 137.9 597.0 139.1C596.2 140.4 595.4 141.7 594.6 143.0C593.9 144.3 593.2 145.6 592.5 147.0C591.8 148.3 591.2 149.6 590.5 151.0C589.8 152.3 589.2 153.7 588.5 155.0C587.9 156.4 587.2 157.7 586.5 159.1C585.8 160.4 585.1 161.7 584.4 163.1C583.7 164.4 583.1 165.8 582.3 167.0C581.5 168.3 580.7 169.5 579.7 170.7C578.7 171.8 577.6 172.8 576.4 173.7C575.3 174.7 574.0 175.6 572.8 176.4C571.6 177.3 570.3 178.1 569.0 178.8C567.7 179.6 566.4 180.3 565.0 180.9C563.7 181.6 562.3 182.1 560.9 182.6C559.4 183.1 558.0 183.5 556.5 183.8C555.1 184.1 553.5 184.4 552.1 184.4C550.6 184.4 549.1 184.1 547.7 183.8C546.2 183.4 544.9 182.6 543.4 182.3C542.0 182.1 540.5 182.3 539.1 182.3C537.7 182.2 536.2 182.3 534.9 181.8C533.6 181.4 532.3 180.3 531.2 179.3C530.2 178.3 529.2 177.1 528.5 175.8C527.8 174.5 527.3 173.0 527.0 171.6C526.7 170.1 526.5 168.6 526.5 167.1C526.4 165.7 526.6 164.1 526.9 162.7C527.2 161.2 527.8 159.8 528.3 158.4C528.8 157.0 529.4 155.6 529.9 154.2C530.5 152.8 531.1 151.4 531.4 150.0Z" fill="none" stroke="#1fd21f" stroke-width="1.25" stroke-linejoin="round"/>
<path d="M500.80 201.30v-5.60M500.80 10.00v5.60M592.90 201.30v-5.60M592.90 10.00v5.60M685.00 201.30v-5.60M685.00 10.00v5.60" stroke="#3c3c3c" stroke-width="1.00" fill="none"/>
<path d="M486.53 201.30v-3.40M486.53 10.00v3.40M491.87 201.30v-3.40M491.87 10.00v3.40M496.59 201.30v-3.40M496.59 10.00v3.40M528.52 201.30v-3.40M528.52 10.00v3.40M544.74 201.30v-3.40M544.74 10.00v3.40M556.25 201.30v-3.40M556.25 10.00v3.40M565.18 201.30v-3.40M565.18 10.00v3.40M572.47 201.30v-3.40M572.47 10.00v3.40M578.63 201.30v-3.40M578.63 10.00v3.40M583.97 201.30v-3.40M583.97 10.00v3.40M588.69 201.30v-3.40M588.69 10.00v3.40M620.62 201.30v-3.40M620.62 10.00v3.40M636.84 201.30v-3.40M636.84 10.00v3.40M648.35 201.30v-3.40M648.35 10.00v3.40M657.28 201.30v-3.40M657.28 10.00v3.40M664.57 201.30v-3.40M664.57 10.00v3.40M670.73 201.30v-3.40M670.73 10.00v3.40M676.07 201.30v-3.40M676.07 10.00v3.40M680.79 201.30v-3.40M680.79 10.00v3.40M712.72 201.30v-3.40M712.72 10.00v3.40M728.94 201.30v-3.40M728.94 10.00v3.40M740.45 201.30v-3.40M740.45 10.00v3.40" stroke="#3c3c3c" stroke-width="1.00" fill="none"/>
<path d="M481.90 180.40h5.60M748.20 180.40h-5.60M481.90 111.70h5.60M748.20 111.70h-5.60M481.90 43.00h5.60M748.20 43.00h-5.60" stroke="#3c3c3c" stroke-width="1.00" fill="none"/>
<path d="M481.90 201.08h3.40M748.20 201.08h-3.40M481.90 195.64h3.40M748.20 195.64h-3.40M481.90 191.04h3.40M748.20 191.04h-3.40M481.90 187.06h3.40M748.20 187.06h-3.40M481.90 183.54h3.40M748.20 183.54h-3.40M481.90 159.72h3.40M748.20 159.72h-3.40M481.90 147.62h3.40M748.20 147.62h-3.40M481.90 139.04h3.40M748.20 139.04h-3.40M481.90 132.38h3.40M748.20 132.38h-3.40M481.90 126.94h3.40M748.20 126.94h-3.40M481.90 122.34h3.40M748.20 122.34h-3.40M481.90 118.36h3.40M748.20 118.36h-3.40M481.90 114.84h3.40M748.20 114.84h-3.40M481.90 91.02h3.40M748.20 91.02h-3.40M481.90 78.92h3.40M748.20 78.92h-3.40M481.90 70.34h3.40M748.20 70.34h-3.40M481.90 63.68h3.40M748.20 63.68h-3.40M481.90 58.24h3.40M748.20 58.24h-3.40M481.90 53.64h3.40M748.20 53.64h-3.40M481.90 49.66h3.40M748.20 49.66h-3.40M481.90 46.14h3.40M748.20 46.14h-3.40M481.90 22.32h3.40M748.20 22.32h-3.40M481.90 10.22h3.40M748.20 10.22h-3.40" stroke="#3c3c3c" stroke-width="1.00" fill="none"/>
<path d="M481.90 10.00H748.20M481.90 201.30H748.20" stroke="#3c3c3c" stroke-width="1.25" fill="none" stroke-linecap="square"/>
<path d="M481.90 10.00V201.30M748.20 10.00V201.30" stroke="#4a4a4a" stroke-width="0.95" fill="none"/>
<text x="484.8" y="231.8" font-size="25">10</text><text x="508.9" y="223.4" font-size="17">1</text>
<text x="576.9" y="231.8" font-size="25">10</text><text x="601.0" y="223.4" font-size="17">2</text>
<text x="669.0" y="231.8" font-size="25">10</text><text x="693.1" y="223.4" font-size="17">3</text>
<text x="444.0" y="192.2" font-size="25">10</text><text x="468.1" y="183.8" font-size="17">1</text>
<text x="444.0" y="122.8" font-size="25">10</text><text x="468.1" y="114.4" font-size="17">2</text>
<text x="444.0" y="53.6" font-size="25">10</text><text x="468.1" y="45.2" font-size="17">3</text>
<text x="393.8" y="24.4" font-size="28">(</text><text x="404.1" y="24.4" font-size="28" class="it">b</text><text x="419.3" y="24.4" font-size="28">)</text>
<text x="398.1" y="117.4" font-size="29" class="it">l</text><text x="408.8" y="120.9" font-size="19" class="it">y</text>
<text x="411.6" y="109.0" font-size="26">+</text>
<text x="618.3" y="272.4" font-size="29" class="it">l</text><text x="625.8" y="276.9" font-size="20" class="it">z</text>
<text x="629.6" y="263.9" font-size="26">+</text>
</g>
<g id="panel-c">
<clipPath id="cc"><rect x="894.6" y="10.1" width="266.8" height="191.3"/></clipPath>
<g clip-path="url(#cc)">
<g fill="#000000"><circle cx="898.4" cy="196.2" r="2.00"/><circle cx="908.4" cy="192.7" r="2.00"/><circle cx="916.4" cy="188.0" r="2.00"/><circle cx="923.1" cy="182.3" r="2.00"/><circle cx="929.0" cy="175.6" r="2.00"/><circle cx="934.0" cy="168.4" r="2.00"/><circle cx="938.6" cy="160.4" r="2.00"/><circle cx="942.9" cy="151.9" r="2.00"/><circle cx="946.6" cy="143.7" r="2.00"/><circle cx="950.1" cy="135.2" r="2.00"/><circle cx="953.5" cy="126.3" r="2.00"/><circle cx="956.5" cy="118.6" r="2.00"/><circle cx="959.4" cy="110.0" r="2.00"/><circle cx="962.1" cy="101.7" r="2.00"/><circle cx="964.7" cy="96.0" r="2.00"/><circle cx="967.1" cy="91.4" r="2.00"/><circle cx="969.5" cy="86.8" r="2.00"/><circle cx="971.8" cy="80.5" r="2.00"/><circle cx="974.0" cy="75.4" r="2.00"/><circle cx="976.1" cy="71.3" r="2.00"/><circle cx="978.2" cy="67.8" r="2.00"/><circle cx="980.2" cy="64.8" r="2.00"/><circle cx="982.2" cy="62.2" r="2.00"/><circle cx="984.1" cy="60.1" r="2.00"/><circle cx="985.9" cy="58.3" r="2.00"/><circle cx="987.8" cy="56.9" r="2.00"/><circle cx="989.6" cy="55.8" r="2.00"/><circle cx="991.3" cy="55.0" r="2.00"/><circle cx="993.0" cy="54.5" r="2.00"/><circle cx="994.7" cy="54.3" r="2.00"/><circle cx="996.3" cy="54.3" r="2.00"/><circle cx="997.9" cy="54.5" r="2.00"/><circle cx="999.5" cy="55.0" r="2.00"/><circle cx="1001.0" cy="55.6" r="2.00"/><circle cx="1002.4" cy="56.4" r="2.00"/><circle cx="1003.9" cy="57.4" r="2.00"/><circle cx="1005.2" cy="58.5" r="2.00"/><circle cx="1006.6" cy="59.7" r="2.00"/><circle cx="1007.9" cy="61.0" r="2.00"/><circle cx="1009.2" cy="62.5" r="2.00"/><circle cx="1010.4" cy="64.0" r="2.00"/></g>
<path d="M1010.4 64.0L1011.9 66.0L1013.4 68.2L1014.9 70.6L1016.4 73.0L1017.9 75.5L1019.4 78.0L1020.9 80.3L1022.4 82.6L1023.9 84.9L1025.4 87.2L1026.9 89.4L1028.4 91.7L1029.9 93.9L1031.4 96.1L1032.9 98.1L1034.4 100.0L1035.9 101.9L1037.4 103.6L1038.9 105.3L1040.4 106.9L1041.9 108.4L1043.4 109.8L1044.9 111.2L1046.4 112.5L1047.9 113.8L1049.4 115.0L1050.9 116.1L1052.4 117.3L1053.9 118.3L1055.4 119.3L1056.9 120.3L1058.4 121.3L1059.9 122.2L1061.4 123.1L1062.9 123.9L1064.4 124.8L1065.9 125.6L1067.4 126.4L1068.9 127.1L1070.4 127.9L1071.9 128.6L1073.4 129.4L1074.9 130.1L1076.4 130.8L1077.9 131.5L1079.4 132.2L1080.9 133.0L1082.4 133.7L1083.9 134.5L1085.4 135.2L1086.9 136.0L1088.4 136.8L1089.9 137.6L1091.4 138.4L1092.9 139.3L1094.4 140.2L1095.9 141.1L1097.4 142.1L1098.9 143.1L1100.4 144.1L1101.9 145.2L1102.3 145.5" fill="none" stroke="#000000" stroke-width="4.20" stroke-linecap="round" stroke-linejoin="round"/>
<g fill="#ff7f0e"><circle cx="898.4" cy="197.9" r="2.00"/><circle cx="908.4" cy="194.8" r="2.00"/><circle cx="916.4" cy="190.4" r="2.00"/><circle cx="923.1" cy="185.2" r="2.00"/><circle cx="929.0" cy="179.2" r="2.00"/><circle cx="934.0" cy="173.1" r="2.00"/><circle cx="938.6" cy="166.5" r="2.00"/><circle cx="942.9" cy="159.5" r="2.00"/><circle cx="946.6" cy="152.7" r="2.00"/><circle cx="950.1" cy="145.6" r="2.00"/><circle cx="953.5" cy="138.4" r="2.00"/><circle cx="956.5" cy="131.8" r="2.00"/><circle cx="959.4" cy="125.4" r="2.00"/><circle cx="962.1" cy="119.5" r="2.00"/><circle cx="964.7" cy="113.9" r="2.00"/><circle cx="967.1" cy="109.0" r="2.00"/><circle cx="969.5" cy="104.3" r="2.00"/><circle cx="971.8" cy="100.1" r="2.00"/><circle cx="974.0" cy="96.4" r="2.00"/><circle cx="976.1" cy="93.2" r="2.00"/><circle cx="978.2" cy="90.3" r="2.00"/><circle cx="980.2" cy="87.9" r="2.00"/><circle cx="982.2" cy="85.9" r="2.00"/><circle cx="984.1" cy="84.2" r="2.00"/><circle cx="985.9" cy="82.9" r="2.00"/><circle cx="987.8" cy="81.8" r="2.00"/><circle cx="989.6" cy="81.1" r="2.00"/><circle cx="991.3" cy="80.6" r="2.00"/><circle cx="993.0" cy="80.4" r="2.00"/><circle cx="994.7" cy="80.5" r="2.00"/><circle cx="996.3" cy="80.8" r="2.00"/><circle cx="997.9" cy="81.2" r="2.00"/><circle cx="999.5" cy="81.9" r="2.00"/><circle cx="1001.0" cy="82.7" r="2.00"/><circle cx="1002.4" cy="83.6" r="2.00"/><circle cx="1003.9" cy="84.6" r="2.00"/><circle cx="1005.2" cy="85.7" r="2.00"/><circle cx="1006.6" cy="86.8" r="2.00"/><circle cx="1007.9" cy="88.0" r="2.00"/><circle cx="1009.2" cy="89.2" r="2.00"/><circle cx="1010.4" cy="90.5" r="2.00"/></g>
<path d="M1010.4 90.5L1011.9 92.1L1013.4 93.7L1014.9 95.5L1016.4 97.2L1017.9 99.0L1019.4 100.8L1020.9 102.7L1022.4 104.5L1023.9 106.4L1025.4 108.3L1026.9 110.1L1028.4 112.0L1029.9 113.8L1031.4 115.5L1032.9 117.3L1034.4 119.0L1035.9 120.6L1037.4 122.1L1038.9 123.6L1040.4 125.1L1041.9 126.5L1043.4 127.8L1044.9 129.1L1046.4 130.3L1047.9 131.4L1049.4 132.5L1050.9 133.6L1052.4 134.5L1053.9 135.5L1055.4 136.4L1056.9 137.2L1058.4 138.0L1059.9 138.7L1061.4 139.4L1062.9 140.1L1064.4 140.8L1065.9 141.4L1067.4 142.0L1068.9 142.6L1070.4 143.1L1071.9 143.7L1073.4 144.2L1074.9 144.8L1076.4 145.3L1077.9 145.9L1079.4 146.4L1080.9 147.0L1082.4 147.6L1083.9 148.2L1085.4 148.8L1086.9 149.4L1088.4 150.1L1089.9 150.8L1091.4 151.5L1092.9 152.3L1094.4 153.1L1095.9 154.0L1097.4 154.9L1098.9 155.8L1100.4 156.9L1101.9 157.9L1102.3 158.2" fill="none" stroke="#ff7f0e" stroke-width="4.20" stroke-linecap="round" stroke-linejoin="round"/>
<g fill="#b0500b"><circle cx="898.4" cy="196.6" r="2.00"/><circle cx="908.4" cy="193.3" r="2.00"/><circle cx="916.4" cy="189.1" r="2.00"/><circle cx="923.1" cy="183.8" r="2.00"/><circle cx="929.0" cy="177.4" r="2.00"/><circle cx="934.0" cy="170.7" r="2.00"/><circle cx="938.6" cy="163.4" r="2.00"/><circle cx="942.9" cy="155.5" r="2.00"/><circle cx="946.6" cy="148.0" r="2.00"/><circle cx="950.1" cy="140.2" r="2.00"/><circle cx="953.5" cy="132.1" r="2.00"/><circle cx="956.5" cy="124.7" r="2.00"/><circle cx="959.4" cy="117.5" r="2.00"/><circle cx="962.1" cy="110.9" r="2.00"/><circle cx="964.7" cy="104.9" r="2.00"/><circle cx="967.1" cy="99.6" r="2.00"/><circle cx="969.5" cy="94.7" r="2.00"/><circle cx="971.8" cy="90.3" r="2.00"/><circle cx="974.0" cy="86.4" r="2.00"/><circle cx="976.1" cy="83.0" r="2.00"/><circle cx="978.2" cy="79.8" r="2.00"/><circle cx="980.2" cy="77.1" r="2.00"/><circle cx="982.2" cy="74.7" r="2.00"/><circle cx="984.1" cy="72.7" r="2.00"/><circle cx="985.9" cy="71.0" r="2.00"/><circle cx="987.8" cy="69.6" r="2.00"/><circle cx="989.6" cy="68.6" r="2.00"/><circle cx="991.3" cy="67.9" r="2.00"/><circle cx="993.0" cy="67.5" r="2.00"/><circle cx="994.7" cy="67.5" r="2.00"/><circle cx="996.3" cy="67.7" r="2.00"/><circle cx="997.9" cy="68.2" r="2.00"/><circle cx="999.5" cy="68.8" r="2.00"/><circle cx="1001.0" cy="69.7" r="2.00"/><circle cx="1002.4" cy="70.6" r="2.00"/><circle cx="1003.9" cy="71.6" r="2.00"/><circle cx="1005.2" cy="72.7" r="2.00"/><circle cx="1006.6" cy="73.8" r="2.00"/><circle cx="1007.9" cy="75.0" r="2.00"/><circle cx="1009.2" cy="76.2" r="2.00"/><circle cx="1010.4" cy="77.6" r="2.00"/></g>
<path d="M1010.4 77.6L1011.9 79.4L1013.4 81.5L1014.9 83.6L1016.4 85.9L1017.9 88.1L1019.4 90.2L1020.9 92.4L1022.4 94.5L1023.9 96.5L1025.4 98.5L1026.9 100.4L1028.4 102.3L1029.9 104.2L1031.4 106.0L1032.9 107.8L1034.4 109.5L1035.9 111.1L1037.4 112.7L1038.9 114.3L1040.4 115.8L1041.9 117.3L1043.4 118.7L1044.9 120.1L1046.4 121.4L1047.9 122.7L1049.4 123.9L1050.9 125.0L1052.4 126.1L1053.9 127.2L1055.4 128.2L1056.9 129.1L1058.4 130.0L1059.9 130.9L1061.4 131.7L1062.9 132.5L1064.4 133.2L1065.9 134.0L1067.4 134.7L1068.9 135.3L1070.4 136.0L1071.9 136.6L1073.4 137.2L1074.9 137.9L1076.4 138.5L1077.9 139.1L1079.4 139.7L1080.9 140.3L1082.4 141.0L1083.9 141.6L1085.4 142.3L1086.9 143.0L1088.4 143.7L1089.9 144.5L1091.4 145.3L1092.9 146.1L1094.4 146.9L1095.9 147.8L1097.4 148.8L1098.9 149.8L1100.4 150.8L1101.9 152.0L1102.3 152.3" fill="none" stroke="#b0500b" stroke-width="4.20" stroke-linecap="round" stroke-linejoin="round"/>
<g fill="#3737ff"><circle cx="898.4" cy="195.9" r="2.00"/><circle cx="908.4" cy="192.2" r="2.00"/><circle cx="916.4" cy="187.2" r="2.00"/><circle cx="923.1" cy="180.9" r="2.00"/><circle cx="929.0" cy="173.4" r="2.00"/><circle cx="934.0" cy="165.2" r="2.00"/><circle cx="938.6" cy="156.1" r="2.00"/><circle cx="942.9" cy="146.4" r="2.00"/><circle cx="946.6" cy="137.3" r="2.00"/><circle cx="950.1" cy="128.1" r="2.00"/><circle cx="953.5" cy="118.7" r="2.00"/><circle cx="956.5" cy="110.1" r="2.00"/><circle cx="959.4" cy="101.7" r="2.00"/><circle cx="962.1" cy="93.9" r="2.00"/><circle cx="964.7" cy="86.6" r="2.00"/><circle cx="967.1" cy="80.0" r="2.00"/><circle cx="969.5" cy="73.8" r="2.00"/><circle cx="971.8" cy="68.2" r="2.00"/><circle cx="974.0" cy="63.1" r="2.00"/><circle cx="976.1" cy="58.7" r="2.00"/><circle cx="978.2" cy="54.7" r="2.00"/><circle cx="980.2" cy="51.3" r="2.00"/><circle cx="982.2" cy="48.4" r="2.00"/><circle cx="984.1" cy="46.0" r="2.00"/><circle cx="985.9" cy="44.0" r="2.00"/><circle cx="987.8" cy="42.4" r="2.00"/><circle cx="989.6" cy="41.2" r="2.00"/><circle cx="991.3" cy="40.4" r="2.00"/><circle cx="993.0" cy="39.9" r="2.00"/><circle cx="994.7" cy="39.8" r="2.00"/><circle cx="996.3" cy="39.9" r="2.00"/><circle cx="997.9" cy="40.3" r="2.00"/><circle cx="999.5" cy="41.0" r="2.00"/><circle cx="1001.0" cy="41.9" r="2.00"/><circle cx="1002.4" cy="43.0" r="2.00"/><circle cx="1003.9" cy="44.2" r="2.00"/><circle cx="1005.2" cy="45.5" r="2.00"/><circle cx="1006.6" cy="47.0" r="2.00"/><circle cx="1007.9" cy="48.5" r="2.00"/><circle cx="1009.2" cy="50.1" r="2.00"/><circle cx="1010.4" cy="51.7" r="2.00"/></g>
<path d="M1010.4 51.7L1011.9 53.8L1013.4 56.0L1014.9 58.3L1016.4 60.7L1017.9 63.1L1019.4 65.6L1020.9 68.1L1022.4 70.6L1023.9 73.1L1025.4 75.6L1026.9 78.1L1028.4 80.5L1029.9 82.9L1031.4 85.2L1032.9 87.5L1034.4 89.6L1035.9 91.7L1037.4 93.6L1038.9 95.5L1040.4 97.3L1041.9 99.0L1043.4 100.7L1044.9 102.2L1046.4 103.7L1047.9 105.0L1049.4 106.4L1050.9 107.6L1052.4 108.8L1053.9 109.9L1055.4 111.0L1056.9 112.0L1058.4 112.9L1059.9 113.8L1061.4 114.7L1062.9 115.5L1064.4 116.4L1065.9 117.1L1067.4 117.9L1068.9 118.6L1070.4 119.4L1071.9 120.1L1073.4 120.8L1074.9 121.5L1076.4 122.2L1077.9 122.9L1079.4 123.7L1080.9 124.4L1082.4 125.2L1083.9 126.0L1085.4 126.8L1086.9 127.6L1088.4 128.5L1089.9 129.5L1091.4 130.4L1092.9 131.5L1094.4 132.5L1095.9 133.7L1097.4 134.9L1098.9 136.2L1100.4 137.5L1101.9 138.9L1102.3 139.3" fill="none" stroke="#3737ff" stroke-width="4.20" stroke-linecap="round" stroke-linejoin="round"/>
<g fill="#08c808"><circle cx="898.4" cy="195.1" r="2.00"/><circle cx="908.4" cy="190.8" r="2.00"/><circle cx="916.4" cy="185.1" r="2.00"/><circle cx="923.1" cy="178.0" r="2.00"/><circle cx="929.0" cy="169.6" r="2.00"/><circle cx="934.0" cy="160.5" r="2.00"/><circle cx="938.6" cy="150.4" r="2.00"/><circle cx="942.9" cy="139.7" r="2.00"/><circle cx="946.6" cy="129.5" r="2.00"/><circle cx="950.1" cy="119.1" r="2.00"/><circle cx="953.5" cy="108.6" r="2.00"/><circle cx="956.5" cy="98.9" r="2.00"/><circle cx="959.4" cy="89.4" r="2.00"/><circle cx="962.1" cy="80.6" r="2.00"/><circle cx="964.7" cy="72.5" r="2.00"/><circle cx="967.1" cy="65.3" r="2.00"/><circle cx="969.5" cy="58.6" r="2.00"/><circle cx="971.8" cy="52.6" r="2.00"/><circle cx="974.0" cy="47.4" r="2.00"/><circle cx="976.1" cy="42.9" r="2.00"/><circle cx="978.2" cy="38.9" r="2.00"/><circle cx="980.2" cy="35.5" r="2.00"/><circle cx="982.2" cy="32.6" r="2.00"/><circle cx="984.1" cy="30.2" r="2.00"/><circle cx="985.9" cy="28.2" r="2.00"/><circle cx="987.8" cy="26.7" r="2.00"/><circle cx="989.6" cy="25.5" r="2.00"/><circle cx="991.3" cy="24.8" r="2.00"/><circle cx="993.0" cy="24.5" r="2.00"/><circle cx="994.7" cy="24.5" r="2.00"/><circle cx="996.3" cy="24.8" r="2.00"/><circle cx="997.9" cy="25.4" r="2.00"/><circle cx="999.5" cy="26.2" r="2.00"/><circle cx="1001.0" cy="27.3" r="2.00"/><circle cx="1002.4" cy="28.6" r="2.00"/><circle cx="1003.9" cy="30.0" r="2.00"/><circle cx="1005.2" cy="31.5" r="2.00"/><circle cx="1006.6" cy="33.2" r="2.00"/><circle cx="1007.9" cy="34.9" r="2.00"/><circle cx="1009.2" cy="36.7" r="2.00"/><circle cx="1010.4" cy="38.5" r="2.00"/></g>
<path d="M1010.4 38.5L1011.9 40.9L1013.4 43.3L1014.9 45.8L1016.4 48.4L1017.9 50.9L1019.4 53.5L1020.9 56.1L1022.4 58.9L1023.9 61.6L1025.4 64.4L1026.9 67.1L1028.4 69.8L1029.9 72.3L1031.4 74.8L1032.9 77.2L1034.4 79.5L1035.9 81.7L1037.4 83.8L1038.9 85.8L1040.4 87.7L1041.9 89.5L1043.4 91.2L1044.9 92.9L1046.4 94.5L1047.9 95.9L1049.4 97.3L1050.9 98.6L1052.4 99.9L1053.9 101.1L1055.4 102.2L1056.9 103.2L1058.4 104.2L1059.9 105.2L1061.4 106.1L1062.9 107.0L1064.4 107.8L1065.9 108.6L1067.4 109.4L1068.9 110.1L1070.4 110.9L1071.9 111.6L1073.4 112.4L1074.9 113.1L1076.4 113.8L1077.9 114.6L1079.4 115.4L1080.9 116.1L1082.4 117.0L1083.9 117.8L1085.4 118.7L1086.9 119.6L1088.4 120.6L1089.9 121.6L1091.4 122.7L1092.9 123.8L1094.4 125.0L1095.9 126.3L1097.4 127.6L1098.9 129.0L1100.4 130.5L1101.9 132.1L1102.3 132.6" fill="none" stroke="#08c808" stroke-width="4.20" stroke-linecap="round" stroke-linejoin="round"/>
<path d="M1016.6 103.0L1127.8 153.2" stroke="#d40a0a" stroke-width="2" stroke-dasharray="5.9 4.5" fill="none"/>
</g>
<path d="M894.60 201.40v-5.60M894.60 10.10v5.60M978.35 201.40v-5.60M978.35 10.10v5.60M1062.10 201.40v-5.60M1062.10 10.10v5.60M1145.85 201.40v-5.60M1145.85 10.10v5.60" stroke="#3c3c3c" stroke-width="1.00" fill="none"/>
<path d="M919.81 201.40v-3.40M919.81 10.10v3.40M934.56 201.40v-3.40M934.56 10.10v3.40M945.02 201.40v-3.40M945.02 10.10v3.40M953.14 201.40v-3.40M953.14 10.10v3.40M959.77 201.40v-3.40M959.77 10.10v3.40M965.38 201.40v-3.40M965.38 10.10v3.40M970.23 201.40v-3.40M970.23 10.10v3.40M974.52 201.40v-3.40M974.52 10.10v3.40M1003.56 201.40v-3.40M1003.56 10.10v3.40M1018.31 201.40v-3.40M1018.31 10.10v3.40M1028.77 201.40v-3.40M1028.77 10.10v3.40M1036.89 201.40v-3.40M1036.89 10.10v3.40M1043.52 201.40v-3.40M1043.52 10.10v3.40M1049.13 201.40v-3.40M1049.13 10.10v3.40M1053.98 201.40v-3.40M1053.98 10.10v3.40M1058.27 201.40v-3.40M1058.27 10.10v3.40M1087.31 201.40v-3.40M1087.31 10.10v3.40M1102.06 201.40v-3.40M1102.06 10.10v3.40M1112.52 201.40v-3.40M1112.52 10.10v3.40M1120.64 201.40v-3.40M1120.64 10.10v3.40M1127.27 201.40v-3.40M1127.27 10.10v3.40M1132.88 201.40v-3.40M1132.88 10.10v3.40M1137.73 201.40v-3.40M1137.73 10.10v3.40M1142.02 201.40v-3.40M1142.02 10.10v3.40" stroke="#3c3c3c" stroke-width="1.00" fill="none"/>
<path d="M894.60 201.20h5.60M1161.40 201.20h-5.60M894.60 146.48h5.60M1161.40 146.48h-5.60M894.60 91.76h5.60M1161.40 91.76h-5.60M894.60 37.04h5.60M1161.40 37.04h-5.60" stroke="#3c3c3c" stroke-width="1.00" fill="none"/>
<path d="M894.60 190.26h3.40M1161.40 190.26h-3.40M894.60 179.31h3.40M1161.40 179.31h-3.40M894.60 168.37h3.40M1161.40 168.37h-3.40M894.60 157.42h3.40M1161.40 157.42h-3.40M894.60 135.54h3.40M1161.40 135.54h-3.40M894.60 124.59h3.40M1161.40 124.59h-3.40M894.60 113.65h3.40M1161.40 113.65h-3.40M894.60 102.70h3.40M1161.40 102.70h-3.40M894.60 80.82h3.40M1161.40 80.82h-3.40M894.60 69.87h3.40M1161.40 69.87h-3.40M894.60 58.93h3.40M1161.40 58.93h-3.40M894.60 47.98h3.40M1161.40 47.98h-3.40M894.60 26.10h3.40M1161.40 26.10h-3.40M894.60 15.15h3.40M1161.40 15.15h-3.40" stroke="#3c3c3c" stroke-width="1.00" fill="none"/>
<path d="M894.60 10.10H1161.40M894.60 201.40H1161.40" stroke="#3c3c3c" stroke-width="1.25" fill="none" stroke-linecap="square"/>
<path d="M894.60 10.10V201.40M1161.40 10.10V201.40" stroke="#4a4a4a" stroke-width="0.95" fill="none"/>
<path d="M1160.4 10.1V201.4" stroke="#808080" stroke-width="1.4" fill="none"/>
<text x="872.0" y="231.5" font-size="25">10</text><text x="897.2" y="223.6" font-size="22">−</text><text x="910.0" y="223.1" font-size="17">3</text>
<text x="955.7" y="231.5" font-size="25">10</text><text x="980.9" y="223.6" font-size="22">−</text><text x="993.7" y="223.1" font-size="17">2</text>
<text x="1037.9" y="231.5" font-size="25">10</text><text x="1063.1" y="223.6" font-size="22">−</text><text x="1075.9" y="223.1" font-size="17">1</text>
<text x="1127.9" y="231.5" font-size="25">10</text><text x="1152.0" y="223.1" font-size="17">0</text>
<text x="885.6" y="209.5" font-size="25" text-anchor="end">0</text>
<text x="885.6" y="154.8" font-size="25" text-anchor="end">10</text>
<text x="885.6" y="100.1" font-size="25" text-anchor="end">20</text>
<text x="885.6" y="45.3" font-size="25" text-anchor="end">30</text>
<text x="810.4" y="24.4" font-size="28">(</text><text x="820.4" y="24.4" font-size="29" class="it">c</text><text x="834.6" y="24.4" font-size="28">)</text>
<text x="1008.8" y="272.2" font-size="29" class="it">y</text><text x="1022.5" y="277.4" font-size="36">/</text><text x="1034.8" y="271.6" font-size="27" class="it">δ</text>
<g transform="translate(839.2 133.2) rotate(-90)">
<text x="0" y="0" font-size="29" class="it">u</text>
<text x="13.4" y="5.0" font-size="20" class="it">as</text>
<text x="17.6" y="-15.8" font-size="19">2</text>
<path d="M1 -33.7H27.6" stroke="#111" stroke-width="1.1"/>
<text x="30.3" y="-25.6" font-size="26">+</text>
</g>
<rect x="1061.7" y="20.6" width="92.0" height="52.6" fill="#fff"/>
<rect x="1098.4" y="20.6" width="28.4" height="52.6" fill="#d4d4d4"/>
<path d="M1098.4 20.6V73.2M1126.8 20.6V73.2" stroke="#bdbdbd" stroke-width="0.6" stroke-dasharray="1 1" fill="none"/>
<clipPath id="ci"><rect x="1061.2" y="20.6" width="93.2" height="53.2"/></clipPath>
<path d="M1061.7 57.1H1100" stroke="#333" stroke-width="1" stroke-dasharray="3.6 2.4" fill="none"/>
<g clip-path="url(#ci)" fill="none" stroke-linecap="round" stroke-linejoin="round">
<path d="M1062.0 75.5C1063.0 75.1 1065.8 74.2 1068.0 73.2C1070.2 72.2 1072.7 70.8 1075.0 69.6C1077.3 68.4 1079.7 67.2 1082.0 66.0C1084.3 64.8 1086.8 63.6 1089.0 62.6C1091.2 61.6 1093.3 60.8 1095.0 60.2C1096.7 59.6 1097.3 59.5 1099.0 59.2C1100.7 58.9 1102.8 58.7 1105.0 58.6C1107.2 58.5 1109.5 58.4 1112.0 58.4C1114.5 58.4 1117.5 58.4 1120.0 58.4C1122.5 58.4 1125.2 58.4 1127.0 58.6C1128.8 58.8 1129.7 59.1 1131.0 59.6C1132.3 60.1 1133.8 61.1 1135.0 61.6C1136.2 62.1 1137.0 62.7 1138.0 62.8C1139.0 62.9 1139.8 62.1 1141.0 62.0C1142.2 61.9 1143.8 61.8 1145.0 62.0C1146.2 62.2 1147.0 62.4 1148.0 63.0C1149.0 63.6 1150.1 64.5 1151.0 65.4C1151.9 66.3 1153.0 68.0 1153.4 68.5" stroke="#08c808" stroke-width="2.6"/>
<path d="M1062.0 73.6C1063.0 73.2 1065.8 72.2 1068.0 71.2C1070.2 70.2 1072.7 69.0 1075.0 67.8C1077.3 66.6 1079.7 65.3 1082.0 64.2C1084.3 63.1 1086.8 61.9 1089.0 61.0C1091.2 60.1 1093.3 59.1 1095.0 58.6C1096.7 58.1 1097.3 58.0 1099.0 57.8C1100.7 57.6 1102.8 57.5 1105.0 57.4C1107.2 57.3 1109.5 57.2 1112.0 57.2C1114.5 57.2 1117.5 57.2 1120.0 57.2C1122.5 57.2 1125.2 57.2 1127.0 57.4C1128.8 57.6 1129.7 57.8 1131.0 58.2C1132.3 58.6 1133.8 59.3 1135.0 59.8C1136.2 60.3 1137.0 61.1 1138.0 61.2C1139.0 61.3 1139.8 60.6 1141.0 60.4C1142.2 60.2 1143.8 60.1 1145.0 60.2C1146.2 60.3 1147.0 60.6 1148.0 61.2C1149.0 61.8 1150.1 62.7 1151.0 63.6C1151.9 64.5 1153.0 66.3 1153.4 66.8" stroke="#3737ff" stroke-width="2.0"/>
<path d="M1062.0 69.8C1063.0 69.3 1065.8 67.8 1068.0 66.8C1070.2 65.8 1072.7 64.6 1075.0 63.6C1077.3 62.6 1079.7 61.6 1082.0 60.7C1084.3 59.8 1086.8 58.8 1089.0 58.1C1091.2 57.4 1093.3 56.7 1095.0 56.3C1096.7 55.9 1097.3 55.9 1099.0 55.8C1100.7 55.7 1102.8 55.7 1105.0 55.6C1107.2 55.5 1109.5 55.5 1112.0 55.4C1114.5 55.3 1117.5 55.3 1120.0 55.3C1122.5 55.3 1125.2 55.4 1127.0 55.5C1128.8 55.6 1129.7 55.9 1131.0 56.2C1132.3 56.5 1133.8 57.1 1135.0 57.4C1136.2 57.7 1137.0 58.1 1138.0 58.2C1139.0 58.3 1139.8 57.9 1141.0 57.8C1142.2 57.7 1143.8 57.5 1145.0 57.6C1146.2 57.7 1147.0 58.0 1148.0 58.6C1149.0 59.2 1150.1 60.1 1151.0 61.0C1151.9 61.9 1153.0 63.7 1153.4 64.2" stroke="#ff7f0e" stroke-width="3.2"/>
<path d="M1062.0 72.4C1063.0 72.0 1065.8 70.8 1068.0 69.8C1070.2 68.8 1072.7 67.5 1075.0 66.4C1077.3 65.3 1079.7 64.1 1082.0 63.0C1084.3 61.9 1086.8 60.9 1089.0 60.0C1091.2 59.1 1093.3 58.3 1095.0 57.8C1096.7 57.3 1097.3 57.4 1099.0 57.2C1100.7 57.0 1102.8 56.9 1105.0 56.8C1107.2 56.7 1109.5 56.6 1112.0 56.6C1114.5 56.6 1117.5 56.6 1120.0 56.6C1122.5 56.6 1125.2 56.7 1127.0 56.8C1128.8 56.9 1129.7 57.1 1131.0 57.4C1132.3 57.7 1133.8 58.4 1135.0 58.8C1136.2 59.2 1137.0 59.7 1138.0 59.8C1139.0 59.9 1139.8 59.3 1141.0 59.2C1142.2 59.1 1143.8 58.9 1145.0 59.0C1146.2 59.1 1147.0 59.4 1148.0 60.0C1149.0 60.6 1150.1 61.5 1151.0 62.4C1151.9 63.3 1153.0 65.1 1153.4 65.6" stroke="#000000" stroke-width="2.3"/>
</g>
<rect x="1061.7" y="20.6" width="92.0" height="52.6" fill="none" stroke="#222" stroke-width="1.1"/>
<path d="M1063.70 73.20v-2.20M1063.70 20.60v2.20M1067.17 73.20v-1.10M1067.17 20.60v1.10M1070.64 73.20v-1.10M1070.64 20.60v1.10M1074.11 73.20v-1.10M1074.11 20.60v1.10M1077.58 73.20v-1.10M1077.58 20.60v1.10M1081.05 73.20v-2.20M1081.05 20.60v2.20M1084.52 73.20v-1.10M1084.52 20.60v1.10M1087.99 73.20v-1.10M1087.99 20.60v1.10M1091.46 73.20v-1.10M1091.46 20.60v1.10M1094.93 73.20v-1.10M1094.93 20.60v1.10M1098.40 73.20v-2.20M1098.40 20.60v2.20M1101.87 73.20v-1.10M1101.87 20.60v1.10M1105.34 73.20v-1.10M1105.34 20.60v1.10M1108.81 73.20v-1.10M1108.81 20.60v1.10M1112.28 73.20v-1.10M1112.28 20.60v1.10M1115.75 73.20v-2.20M1115.75 20.60v2.20M1119.22 73.20v-1.10M1119.22 20.60v1.10M1122.69 73.20v-1.10M1122.69 20.60v1.10M1126.16 73.20v-1.10M1126.16 20.60v1.10M1129.63 73.20v-1.10M1129.63 20.60v1.10M1133.10 73.20v-2.20M1133.10 20.60v2.20M1136.57 73.20v-1.10M1136.57 20.60v1.10M1140.04 73.20v-1.10M1140.04 20.60v1.10M1143.51 73.20v-1.10M1143.51 20.60v1.10M1146.98 73.20v-1.10M1146.98 20.60v1.10M1150.45 73.20v-2.20M1150.45 20.60v2.20M1061.70 70.46h1.10M1153.70 70.46h-1.10M1061.70 66.80h2.20M1153.70 66.80h-2.20M1061.70 63.14h1.10M1153.70 63.14h-1.10M1061.70 59.48h1.10M1153.70 59.48h-1.10M1061.70 55.82h1.10M1153.70 55.82h-1.10M1061.70 52.16h1.10M1153.70 52.16h-1.10M1061.70 48.50h2.20M1153.70 48.50h-2.20M1061.70 44.84h1.10M1153.70 44.84h-1.10M1061.70 41.18h1.10M1153.70 41.18h-1.10M1061.70 37.52h1.10M1153.70 37.52h-1.10M1061.70 33.86h1.10M1153.70 33.86h-1.10M1061.70 30.20h2.20M1153.70 30.20h-2.20M1061.70 26.54h1.10M1153.70 26.54h-1.10M1061.70 22.88h1.10M1153.70 22.88h-1.10" stroke="#222" stroke-width="0.7" fill="none"/>
<text x="1056.6" y="35.3" font-size="16" text-anchor="end">5</text>
<text x="1056.6" y="53.6" font-size="16" text-anchor="end">0</text>
<text x="1056.6" y="71.9" font-size="16" text-anchor="end">5</text>
<text x="1037.6" y="73.1" font-size="21">−</text>
<text x="1098.2" y="94.4" font-size="16" text-anchor="middle">0.1</text>
<text x="1132.9" y="94.4" font-size="16" text-anchor="middle">0.2</text>
<text x="0" y="0" font-size="14" transform="translate(1025.2 46.5) skewX(-14) scale(1.22 1)">Ξ</text><text x="1036.3" y="48.9" font-size="11">1</text>
</g>
</svg></body></html>
